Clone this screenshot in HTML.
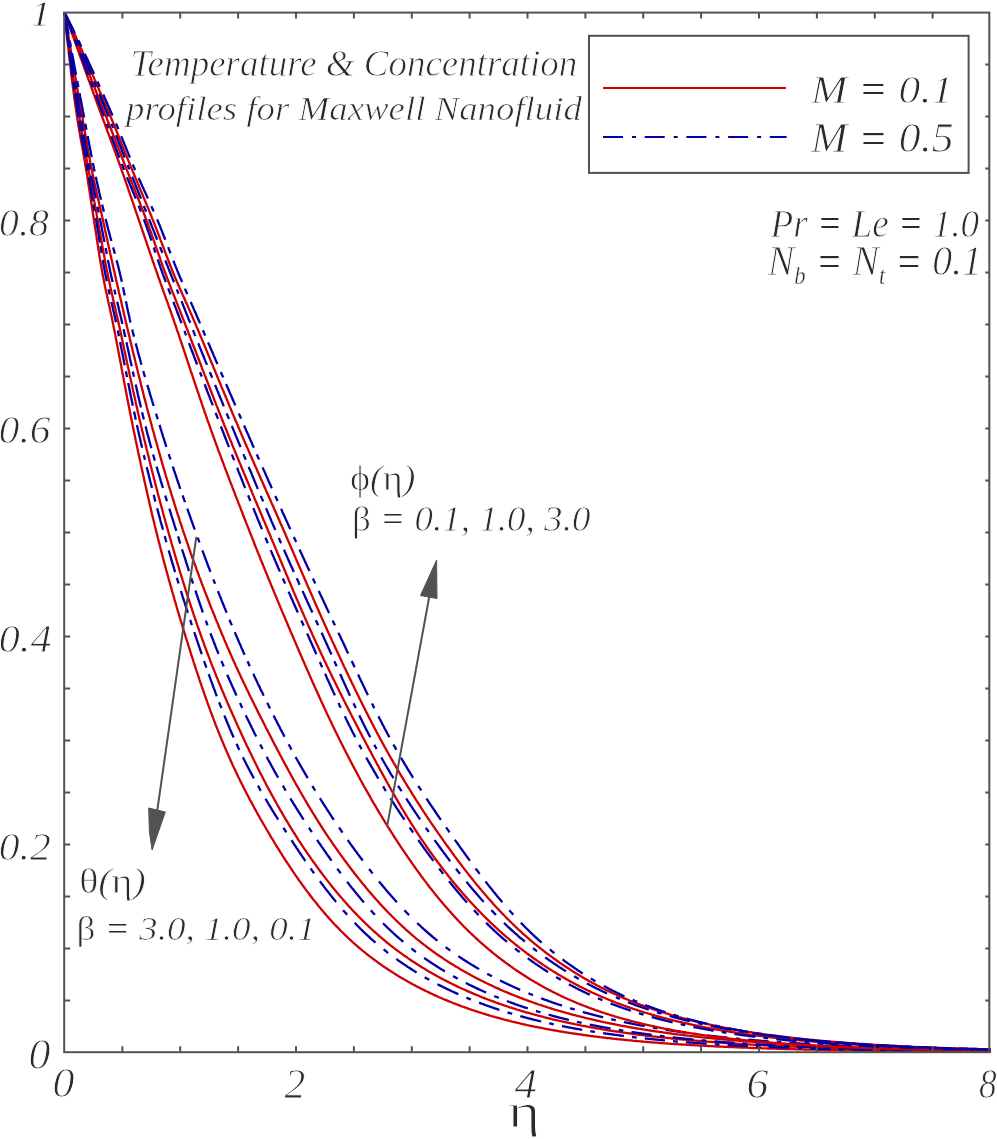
<!DOCTYPE html>
<html><head><meta charset="utf-8"><style>
html,body{margin:0;padding:0;background:#fff;}
body{width:997px;height:1139px;overflow:hidden;position:relative;}
svg{position:absolute;left:0;top:0;}
text{fill:#2a2a2a;stroke:#fff;stroke-width:0.8px;}
</style></head><body>
<svg width="997" height="1139" viewBox="0 0 997 1139">
<rect width="997" height="1139" fill="#fff"/>
<g fill="none" stroke-width="2.3" stroke-linejoin="round">
<path d="M64.5,12.5 L65.1,18.3 L65.7,23.9 L66.2,29.5 L66.8,34.9 L67.4,40.3 L68.0,45.6 L68.6,50.8 L69.1,55.9 L69.7,60.9 L70.3,65.8 L70.9,70.6 L71.4,75.4 L72.0,80.0 L72.6,84.6 L73.2,89.1 L73.8,93.5 L74.3,97.8 L74.9,102.0 L75.5,106.2 L76.1,110.2 L76.7,114.2 L77.2,118.1 L77.8,121.9 L78.4,125.5 L79.0,128.9 L79.6,132.3 L80.1,135.6 L80.7,138.8 L81.3,142.0 L81.9,145.2 L82.5,148.3 L83.0,151.5 L83.6,154.7 L84.2,157.9 L84.8,161.2 L85.3,164.6 L85.9,168.1 L86.5,171.6 L87.1,175.3 L87.7,179.0 L88.2,182.7 L88.8,186.5 L89.4,190.3 L90.0,194.1 L90.6,198.0 L91.1,201.8 L91.7,205.6 L92.3,209.5 L92.9,213.2 L93.5,217.0 L94.0,220.7 L94.6,224.4 L95.2,228.2 L95.8,232.0 L96.4,235.8 L96.9,239.6 L97.5,243.3 L98.1,247.1 L98.7,250.8 L99.2,254.4 L99.8,258.0 L100.4,261.6 L101.0,265.0 L101.6,268.4 L102.1,271.6 L102.7,274.8 L103.3,277.8 L103.9,280.8 L104.5,283.7 L105.0,286.5 L105.6,289.3 L106.2,292.0 L106.8,294.6 L107.4,297.3 L107.9,299.9 L108.5,302.5 L109.1,305.2 L109.7,307.8 L110.2,310.4 L110.8,313.1 L111.4,315.8 L112.0,318.6 L112.6,321.4 L113.1,324.2 L113.7,327.1 L114.3,330.1 L114.9,333.0 L115.5,336.0 L116.0,339.0 L116.6,342.0 L117.2,345.0 L117.8,348.0 L118.4,351.1 L118.9,354.1 L119.5,357.2 L120.1,360.3 L120.7,363.3 L121.3,366.4 L121.8,369.5 L122.4,372.5 L123.0,375.6 L123.6,378.7 L124.1,381.8 L124.7,384.8 L125.3,387.9 L125.9,390.9 L126.5,393.9 L127.0,397.0 L127.6,400.0 L128.2,403.0 L128.8,405.9 L129.4,408.9 L129.9,411.8 L130.5,414.8 L131.1,417.7 L131.7,420.5 L132.3,423.4 L132.8,426.2 L133.4,429.1 L134.0,431.9 L134.6,434.6 L135.2,437.4 L135.7,440.2 L136.3,443.0 L136.9,445.7 L137.5,448.5 L138.0,451.2 L138.6,453.9 L139.2,456.7 L139.8,459.4 L140.4,462.1 L140.9,464.8 L141.5,467.4 L142.1,470.1 L142.7,472.8 L143.3,475.4 L143.8,478.1 L144.4,480.7 L145.0,483.3 L145.6,485.9 L146.2,488.5 L146.7,491.1 L147.3,493.6 L147.9,496.2 L148.5,498.7 L149.1,501.2 L149.6,503.7 L150.2,506.2 L150.8,508.7 L151.4,511.2 L151.9,513.7 L152.5,516.1 L153.1,518.5 L153.7,521.0 L154.3,523.4 L154.8,525.7 L155.4,528.1 L156.0,530.5 L156.6,532.8 L157.2,535.1 L157.7,537.5 L158.3,539.8 L158.9,542.1 L159.5,544.3 L160.1,546.6 L160.6,548.8 L161.2,551.1 L161.8,553.3 L162.4,555.5 L162.9,557.7 L163.5,559.9 L164.1,562.1 L164.7,564.3 L165.3,566.4 L165.8,568.6 L166.4,570.7 L167.0,572.8 L167.6,574.9 L168.2,577.0 L168.7,579.1 L169.3,581.2 L169.9,583.3 L170.5,585.3 L171.1,587.4 L171.6,589.4 L172.2,591.5 L172.8,593.5 L173.4,595.5 L174.0,597.5 L174.5,599.6 L175.1,601.5 L175.7,603.5 L176.3,605.5 L176.8,607.5 L177.4,609.5 L178.0,611.4 L178.6,613.4 L179.2,615.3 L179.7,617.3 L180.3,619.2 L180.9,621.1 L181.5,623.0 L182.1,624.9 L182.6,626.8 L183.2,628.7 L183.8,630.6 L184.4,632.5 L185.0,634.4 L185.5,636.3 L186.1,638.2 L186.7,640.0 L187.3,641.9 L187.9,643.7 L188.4,645.6 L189.0,647.4 L189.6,649.3 L190.2,651.1 L190.7,652.9 L191.3,654.8 L191.9,656.6 L192.5,658.4 L193.1,660.2 L193.6,662.0 L194.2,663.8 L194.8,665.5 L195.4,667.3 L196.0,669.1 L196.5,670.8 L197.1,672.6 L197.7,674.3 L198.3,676.1 L198.9,677.8 L199.4,679.5 L200.0,681.3 L200.6,683.0 L201.2,684.7 L201.7,686.4 L202.3,688.0 L202.9,689.7 L203.5,691.4 L204.1,693.1 L204.6,694.7 L205.2,696.4 L205.8,698.0 L206.4,699.6 L207.0,701.3 L207.5,702.9 L208.1,704.5 L208.7,706.1 L209.3,707.7 L209.9,709.3 L210.4,710.8 L211.0,712.4 L211.6,714.0 L212.2,715.5 L212.8,717.1 L213.3,718.6 L213.9,720.1 L214.5,721.6 L215.1,723.1 L215.6,724.6 L216.2,726.1 L216.8,727.6 L217.4,729.1 L218.0,730.5 L218.5,732.0 L219.1,733.4 L219.7,734.9 L220.3,736.3 L220.9,737.7 L221.4,739.1 L222.0,740.5 L222.6,741.9 L223.2,743.3 L223.8,744.7 L224.3,746.1 L224.9,747.4 L225.5,748.8 L226.1,750.1 L226.7,751.5 L227.2,752.8 L227.8,754.1 L228.4,755.4 L229.0,756.7 L229.5,758.0 L230.1,759.3 L230.7,760.6 L231.3,761.9 L231.9,763.1 L232.4,764.4 L233.0,765.7 L233.6,766.9 L234.2,768.2 L234.8,769.4 L235.3,770.6 L235.9,771.8 L236.5,773.1 L237.1,774.3 L237.7,775.5 L238.2,776.7 L238.8,777.9 L239.4,779.0 L240.0,780.2 L240.6,781.4 L241.1,782.6 L241.7,783.7 L242.3,784.9 L242.9,786.0 L243.4,787.2 L244.0,788.3 L244.6,789.5 L245.2,790.6 L245.8,791.7 L246.3,792.9 L246.9,794.0 L247.5,795.1 L248.1,796.2 L248.7,797.3 L249.2,798.4 L249.8,799.5 L250.4,800.6 L251.0,801.7 L251.6,802.7 L252.1,803.8 L252.7,804.9 L253.3,806.0 L253.9,807.0 L254.4,808.1 L255.0,809.1 L255.6,810.2 L256.2,811.2 L256.8,812.3 L257.3,813.3 L257.9,814.4 L258.5,815.4 L259.1,816.4 L259.7,817.5 L260.2,818.5 L260.8,819.5 L261.4,820.5 L262.0,821.5 L262.6,822.5 L263.1,823.5 L263.7,824.5 L264.3,825.5 L265.5,827.5 L266.6,829.5 L267.8,831.5 L268.9,833.4 L270.1,835.4 L271.2,837.3 L272.4,839.2 L273.6,841.2 L274.7,843.1 L275.9,845.0 L277.0,846.8 L278.2,848.7 L279.4,850.6 L280.5,852.4 L281.7,854.2 L282.8,856.1 L284.0,857.9 L285.1,859.7 L286.3,861.5 L287.5,863.2 L288.6,865.0 L289.8,866.7 L290.9,868.5 L292.1,870.2 L293.2,871.9 L294.4,873.6 L295.6,875.3 L296.7,877.0 L297.9,878.6 L299.0,880.3 L300.2,881.9 L301.4,883.5 L302.5,885.1 L303.7,886.7 L304.8,888.3 L306.0,889.9 L307.1,891.4 L308.3,892.9 L309.5,894.5 L310.6,896.0 L311.8,897.5 L312.9,899.0 L314.1,900.4 L315.3,901.9 L316.4,903.3 L317.6,904.8 L318.7,906.2 L319.9,907.6 L321.0,909.0 L322.2,910.4 L323.4,911.7 L324.5,913.1 L325.7,914.4 L326.8,915.8 L328.0,917.1 L329.2,918.4 L330.3,919.7 L331.5,920.9 L332.6,922.2 L333.8,923.5 L334.9,924.7 L336.1,925.9 L337.3,927.1 L338.4,928.3 L339.6,929.5 L340.7,930.7 L341.9,931.9 L343.1,933.0 L344.2,934.2 L345.4,935.3 L346.5,936.4 L347.7,937.5 L348.8,938.6 L350.0,939.7 L351.2,940.7 L352.3,941.8 L353.5,942.8 L354.6,943.9 L355.8,944.9 L357.0,945.9 L358.1,946.9 L359.3,947.9 L360.4,948.9 L361.6,949.8 L362.7,950.8 L363.9,951.7 L365.1,952.7 L366.2,953.6 L367.4,954.5 L368.5,955.4 L369.7,956.3 L370.9,957.2 L372.0,958.1 L373.2,959.0 L374.3,959.8 L375.5,960.7 L376.6,961.5 L377.8,962.4 L379.0,963.2 L380.1,964.0 L381.3,964.8 L382.4,965.7 L383.6,966.5 L384.7,967.2 L385.9,968.0 L387.1,968.8 L388.2,969.6 L389.4,970.3 L390.5,971.1 L391.7,971.8 L392.9,972.6 L394.0,973.3 L395.2,974.0 L396.3,974.8 L397.5,975.5 L398.6,976.2 L399.8,976.9 L401.0,977.6 L402.1,978.3 L403.3,978.9 L404.4,979.6 L405.6,980.3 L406.8,980.9 L407.9,981.6 L409.1,982.2 L410.2,982.9 L411.4,983.5 L412.5,984.2 L413.7,984.8 L414.9,985.4 L416.0,986.0 L417.2,986.6 L418.3,987.2 L419.5,987.8 L420.7,988.4 L421.8,989.0 L423.0,989.6 L424.1,990.1 L425.3,990.7 L426.4,991.3 L427.6,991.8 L428.8,992.4 L429.9,992.9 L431.1,993.5 L432.2,994.0 L433.4,994.6 L434.6,995.1 L435.7,995.6 L436.9,996.1 L438.0,996.7 L439.2,997.2 L440.3,997.7 L441.5,998.2 L442.7,998.7 L443.8,999.2 L445.0,999.7 L446.1,1000.1 L447.3,1000.6 L448.5,1001.1 L449.6,1001.6 L450.8,1002.0 L451.9,1002.5 L453.1,1003.0 L454.2,1003.4 L455.4,1003.9 L456.6,1004.3 L457.7,1004.8 L458.9,1005.2 L460.0,1005.6 L461.2,1006.1 L462.3,1006.5 L463.5,1006.9 L464.7,1007.3 L465.8,1007.7 L467.0,1008.1 L468.1,1008.6 L469.3,1009.0 L470.5,1009.4 L471.6,1009.8 L472.8,1010.1 L473.9,1010.5 L475.1,1010.9 L476.2,1011.3 L477.4,1011.7 L478.6,1012.1 L479.7,1012.4 L480.9,1012.8 L482.0,1013.2 L483.2,1013.5 L484.4,1013.9 L485.5,1014.2 L486.7,1014.6 L487.8,1014.9 L489.0,1015.3 L490.1,1015.6 L491.3,1016.0 L492.5,1016.3 L493.6,1016.6 L494.8,1017.0 L495.9,1017.3 L497.1,1017.6 L498.3,1017.9 L499.4,1018.2 L500.6,1018.6 L501.7,1018.9 L502.9,1019.2 L504.0,1019.5 L505.2,1019.8 L506.4,1020.1 L507.5,1020.4 L508.7,1020.7 L509.8,1021.0 L511.0,1021.3 L512.2,1021.6 L513.3,1021.8 L514.5,1022.1 L515.6,1022.4 L516.8,1022.7 L517.9,1022.9 L519.1,1023.2 L520.3,1023.5 L521.4,1023.8 L522.6,1024.0 L523.7,1024.3 L524.9,1024.5 L526.1,1024.8 L527.2,1025.1 L528.4,1025.3 L529.5,1025.6 L530.7,1025.8 L531.8,1026.0 L533.0,1026.3 L534.2,1026.5 L535.3,1026.8 L536.5,1027.0 L537.6,1027.2 L538.8,1027.5 L540.0,1027.7 L541.1,1027.9 L542.3,1028.2 L543.4,1028.4 L544.6,1028.6 L545.7,1028.8 L546.9,1029.0 L548.1,1029.3 L549.2,1029.5 L550.4,1029.7 L551.5,1029.9 L552.7,1030.1 L553.8,1030.3 L555.0,1030.5 L556.2,1030.7 L557.3,1030.9 L558.5,1031.1 L559.6,1031.3 L560.8,1031.5 L562.0,1031.7 L563.1,1031.9 L564.3,1032.1 L565.4,1032.3 L566.6,1032.4 L567.7,1032.6 L568.9,1032.8 L570.1,1033.0 L571.2,1033.2 L572.4,1033.3 L573.5,1033.5 L574.7,1033.7 L575.9,1033.9 L577.0,1034.0 L578.2,1034.2 L579.3,1034.4 L580.5,1034.5 L581.6,1034.7 L582.8,1034.9 L584.0,1035.0 L585.1,1035.2 L586.3,1035.4 L587.4,1035.5 L588.6,1035.7 L589.8,1035.8 L590.9,1036.0 L592.1,1036.1 L593.2,1036.3 L594.4,1036.4 L595.5,1036.6 L596.7,1036.7 L597.9,1036.9 L599.0,1037.0 L600.2,1037.2 L601.3,1037.3 L602.5,1037.4 L603.7,1037.6 L604.8,1037.7 L606.0,1037.8 L607.1,1038.0 L608.3,1038.1 L609.4,1038.2 L610.6,1038.4 L611.8,1038.5 L612.9,1038.6 L614.1,1038.8 L615.2,1038.9 L616.4,1039.0 L617.6,1039.1 L618.7,1039.3 L619.9,1039.4 L621.0,1039.5 L622.2,1039.6 L623.3,1039.7 L624.5,1039.9 L625.7,1040.0 L626.8,1040.1 L628.0,1040.2 L629.1,1040.3 L630.3,1040.4 L631.5,1040.5 L632.6,1040.6 L633.8,1040.8 L634.9,1040.9 L636.1,1041.0 L637.2,1041.1 L638.4,1041.2 L639.6,1041.3 L640.7,1041.4 L641.9,1041.5 L643.0,1041.6 L644.2,1041.7 L645.3,1041.8 L646.5,1041.9 L647.7,1042.0 L648.8,1042.1 L650.0,1042.2 L651.1,1042.3 L652.3,1042.4 L653.5,1042.5 L654.6,1042.6 L655.8,1042.6 L656.9,1042.7 L658.1,1042.8 L659.2,1042.9 L660.4,1043.0 L661.6,1043.1 L662.7,1043.2 L663.9,1043.3 L665.0,1043.3 L666.2,1043.4 L667.4,1043.5 L668.5,1043.6 L669.7,1043.7 L670.8,1043.8 L672.0,1043.8 L673.1,1043.9 L674.3,1044.0 L675.5,1044.1 L676.6,1044.2 L677.8,1044.2 L678.9,1044.3 L680.1,1044.4 L681.3,1044.5 L682.4,1044.5 L683.6,1044.6 L684.7,1044.7 L685.9,1044.7 L687.0,1044.8 L688.2,1044.9 L689.4,1045.0 L690.5,1045.0 L691.7,1045.1 L692.8,1045.2 L694.0,1045.2 L695.2,1045.3 L696.3,1045.4 L697.5,1045.4 L698.6,1045.5 L699.8,1045.6 L700.9,1045.6 L702.1,1045.7 L703.3,1045.7 L704.4,1045.8 L705.6,1045.9 L706.7,1045.9 L707.9,1046.0 L709.1,1046.1 L710.2,1046.1 L711.4,1046.2 L712.5,1046.2 L713.7,1046.3 L714.8,1046.3 L716.0,1046.4 L717.2,1046.5 L718.3,1046.5 L719.5,1046.6 L720.6,1046.6 L721.8,1046.7 L723.0,1046.7 L724.1,1046.8 L725.3,1046.8 L726.4,1046.9 L727.6,1046.9 L728.7,1047.0 L729.9,1047.0 L731.1,1047.1 L732.2,1047.1 L733.4,1047.2 L734.5,1047.2 L735.7,1047.3 L736.8,1047.3 L738.0,1047.4 L739.2,1047.4 L740.3,1047.5 L741.5,1047.5 L742.6,1047.6 L743.8,1047.6 L745.0,1047.7 L746.1,1047.7 L747.3,1047.7 L748.4,1047.8 L749.6,1047.8 L750.7,1047.9 L751.9,1047.9 L753.1,1048.0 L754.2,1048.0 L755.4,1048.0 L756.5,1048.1 L757.7,1048.1 L758.9,1048.2 L760.0,1048.2 L761.2,1048.2 L762.3,1048.3 L763.5,1048.3 L764.6,1048.4 L765.8,1048.4 L767.0,1048.4 L768.1,1048.5 L769.3,1048.5 L770.4,1048.5 L771.6,1048.6 L772.8,1048.6 L773.9,1048.7 L775.1,1048.7 L776.2,1048.7 L777.4,1048.8 L778.5,1048.8 L779.7,1048.8 L780.9,1048.9 L782.0,1048.9 L783.2,1048.9 L784.3,1049.0 L785.5,1049.0 L786.7,1049.0 L787.8,1049.1 L789.0,1049.1 L790.1,1049.1 L791.3,1049.2 L792.4,1049.2 L793.6,1049.2 L794.8,1049.2 L795.9,1049.3 L797.1,1049.3 L798.2,1049.3 L799.4,1049.4 L800.6,1049.4 L801.7,1049.4 L802.9,1049.4 L804.0,1049.5 L805.2,1049.5 L806.3,1049.5 L807.5,1049.6 L808.7,1049.6 L809.8,1049.6 L811.0,1049.6 L812.1,1049.7 L813.3,1049.7 L814.4,1049.7 L815.6,1049.7 L816.8,1049.8 L817.9,1049.8 L819.1,1049.8 L820.2,1049.8 L821.4,1049.9 L822.6,1049.9 L823.7,1049.9 L824.9,1049.9 L826.0,1050.0 L827.2,1050.0 L828.3,1050.0 L829.5,1050.0 L830.7,1050.1 L831.8,1050.1 L833.0,1050.1 L834.1,1050.1 L835.3,1050.1 L836.5,1050.2 L837.6,1050.2 L838.8,1050.2 L839.9,1050.2 L841.1,1050.2 L842.2,1050.3 L843.4,1050.3 L844.6,1050.3 L845.7,1050.3 L846.9,1050.3 L848.0,1050.4 L849.2,1050.4 L850.4,1050.4 L851.5,1050.4 L852.7,1050.4 L853.8,1050.5 L855.0,1050.5 L856.1,1050.5 L857.3,1050.5 L858.5,1050.5 L859.6,1050.6 L860.8,1050.6 L861.9,1050.6 L863.1,1050.6 L864.3,1050.6 L865.4,1050.6 L866.6,1050.7 L867.7,1050.7 L868.9,1050.7 L870.0,1050.7 L871.2,1050.7 L872.4,1050.7 L873.5,1050.8 L874.7,1050.8 L875.8,1050.8 L877.0,1050.8 L878.2,1050.8 L879.3,1050.8 L880.5,1050.9 L881.6,1050.9 L882.8,1050.9 L883.9,1050.9 L885.1,1050.9 L886.3,1050.9 L887.4,1050.9 L888.6,1051.0 L889.7,1051.0 L890.9,1051.0 L892.1,1051.0 L893.2,1051.0 L894.4,1051.0 L895.5,1051.0 L896.7,1051.1 L897.8,1051.1 L899.0,1051.1 L900.2,1051.1 L901.3,1051.1 L902.5,1051.1 L903.6,1051.1 L904.8,1051.1 L905.9,1051.2 L907.1,1051.2 L908.3,1051.2 L909.4,1051.2 L910.6,1051.2 L911.7,1051.2 L912.9,1051.2 L914.1,1051.2 L915.2,1051.3 L916.4,1051.3 L917.5,1051.3 L918.7,1051.3 L919.8,1051.3 L921.0,1051.3 L922.2,1051.3 L923.3,1051.3 L924.5,1051.3 L925.6,1051.4 L926.8,1051.4 L928.0,1051.4 L929.1,1051.4 L930.3,1051.4 L931.4,1051.4 L932.6,1051.4 L933.7,1051.4 L934.9,1051.4 L936.1,1051.4 L937.2,1051.5 L938.4,1051.5 L939.5,1051.5 L940.7,1051.5 L941.9,1051.5 L943.0,1051.5 L944.2,1051.5 L945.3,1051.5 L946.5,1051.5 L947.6,1051.5 L948.8,1051.5 L950.0,1051.6 L951.1,1051.6 L952.3,1051.6 L953.4,1051.6 L954.6,1051.6 L955.8,1051.6 L956.9,1051.6 L958.1,1051.6 L959.2,1051.6 L960.4,1051.6 L961.5,1051.6 L962.7,1051.6 L963.9,1051.7 L965.0,1051.7 L966.2,1051.7 L967.3,1051.7 L968.5,1051.7 L969.7,1051.7 L970.8,1051.7 L972.0,1051.7 L973.1,1051.7 L974.3,1051.7 L975.4,1051.7 L976.6,1051.7 L977.8,1051.7 L978.9,1051.7 L980.1,1051.8 L981.2,1051.8 L982.4,1051.8 L983.6,1051.8 L984.7,1051.8 L985.9,1051.8 L987.0,1051.8 L988.2,1051.8 L989.3,1051.8 L990.5,1051.8" stroke="#d00000"/>
<path d="M64.5,12.5 L65.1,17.1 L65.7,21.7 L66.2,26.2 L66.8,30.7 L67.4,35.1 L68.0,39.5 L68.6,43.9 L69.1,48.2 L69.7,52.4 L70.3,56.6 L70.9,60.8 L71.4,64.9 L72.0,69.0 L72.6,73.1 L73.2,77.1 L73.8,81.1 L74.3,85.0 L74.9,88.9 L75.5,92.7 L76.1,96.6 L76.7,100.3 L77.2,104.1 L77.8,107.8 L78.4,111.5 L79.0,115.1 L79.6,118.7 L80.1,122.2 L80.7,125.7 L81.3,129.1 L81.9,132.5 L82.5,135.9 L83.0,139.2 L83.6,142.4 L84.2,145.7 L84.8,148.9 L85.3,152.1 L85.9,155.3 L86.5,158.5 L87.1,161.7 L87.7,165.0 L88.2,168.2 L88.8,171.4 L89.4,174.6 L90.0,177.8 L90.6,181.0 L91.1,184.2 L91.7,187.4 L92.3,190.5 L92.9,193.7 L93.5,196.8 L94.0,200.0 L94.6,203.1 L95.2,206.3 L95.8,209.4 L96.4,212.6 L96.9,215.7 L97.5,218.9 L98.1,222.1 L98.7,225.3 L99.2,228.5 L99.8,231.8 L100.4,235.0 L101.0,238.3 L101.6,241.6 L102.1,244.8 L102.7,248.1 L103.3,251.3 L103.9,254.5 L104.5,257.7 L105.0,260.8 L105.6,263.9 L106.2,266.9 L106.8,269.9 L107.4,272.8 L107.9,275.6 L108.5,278.4 L109.1,281.1 L109.7,283.8 L110.2,286.4 L110.8,289.0 L111.4,291.6 L112.0,294.2 L112.6,296.7 L113.1,299.2 L113.7,301.7 L114.3,304.2 L114.9,306.7 L115.5,309.3 L116.0,311.8 L116.6,314.3 L117.2,316.9 L117.8,319.4 L118.4,322.0 L118.9,324.7 L119.5,327.3 L120.1,330.0 L120.7,332.7 L121.3,335.3 L121.8,338.0 L122.4,340.7 L123.0,343.4 L123.6,346.1 L124.1,348.8 L124.7,351.5 L125.3,354.2 L125.9,357.0 L126.5,359.7 L127.0,362.4 L127.6,365.1 L128.2,367.8 L128.8,370.5 L129.4,373.2 L129.9,375.9 L130.5,378.6 L131.1,381.2 L131.7,383.9 L132.3,386.6 L132.8,389.2 L133.4,391.9 L134.0,394.5 L134.6,397.2 L135.2,399.8 L135.7,402.4 L136.3,405.0 L136.9,407.6 L137.5,410.2 L138.0,412.7 L138.6,415.3 L139.2,417.8 L139.8,420.3 L140.4,422.8 L140.9,425.3 L141.5,427.7 L142.1,430.2 L142.7,432.6 L143.3,435.1 L143.8,437.5 L144.4,439.9 L145.0,442.3 L145.6,444.7 L146.2,447.1 L146.7,449.5 L147.3,451.8 L147.9,454.2 L148.5,456.5 L149.1,458.9 L149.6,461.2 L150.2,463.5 L150.8,465.9 L151.4,468.2 L151.9,470.5 L152.5,472.8 L153.1,475.0 L153.7,477.3 L154.3,479.6 L154.8,481.8 L155.4,484.1 L156.0,486.3 L156.6,488.5 L157.2,490.8 L157.7,493.0 L158.3,495.2 L158.9,497.4 L159.5,499.5 L160.1,501.7 L160.6,503.9 L161.2,506.0 L161.8,508.2 L162.4,510.3 L162.9,512.5 L163.5,514.6 L164.1,516.7 L164.7,518.8 L165.3,520.9 L165.8,523.0 L166.4,525.1 L167.0,527.2 L167.6,529.2 L168.2,531.3 L168.7,533.3 L169.3,535.4 L169.9,537.4 L170.5,539.5 L171.1,541.5 L171.6,543.5 L172.2,545.5 L172.8,547.5 L173.4,549.5 L174.0,551.5 L174.5,553.4 L175.1,555.4 L175.7,557.4 L176.3,559.3 L176.8,561.3 L177.4,563.2 L178.0,565.1 L178.6,567.1 L179.2,569.0 L179.7,570.9 L180.3,572.8 L180.9,574.7 L181.5,576.6 L182.1,578.4 L182.6,580.3 L183.2,582.2 L183.8,584.0 L184.4,585.9 L185.0,587.7 L185.5,589.5 L186.1,591.4 L186.7,593.2 L187.3,595.0 L187.9,596.8 L188.4,598.6 L189.0,600.4 L189.6,602.1 L190.2,603.9 L190.7,605.7 L191.3,607.4 L191.9,609.2 L192.5,610.9 L193.1,612.7 L193.6,614.4 L194.2,616.1 L194.8,617.8 L195.4,619.5 L196.0,621.2 L196.5,622.9 L197.1,624.6 L197.7,626.3 L198.3,627.9 L198.9,629.6 L199.4,631.2 L200.0,632.9 L200.6,634.5 L201.2,636.1 L201.7,637.8 L202.3,639.4 L202.9,641.0 L203.5,642.6 L204.1,644.2 L204.6,645.7 L205.2,647.3 L205.8,648.9 L206.4,650.4 L207.0,652.0 L207.5,653.5 L208.1,655.0 L208.7,656.6 L209.3,658.1 L209.9,659.6 L210.4,661.1 L211.0,662.6 L211.6,664.1 L212.2,665.6 L212.8,667.0 L213.3,668.5 L213.9,670.0 L214.5,671.4 L215.1,672.9 L215.6,674.3 L216.2,675.8 L216.8,677.2 L217.4,678.6 L218.0,680.1 L218.5,681.5 L219.1,682.9 L219.7,684.3 L220.3,685.7 L220.9,687.1 L221.4,688.5 L222.0,689.9 L222.6,691.3 L223.2,692.6 L223.8,694.0 L224.3,695.4 L224.9,696.7 L225.5,698.1 L226.1,699.4 L226.7,700.8 L227.2,702.1 L227.8,703.5 L228.4,704.8 L229.0,706.1 L229.5,707.5 L230.1,708.8 L230.7,710.1 L231.3,711.4 L231.9,712.7 L232.4,714.0 L233.0,715.3 L233.6,716.6 L234.2,717.9 L234.8,719.2 L235.3,720.5 L235.9,721.8 L236.5,723.1 L237.1,724.4 L237.7,725.6 L238.2,726.9 L238.8,728.2 L239.4,729.4 L240.0,730.7 L240.6,732.0 L241.1,733.2 L241.7,734.5 L242.3,735.7 L242.9,737.0 L243.4,738.2 L244.0,739.5 L244.6,740.7 L245.2,742.0 L245.8,743.2 L246.3,744.4 L246.9,745.7 L247.5,746.9 L248.1,748.1 L248.7,749.3 L249.2,750.5 L249.8,751.7 L250.4,752.9 L251.0,754.1 L251.6,755.3 L252.1,756.5 L252.7,757.7 L253.3,758.9 L253.9,760.1 L254.4,761.3 L255.0,762.4 L255.6,763.6 L256.2,764.8 L256.8,765.9 L257.3,767.1 L257.9,768.3 L258.5,769.4 L259.1,770.6 L259.7,771.7 L260.2,772.9 L260.8,774.0 L261.4,775.1 L262.0,776.3 L262.6,777.4 L263.1,778.5 L263.7,779.6 L264.3,780.7 L264.9,781.8 L265.5,783.0 L266.0,784.1 L266.6,785.2 L267.2,786.3 L267.8,787.3 L268.3,788.4 L268.9,789.5 L269.5,790.6 L270.1,791.7 L270.7,792.7 L271.2,793.8 L271.8,794.9 L272.4,795.9 L273.0,797.0 L273.6,798.1 L274.1,799.1 L274.7,800.2 L275.3,801.2 L275.9,802.2 L276.5,803.3 L277.0,804.3 L277.6,805.3 L278.2,806.4 L278.8,807.4 L279.4,808.4 L279.9,809.4 L280.5,810.4 L281.1,811.4 L281.7,812.4 L282.8,814.4 L284.0,816.4 L285.1,818.4 L286.3,820.3 L287.5,822.2 L288.6,824.1 L289.8,826.1 L290.9,827.9 L292.1,829.8 L293.2,831.7 L294.4,833.5 L295.6,835.3 L296.7,837.2 L297.9,839.0 L299.0,840.8 L300.2,842.5 L301.4,844.3 L302.5,846.0 L303.7,847.8 L304.8,849.5 L306.0,851.2 L307.1,852.9 L308.3,854.6 L309.5,856.2 L310.6,857.9 L311.8,859.6 L312.9,861.2 L314.1,862.8 L315.3,864.4 L316.4,866.0 L317.6,867.6 L318.7,869.2 L319.9,870.8 L321.0,872.3 L322.2,873.9 L323.4,875.4 L324.5,876.9 L325.7,878.4 L326.8,879.9 L328.0,881.4 L329.2,882.9 L330.3,884.4 L331.5,885.8 L332.6,887.2 L333.8,888.7 L334.9,890.1 L336.1,891.5 L337.3,892.9 L338.4,894.3 L339.6,895.6 L340.7,897.0 L341.9,898.3 L343.1,899.7 L344.2,901.0 L345.4,902.3 L346.5,903.6 L347.7,904.9 L348.8,906.2 L350.0,907.4 L351.2,908.7 L352.3,910.0 L353.5,911.2 L354.6,912.4 L355.8,913.6 L357.0,914.8 L358.1,916.0 L359.3,917.2 L360.4,918.4 L361.6,919.5 L362.7,920.7 L363.9,921.8 L365.1,923.0 L366.2,924.1 L367.4,925.2 L368.5,926.3 L369.7,927.4 L370.9,928.5 L372.0,929.5 L373.2,930.6 L374.3,931.6 L375.5,932.7 L376.6,933.7 L377.8,934.7 L379.0,935.8 L380.1,936.8 L381.3,937.7 L382.4,938.7 L383.6,939.7 L384.7,940.7 L385.9,941.6 L387.1,942.6 L388.2,943.5 L389.4,944.4 L390.5,945.4 L391.7,946.3 L392.9,947.2 L394.0,948.1 L395.2,948.9 L396.3,949.8 L397.5,950.7 L398.6,951.5 L399.8,952.4 L401.0,953.2 L402.1,954.1 L403.3,954.9 L404.4,955.7 L405.6,956.5 L406.8,957.3 L407.9,958.1 L409.1,958.9 L410.2,959.7 L411.4,960.5 L412.5,961.3 L413.7,962.0 L414.9,962.8 L416.0,963.5 L417.2,964.3 L418.3,965.0 L419.5,965.7 L420.7,966.5 L421.8,967.2 L423.0,967.9 L424.1,968.6 L425.3,969.3 L426.4,970.0 L427.6,970.7 L428.8,971.4 L429.9,972.0 L431.1,972.7 L432.2,973.4 L433.4,974.0 L434.6,974.7 L435.7,975.3 L436.9,976.0 L438.0,976.6 L439.2,977.2 L440.3,977.9 L441.5,978.5 L442.7,979.1 L443.8,979.7 L445.0,980.3 L446.1,980.9 L447.3,981.5 L448.5,982.1 L449.6,982.7 L450.8,983.2 L451.9,983.8 L453.1,984.4 L454.2,985.0 L455.4,985.5 L456.6,986.1 L457.7,986.6 L458.9,987.2 L460.0,987.7 L461.2,988.2 L462.3,988.8 L463.5,989.3 L464.7,989.8 L465.8,990.3 L467.0,990.9 L468.1,991.4 L469.3,991.9 L470.5,992.4 L471.6,992.9 L472.8,993.4 L473.9,993.9 L475.1,994.4 L476.2,994.8 L477.4,995.3 L478.6,995.8 L479.7,996.3 L480.9,996.7 L482.0,997.2 L483.2,997.7 L484.4,998.1 L485.5,998.6 L486.7,999.0 L487.8,999.5 L489.0,999.9 L490.1,1000.3 L491.3,1000.8 L492.5,1001.2 L493.6,1001.6 L494.8,1002.1 L495.9,1002.5 L497.1,1002.9 L498.3,1003.3 L499.4,1003.7 L500.6,1004.1 L501.7,1004.5 L502.9,1004.9 L504.0,1005.3 L505.2,1005.7 L506.4,1006.1 L507.5,1006.5 L508.7,1006.9 L509.8,1007.3 L511.0,1007.6 L512.2,1008.0 L513.3,1008.4 L514.5,1008.7 L515.6,1009.1 L516.8,1009.5 L517.9,1009.8 L519.1,1010.2 L520.3,1010.5 L521.4,1010.9 L522.6,1011.2 L523.7,1011.6 L524.9,1011.9 L526.1,1012.3 L527.2,1012.6 L528.4,1012.9 L529.5,1013.2 L530.7,1013.6 L531.8,1013.9 L533.0,1014.2 L534.2,1014.5 L535.3,1014.9 L536.5,1015.2 L537.6,1015.5 L538.8,1015.8 L540.0,1016.1 L541.1,1016.4 L542.3,1016.7 L543.4,1017.0 L544.6,1017.3 L545.7,1017.6 L546.9,1017.9 L548.1,1018.2 L549.2,1018.5 L550.4,1018.7 L551.5,1019.0 L552.7,1019.3 L553.8,1019.6 L555.0,1019.8 L556.2,1020.1 L557.3,1020.4 L558.5,1020.7 L559.6,1020.9 L560.8,1021.2 L562.0,1021.4 L563.1,1021.7 L564.3,1022.0 L565.4,1022.2 L566.6,1022.5 L567.7,1022.7 L568.9,1023.0 L570.1,1023.2 L571.2,1023.5 L572.4,1023.7 L573.5,1023.9 L574.7,1024.2 L575.9,1024.4 L577.0,1024.6 L578.2,1024.9 L579.3,1025.1 L580.5,1025.3 L581.6,1025.6 L582.8,1025.8 L584.0,1026.0 L585.1,1026.2 L586.3,1026.4 L587.4,1026.7 L588.6,1026.9 L589.8,1027.1 L590.9,1027.3 L592.1,1027.5 L593.2,1027.7 L594.4,1027.9 L595.5,1028.1 L596.7,1028.3 L597.9,1028.5 L599.0,1028.7 L600.2,1028.9 L601.3,1029.1 L602.5,1029.3 L603.7,1029.5 L604.8,1029.7 L606.0,1029.9 L607.1,1030.1 L608.3,1030.3 L609.4,1030.5 L610.6,1030.6 L611.8,1030.8 L612.9,1031.0 L614.1,1031.2 L615.2,1031.4 L616.4,1031.5 L617.6,1031.7 L618.7,1031.9 L619.9,1032.1 L621.0,1032.2 L622.2,1032.4 L623.3,1032.6 L624.5,1032.7 L625.7,1032.9 L626.8,1033.1 L628.0,1033.2 L629.1,1033.4 L630.3,1033.5 L631.5,1033.7 L632.6,1033.9 L633.8,1034.0 L634.9,1034.2 L636.1,1034.3 L637.2,1034.5 L638.4,1034.6 L639.6,1034.8 L640.7,1034.9 L641.9,1035.1 L643.0,1035.2 L644.2,1035.4 L645.3,1035.5 L646.5,1035.6 L647.7,1035.8 L648.8,1035.9 L650.0,1036.1 L651.1,1036.2 L652.3,1036.3 L653.5,1036.5 L654.6,1036.6 L655.8,1036.7 L656.9,1036.9 L658.1,1037.0 L659.2,1037.1 L660.4,1037.2 L661.6,1037.4 L662.7,1037.5 L663.9,1037.6 L665.0,1037.7 L666.2,1037.9 L667.4,1038.0 L668.5,1038.1 L669.7,1038.2 L670.8,1038.4 L672.0,1038.5 L673.1,1038.6 L674.3,1038.7 L675.5,1038.8 L676.6,1038.9 L677.8,1039.0 L678.9,1039.2 L680.1,1039.3 L681.3,1039.4 L682.4,1039.5 L683.6,1039.6 L684.7,1039.7 L685.9,1039.8 L687.0,1039.9 L688.2,1040.0 L689.4,1040.1 L690.5,1040.2 L691.7,1040.3 L692.8,1040.4 L694.0,1040.5 L695.2,1040.6 L696.3,1040.7 L697.5,1040.8 L698.6,1040.9 L699.8,1041.0 L700.9,1041.1 L702.1,1041.2 L703.3,1041.3 L704.4,1041.4 L705.6,1041.5 L706.7,1041.6 L707.9,1041.7 L709.1,1041.8 L710.2,1041.9 L711.4,1041.9 L712.5,1042.0 L713.7,1042.1 L714.8,1042.2 L716.0,1042.3 L717.2,1042.4 L718.3,1042.5 L719.5,1042.5 L720.6,1042.6 L721.8,1042.7 L723.0,1042.8 L724.1,1042.9 L725.3,1043.0 L726.4,1043.0 L727.6,1043.1 L728.7,1043.2 L729.9,1043.3 L731.1,1043.3 L732.2,1043.4 L733.4,1043.5 L734.5,1043.6 L735.7,1043.6 L736.8,1043.7 L738.0,1043.8 L739.2,1043.9 L740.3,1043.9 L741.5,1044.0 L742.6,1044.1 L743.8,1044.1 L745.0,1044.2 L746.1,1044.3 L747.3,1044.4 L748.4,1044.4 L749.6,1044.5 L750.7,1044.6 L751.9,1044.6 L753.1,1044.7 L754.2,1044.8 L755.4,1044.8 L756.5,1044.9 L757.7,1044.9 L758.9,1045.0 L760.0,1045.1 L761.2,1045.1 L762.3,1045.2 L763.5,1045.3 L764.6,1045.3 L765.8,1045.4 L767.0,1045.4 L768.1,1045.5 L769.3,1045.6 L770.4,1045.6 L771.6,1045.7 L772.8,1045.7 L773.9,1045.8 L775.1,1045.8 L776.2,1045.9 L777.4,1045.9 L778.5,1046.0 L779.7,1046.1 L780.9,1046.1 L782.0,1046.2 L783.2,1046.2 L784.3,1046.3 L785.5,1046.3 L786.7,1046.4 L787.8,1046.4 L789.0,1046.5 L790.1,1046.5 L791.3,1046.6 L792.4,1046.6 L793.6,1046.7 L794.8,1046.7 L795.9,1046.8 L797.1,1046.8 L798.2,1046.9 L799.4,1046.9 L800.6,1047.0 L801.7,1047.0 L802.9,1047.0 L804.0,1047.1 L805.2,1047.1 L806.3,1047.2 L807.5,1047.2 L808.7,1047.3 L809.8,1047.3 L811.0,1047.4 L812.1,1047.4 L813.3,1047.4 L814.4,1047.5 L815.6,1047.5 L816.8,1047.6 L817.9,1047.6 L819.1,1047.7 L820.2,1047.7 L821.4,1047.7 L822.6,1047.8 L823.7,1047.8 L824.9,1047.8 L826.0,1047.9 L827.2,1047.9 L828.3,1048.0 L829.5,1048.0 L830.7,1048.0 L831.8,1048.1 L833.0,1048.1 L834.1,1048.2 L835.3,1048.2 L836.5,1048.2 L837.6,1048.3 L838.8,1048.3 L839.9,1048.3 L841.1,1048.4 L842.2,1048.4 L843.4,1048.4 L844.6,1048.5 L845.7,1048.5 L846.9,1048.5 L848.0,1048.6 L849.2,1048.6 L850.4,1048.6 L851.5,1048.7 L852.7,1048.7 L853.8,1048.7 L855.0,1048.8 L856.1,1048.8 L857.3,1048.8 L858.5,1048.9 L859.6,1048.9 L860.8,1048.9 L861.9,1048.9 L863.1,1049.0 L864.3,1049.0 L865.4,1049.0 L866.6,1049.1 L867.7,1049.1 L868.9,1049.1 L870.0,1049.1 L871.2,1049.2 L872.4,1049.2 L873.5,1049.2 L874.7,1049.3 L875.8,1049.3 L877.0,1049.3 L878.2,1049.3 L879.3,1049.4 L880.5,1049.4 L881.6,1049.4 L882.8,1049.4 L883.9,1049.5 L885.1,1049.5 L886.3,1049.5 L887.4,1049.5 L888.6,1049.6 L889.7,1049.6 L890.9,1049.6 L892.1,1049.6 L893.2,1049.7 L894.4,1049.7 L895.5,1049.7 L896.7,1049.7 L897.8,1049.8 L899.0,1049.8 L900.2,1049.8 L901.3,1049.8 L902.5,1049.8 L903.6,1049.9 L904.8,1049.9 L905.9,1049.9 L907.1,1049.9 L908.3,1050.0 L909.4,1050.0 L910.6,1050.0 L911.7,1050.0 L912.9,1050.0 L914.1,1050.1 L915.2,1050.1 L916.4,1050.1 L917.5,1050.1 L918.7,1050.1 L919.8,1050.2 L921.0,1050.2 L922.2,1050.2 L923.3,1050.2 L924.5,1050.2 L925.6,1050.3 L926.8,1050.3 L928.0,1050.3 L929.1,1050.3 L930.3,1050.3 L931.4,1050.3 L932.6,1050.4 L933.7,1050.4 L934.9,1050.4 L936.1,1050.4 L937.2,1050.4 L938.4,1050.5 L939.5,1050.5 L940.7,1050.5 L941.9,1050.5 L943.0,1050.5 L944.2,1050.5 L945.3,1050.6 L946.5,1050.6 L947.6,1050.6 L948.8,1050.6 L950.0,1050.6 L951.1,1050.6 L952.3,1050.6 L953.4,1050.7 L954.6,1050.7 L955.8,1050.7 L956.9,1050.7 L958.1,1050.7 L959.2,1050.7 L960.4,1050.8 L961.5,1050.8 L962.7,1050.8 L963.9,1050.8 L965.0,1050.8 L966.2,1050.8 L967.3,1050.8 L968.5,1050.9 L969.7,1050.9 L970.8,1050.9 L972.0,1050.9 L973.1,1050.9 L974.3,1050.9 L975.4,1050.9 L976.6,1050.9 L977.8,1051.0 L978.9,1051.0 L980.1,1051.0 L981.2,1051.0 L982.4,1051.0 L983.6,1051.0 L984.7,1051.0 L985.9,1051.0 L987.0,1051.1 L988.2,1051.1 L989.3,1051.1 L990.5,1051.1" stroke="#d00000"/>
<path d="M64.5,12.5 L65.1,16.0 L65.7,19.5 L66.2,23.0 L66.8,26.5 L67.4,30.0 L68.0,33.4 L68.6,36.9 L69.1,40.4 L69.7,43.8 L70.3,47.3 L70.9,50.7 L71.4,54.1 L72.0,57.6 L72.6,61.0 L73.2,64.4 L73.8,67.8 L74.3,71.2 L74.9,74.6 L75.5,78.0 L76.1,81.3 L76.7,84.7 L77.2,88.1 L77.8,91.4 L78.4,94.8 L79.0,98.1 L79.6,101.4 L80.1,104.7 L80.7,108.1 L81.3,111.4 L81.9,114.6 L82.5,117.9 L83.0,121.2 L83.6,124.6 L84.2,127.9 L84.8,131.3 L85.3,134.6 L85.9,138.0 L86.5,141.3 L87.1,144.6 L87.7,147.9 L88.2,151.1 L88.8,154.3 L89.4,157.5 L90.0,160.6 L90.6,163.7 L91.1,166.7 L91.7,169.6 L92.3,172.5 L92.9,175.3 L93.5,178.0 L94.0,180.7 L94.6,183.4 L95.2,186.0 L95.8,188.7 L96.4,191.2 L96.9,193.8 L97.5,196.3 L98.1,198.9 L98.7,201.4 L99.2,203.9 L99.8,206.5 L100.4,209.0 L101.0,211.5 L101.6,214.1 L102.1,216.6 L102.7,219.2 L103.3,221.9 L103.9,224.5 L104.5,227.1 L105.0,229.7 L105.6,232.4 L106.2,235.0 L106.8,237.7 L107.4,240.3 L107.9,242.9 L108.5,245.6 L109.1,248.2 L109.7,250.8 L110.2,253.4 L110.8,256.1 L111.4,258.7 L112.0,261.3 L112.6,263.9 L113.1,266.5 L113.7,269.1 L114.3,271.6 L114.9,274.2 L115.5,276.8 L116.0,279.3 L116.6,281.9 L117.2,284.4 L117.8,286.9 L118.4,289.5 L118.9,292.0 L119.5,294.5 L120.1,297.0 L120.7,299.5 L121.3,302.0 L121.8,304.5 L122.4,307.0 L123.0,309.5 L123.6,312.0 L124.1,314.5 L124.7,317.0 L125.3,319.4 L125.9,321.9 L126.5,324.4 L127.0,326.8 L127.6,329.3 L128.2,331.7 L128.8,334.1 L129.4,336.6 L129.9,339.0 L130.5,341.4 L131.1,343.9 L131.7,346.3 L132.3,348.7 L132.8,351.1 L133.4,353.5 L134.0,355.9 L134.6,358.3 L135.2,360.7 L135.7,363.1 L136.3,365.4 L136.9,367.8 L137.5,370.2 L138.0,372.5 L138.6,374.8 L139.2,377.2 L139.8,379.5 L140.4,381.8 L140.9,384.1 L141.5,386.5 L142.1,388.8 L142.7,391.0 L143.3,393.3 L143.8,395.6 L144.4,397.9 L145.0,400.1 L145.6,402.4 L146.2,404.6 L146.7,406.8 L147.3,409.0 L147.9,411.3 L148.5,413.5 L149.1,415.6 L149.6,417.8 L150.2,420.0 L150.8,422.2 L151.4,424.3 L151.9,426.5 L152.5,428.6 L153.1,430.7 L153.7,432.8 L154.3,434.9 L154.8,437.0 L155.4,439.1 L156.0,441.2 L156.6,443.3 L157.2,445.4 L157.7,447.4 L158.3,449.5 L158.9,451.5 L159.5,453.6 L160.1,455.6 L160.6,457.7 L161.2,459.7 L161.8,461.7 L162.4,463.7 L162.9,465.7 L163.5,467.7 L164.1,469.7 L164.7,471.6 L165.3,473.6 L165.8,475.6 L166.4,477.5 L167.0,479.5 L167.6,481.4 L168.2,483.3 L168.7,485.3 L169.3,487.2 L169.9,489.1 L170.5,491.0 L171.1,492.9 L171.6,494.8 L172.2,496.7 L172.8,498.5 L173.4,500.4 L174.0,502.3 L174.5,504.1 L175.1,506.0 L175.7,507.8 L176.3,509.6 L176.8,511.5 L177.4,513.3 L178.0,515.1 L178.6,516.9 L179.2,518.7 L179.7,520.5 L180.3,522.3 L180.9,524.0 L181.5,525.8 L182.1,527.6 L182.6,529.3 L183.2,531.1 L183.8,532.8 L184.4,534.5 L185.0,536.2 L185.5,538.0 L186.1,539.7 L186.7,541.4 L187.3,543.1 L187.9,544.7 L188.4,546.4 L189.0,548.1 L189.6,549.8 L190.2,551.4 L190.7,553.1 L191.3,554.7 L191.9,556.3 L192.5,558.0 L193.1,559.6 L193.6,561.2 L194.2,562.8 L194.8,564.4 L195.4,566.0 L196.0,567.6 L196.5,569.2 L197.1,570.8 L197.7,572.4 L198.3,573.9 L198.9,575.5 L199.4,577.1 L200.0,578.6 L200.6,580.2 L201.2,581.7 L201.7,583.2 L202.3,584.8 L202.9,586.3 L203.5,587.8 L204.1,589.3 L204.6,590.8 L205.2,592.4 L205.8,593.9 L206.4,595.3 L207.0,596.8 L207.5,598.3 L208.1,599.8 L208.7,601.3 L209.3,602.8 L209.9,604.2 L210.4,605.7 L211.0,607.2 L211.6,608.6 L212.2,610.1 L212.8,611.5 L213.3,613.0 L213.9,614.4 L214.5,615.8 L215.1,617.3 L215.6,618.7 L216.2,620.1 L216.8,621.5 L217.4,622.9 L218.0,624.4 L218.5,625.8 L219.1,627.2 L219.7,628.6 L220.3,630.0 L220.9,631.4 L221.4,632.8 L222.0,634.2 L222.6,635.5 L223.2,636.9 L223.8,638.3 L224.3,639.7 L224.9,641.0 L225.5,642.4 L226.1,643.7 L226.7,645.1 L227.2,646.4 L227.8,647.8 L228.4,649.1 L229.0,650.4 L229.5,651.8 L230.1,653.1 L230.7,654.4 L231.3,655.7 L231.9,657.0 L232.4,658.3 L233.0,659.6 L233.6,660.9 L234.2,662.2 L234.8,663.4 L235.3,664.7 L235.9,666.0 L236.5,667.2 L237.1,668.5 L237.7,669.8 L238.2,671.0 L238.8,672.3 L239.4,673.5 L240.0,674.8 L240.6,676.0 L241.1,677.2 L241.7,678.5 L242.3,679.7 L242.9,680.9 L243.4,682.1 L244.0,683.4 L244.6,684.6 L245.2,685.8 L245.8,687.0 L246.3,688.2 L246.9,689.4 L247.5,690.6 L248.1,691.8 L248.7,693.0 L249.2,694.2 L249.8,695.4 L250.4,696.6 L251.0,697.7 L251.6,698.9 L252.1,700.1 L252.7,701.3 L253.3,702.4 L253.9,703.6 L254.4,704.8 L255.0,705.9 L255.6,707.1 L256.2,708.3 L256.8,709.4 L257.3,710.6 L257.9,711.7 L258.5,712.9 L259.1,714.1 L259.7,715.2 L260.2,716.4 L260.8,717.5 L261.4,718.6 L262.0,719.8 L262.6,720.9 L263.1,722.1 L263.7,723.2 L264.3,724.3 L264.9,725.5 L265.5,726.6 L266.0,727.7 L266.6,728.9 L267.2,730.0 L267.8,731.1 L268.3,732.3 L268.9,733.4 L269.5,734.5 L270.1,735.6 L270.7,736.8 L271.2,737.9 L271.8,739.0 L272.4,740.1 L273.0,741.2 L273.6,742.4 L274.1,743.5 L274.7,744.6 L275.3,745.7 L275.9,746.8 L276.5,747.9 L277.0,749.0 L277.6,750.1 L278.2,751.2 L278.8,752.3 L279.4,753.4 L279.9,754.5 L280.5,755.6 L281.1,756.7 L281.7,757.8 L282.2,758.9 L282.8,760.0 L283.4,761.1 L284.0,762.1 L284.6,763.2 L285.1,764.3 L285.7,765.4 L286.3,766.4 L286.9,767.5 L287.5,768.6 L288.0,769.6 L288.6,770.7 L289.2,771.8 L289.8,772.8 L290.4,773.9 L290.9,774.9 L291.5,776.0 L292.1,777.0 L292.7,778.1 L293.2,779.1 L293.8,780.2 L294.4,781.2 L295.0,782.3 L295.6,783.3 L296.1,784.3 L296.7,785.3 L297.3,786.4 L297.9,787.4 L298.5,788.4 L299.0,789.4 L299.6,790.5 L300.2,791.5 L300.8,792.5 L301.4,793.5 L301.9,794.5 L302.5,795.5 L303.7,797.5 L304.8,799.5 L306.0,801.4 L307.1,803.4 L308.3,805.3 L309.5,807.3 L310.6,809.2 L311.8,811.1 L312.9,813.0 L314.1,814.9 L315.3,816.8 L316.4,818.6 L317.6,820.5 L318.7,822.3 L319.9,824.2 L321.0,826.0 L322.2,827.8 L323.4,829.6 L324.5,831.3 L325.7,833.1 L326.8,834.8 L328.0,836.6 L329.2,838.3 L330.3,840.0 L331.5,841.7 L332.6,843.4 L333.8,845.1 L334.9,846.7 L336.1,848.4 L337.3,850.0 L338.4,851.6 L339.6,853.3 L340.7,854.9 L341.9,856.5 L343.1,858.1 L344.2,859.7 L345.4,861.3 L346.5,862.8 L347.7,864.4 L348.8,865.9 L350.0,867.5 L351.2,869.0 L352.3,870.5 L353.5,872.0 L354.6,873.5 L355.8,875.0 L357.0,876.5 L358.1,877.9 L359.3,879.4 L360.4,880.8 L361.6,882.3 L362.7,883.7 L363.9,885.1 L365.1,886.5 L366.2,887.9 L367.4,889.3 L368.5,890.7 L369.7,892.0 L370.9,893.4 L372.0,894.7 L373.2,896.1 L374.3,897.4 L375.5,898.7 L376.6,900.0 L377.8,901.3 L379.0,902.6 L380.1,903.9 L381.3,905.1 L382.4,906.4 L383.6,907.6 L384.7,908.8 L385.9,910.1 L387.1,911.3 L388.2,912.5 L389.4,913.7 L390.5,914.8 L391.7,916.0 L392.9,917.2 L394.0,918.3 L395.2,919.5 L396.3,920.6 L397.5,921.7 L398.6,922.8 L399.8,923.9 L401.0,925.0 L402.1,926.1 L403.3,927.2 L404.4,928.2 L405.6,929.3 L406.8,930.3 L407.9,931.3 L409.1,932.4 L410.2,933.4 L411.4,934.4 L412.5,935.4 L413.7,936.4 L414.9,937.3 L416.0,938.3 L417.2,939.3 L418.3,940.2 L419.5,941.1 L420.7,942.1 L421.8,943.0 L423.0,943.9 L424.1,944.8 L425.3,945.7 L426.4,946.6 L427.6,947.5 L428.8,948.3 L429.9,949.2 L431.1,950.0 L432.2,950.9 L433.4,951.7 L434.6,952.5 L435.7,953.4 L436.9,954.2 L438.0,955.0 L439.2,955.8 L440.3,956.6 L441.5,957.3 L442.7,958.1 L443.8,958.9 L445.0,959.7 L446.1,960.4 L447.3,961.2 L448.5,961.9 L449.6,962.7 L450.8,963.4 L451.9,964.1 L453.1,964.8 L454.2,965.5 L455.4,966.2 L456.6,966.9 L457.7,967.6 L458.9,968.3 L460.0,969.0 L461.2,969.7 L462.3,970.4 L463.5,971.0 L464.7,971.7 L465.8,972.3 L467.0,973.0 L468.1,973.6 L469.3,974.3 L470.5,974.9 L471.6,975.5 L472.8,976.2 L473.9,976.8 L475.1,977.4 L476.2,978.0 L477.4,978.6 L478.6,979.2 L479.7,979.8 L480.9,980.4 L482.0,981.0 L483.2,981.5 L484.4,982.1 L485.5,982.7 L486.7,983.2 L487.8,983.8 L489.0,984.4 L490.1,984.9 L491.3,985.4 L492.5,986.0 L493.6,986.5 L494.8,987.1 L495.9,987.6 L497.1,988.1 L498.3,988.6 L499.4,989.1 L500.6,989.7 L501.7,990.2 L502.9,990.7 L504.0,991.2 L505.2,991.7 L506.4,992.2 L507.5,992.6 L508.7,993.1 L509.8,993.6 L511.0,994.1 L512.2,994.6 L513.3,995.0 L514.5,995.5 L515.6,996.0 L516.8,996.4 L517.9,996.9 L519.1,997.3 L520.3,997.8 L521.4,998.2 L522.6,998.6 L523.7,999.1 L524.9,999.5 L526.1,999.9 L527.2,1000.4 L528.4,1000.8 L529.5,1001.2 L530.7,1001.6 L531.8,1002.0 L533.0,1002.5 L534.2,1002.9 L535.3,1003.3 L536.5,1003.7 L537.6,1004.1 L538.8,1004.5 L540.0,1004.8 L541.1,1005.2 L542.3,1005.6 L543.4,1006.0 L544.6,1006.4 L545.7,1006.7 L546.9,1007.1 L548.1,1007.5 L549.2,1007.8 L550.4,1008.2 L551.5,1008.6 L552.7,1008.9 L553.8,1009.3 L555.0,1009.6 L556.2,1010.0 L557.3,1010.3 L558.5,1010.7 L559.6,1011.0 L560.8,1011.3 L562.0,1011.7 L563.1,1012.0 L564.3,1012.3 L565.4,1012.7 L566.6,1013.0 L567.7,1013.3 L568.9,1013.6 L570.1,1013.9 L571.2,1014.3 L572.4,1014.6 L573.5,1014.9 L574.7,1015.2 L575.9,1015.5 L577.0,1015.8 L578.2,1016.1 L579.3,1016.4 L580.5,1016.7 L581.6,1017.0 L582.8,1017.2 L584.0,1017.5 L585.1,1017.8 L586.3,1018.1 L587.4,1018.4 L588.6,1018.6 L589.8,1018.9 L590.9,1019.2 L592.1,1019.5 L593.2,1019.7 L594.4,1020.0 L595.5,1020.3 L596.7,1020.5 L597.9,1020.8 L599.0,1021.0 L600.2,1021.3 L601.3,1021.6 L602.5,1021.8 L603.7,1022.1 L604.8,1022.3 L606.0,1022.5 L607.1,1022.8 L608.3,1023.0 L609.4,1023.3 L610.6,1023.5 L611.8,1023.7 L612.9,1024.0 L614.1,1024.2 L615.2,1024.4 L616.4,1024.7 L617.6,1024.9 L618.7,1025.1 L619.9,1025.3 L621.0,1025.6 L622.2,1025.8 L623.3,1026.0 L624.5,1026.2 L625.7,1026.4 L626.8,1026.6 L628.0,1026.8 L629.1,1027.0 L630.3,1027.3 L631.5,1027.5 L632.6,1027.7 L633.8,1027.9 L634.9,1028.1 L636.1,1028.3 L637.2,1028.5 L638.4,1028.7 L639.6,1028.8 L640.7,1029.0 L641.9,1029.2 L643.0,1029.4 L644.2,1029.6 L645.3,1029.8 L646.5,1030.0 L647.7,1030.2 L648.8,1030.3 L650.0,1030.5 L651.1,1030.7 L652.3,1030.9 L653.5,1031.0 L654.6,1031.2 L655.8,1031.4 L656.9,1031.6 L658.1,1031.7 L659.2,1031.9 L660.4,1032.1 L661.6,1032.2 L662.7,1032.4 L663.9,1032.6 L665.0,1032.7 L666.2,1032.9 L667.4,1033.0 L668.5,1033.2 L669.7,1033.4 L670.8,1033.5 L672.0,1033.7 L673.1,1033.8 L674.3,1034.0 L675.5,1034.1 L676.6,1034.3 L677.8,1034.4 L678.9,1034.6 L680.1,1034.7 L681.3,1034.9 L682.4,1035.0 L683.6,1035.1 L684.7,1035.3 L685.9,1035.4 L687.0,1035.6 L688.2,1035.7 L689.4,1035.8 L690.5,1036.0 L691.7,1036.1 L692.8,1036.2 L694.0,1036.4 L695.2,1036.5 L696.3,1036.6 L697.5,1036.8 L698.6,1036.9 L699.8,1037.0 L700.9,1037.1 L702.1,1037.3 L703.3,1037.4 L704.4,1037.5 L705.6,1037.6 L706.7,1037.8 L707.9,1037.9 L709.1,1038.0 L710.2,1038.1 L711.4,1038.2 L712.5,1038.3 L713.7,1038.5 L714.8,1038.6 L716.0,1038.7 L717.2,1038.8 L718.3,1038.9 L719.5,1039.0 L720.6,1039.1 L721.8,1039.2 L723.0,1039.3 L724.1,1039.4 L725.3,1039.6 L726.4,1039.7 L727.6,1039.8 L728.7,1039.9 L729.9,1040.0 L731.1,1040.1 L732.2,1040.2 L733.4,1040.3 L734.5,1040.4 L735.7,1040.5 L736.8,1040.6 L738.0,1040.7 L739.2,1040.8 L740.3,1040.9 L741.5,1040.9 L742.6,1041.0 L743.8,1041.1 L745.0,1041.2 L746.1,1041.3 L747.3,1041.4 L748.4,1041.5 L749.6,1041.6 L750.7,1041.7 L751.9,1041.8 L753.1,1041.9 L754.2,1041.9 L755.4,1042.0 L756.5,1042.1 L757.7,1042.2 L758.9,1042.3 L760.0,1042.4 L761.2,1042.4 L762.3,1042.5 L763.5,1042.6 L764.6,1042.7 L765.8,1042.8 L767.0,1042.8 L768.1,1042.9 L769.3,1043.0 L770.4,1043.1 L771.6,1043.2 L772.8,1043.2 L773.9,1043.3 L775.1,1043.4 L776.2,1043.5 L777.4,1043.5 L778.5,1043.6 L779.7,1043.7 L780.9,1043.7 L782.0,1043.8 L783.2,1043.9 L784.3,1044.0 L785.5,1044.0 L786.7,1044.1 L787.8,1044.2 L789.0,1044.2 L790.1,1044.3 L791.3,1044.4 L792.4,1044.4 L793.6,1044.5 L794.8,1044.6 L795.9,1044.6 L797.1,1044.7 L798.2,1044.8 L799.4,1044.8 L800.6,1044.9 L801.7,1044.9 L802.9,1045.0 L804.0,1045.1 L805.2,1045.1 L806.3,1045.2 L807.5,1045.2 L808.7,1045.3 L809.8,1045.4 L811.0,1045.4 L812.1,1045.5 L813.3,1045.5 L814.4,1045.6 L815.6,1045.6 L816.8,1045.7 L817.9,1045.8 L819.1,1045.8 L820.2,1045.9 L821.4,1045.9 L822.6,1046.0 L823.7,1046.0 L824.9,1046.1 L826.0,1046.1 L827.2,1046.2 L828.3,1046.2 L829.5,1046.3 L830.7,1046.3 L831.8,1046.4 L833.0,1046.4 L834.1,1046.5 L835.3,1046.5 L836.5,1046.6 L837.6,1046.6 L838.8,1046.7 L839.9,1046.7 L841.1,1046.8 L842.2,1046.8 L843.4,1046.9 L844.6,1046.9 L845.7,1047.0 L846.9,1047.0 L848.0,1047.0 L849.2,1047.1 L850.4,1047.1 L851.5,1047.2 L852.7,1047.2 L853.8,1047.3 L855.0,1047.3 L856.1,1047.3 L857.3,1047.4 L858.5,1047.4 L859.6,1047.5 L860.8,1047.5 L861.9,1047.5 L863.1,1047.6 L864.3,1047.6 L865.4,1047.7 L866.6,1047.7 L867.7,1047.7 L868.9,1047.8 L870.0,1047.8 L871.2,1047.9 L872.4,1047.9 L873.5,1047.9 L874.7,1048.0 L875.8,1048.0 L877.0,1048.0 L878.2,1048.1 L879.3,1048.1 L880.5,1048.2 L881.6,1048.2 L882.8,1048.2 L883.9,1048.3 L885.1,1048.3 L886.3,1048.3 L887.4,1048.4 L888.6,1048.4 L889.7,1048.4 L890.9,1048.5 L892.1,1048.5 L893.2,1048.5 L894.4,1048.6 L895.5,1048.6 L896.7,1048.6 L897.8,1048.7 L899.0,1048.7 L900.2,1048.7 L901.3,1048.7 L902.5,1048.8 L903.6,1048.8 L904.8,1048.8 L905.9,1048.9 L907.1,1048.9 L908.3,1048.9 L909.4,1049.0 L910.6,1049.0 L911.7,1049.0 L912.9,1049.0 L914.1,1049.1 L915.2,1049.1 L916.4,1049.1 L917.5,1049.2 L918.7,1049.2 L919.8,1049.2 L921.0,1049.2 L922.2,1049.3 L923.3,1049.3 L924.5,1049.3 L925.6,1049.3 L926.8,1049.4 L928.0,1049.4 L929.1,1049.4 L930.3,1049.4 L931.4,1049.5 L932.6,1049.5 L933.7,1049.5 L934.9,1049.5 L936.1,1049.6 L937.2,1049.6 L938.4,1049.6 L939.5,1049.6 L940.7,1049.7 L941.9,1049.7 L943.0,1049.7 L944.2,1049.7 L945.3,1049.7 L946.5,1049.8 L947.6,1049.8 L948.8,1049.8 L950.0,1049.8 L951.1,1049.9 L952.3,1049.9 L953.4,1049.9 L954.6,1049.9 L955.8,1049.9 L956.9,1050.0 L958.1,1050.0 L959.2,1050.0 L960.4,1050.0 L961.5,1050.0 L962.7,1050.1 L963.9,1050.1 L965.0,1050.1 L966.2,1050.1 L967.3,1050.1 L968.5,1050.2 L969.7,1050.2 L970.8,1050.2 L972.0,1050.2 L973.1,1050.2 L974.3,1050.3 L975.4,1050.3 L976.6,1050.3 L977.8,1050.3 L978.9,1050.3 L980.1,1050.3 L981.2,1050.4 L982.4,1050.4 L983.6,1050.4 L984.7,1050.4 L985.9,1050.4 L987.0,1050.4 L988.2,1050.5 L989.3,1050.5 L990.5,1050.5" stroke="#d00000"/>
<path d="M64.5,12.5 L65.1,17.5 L65.7,22.5 L66.2,27.4 L66.8,32.3 L67.4,37.0 M67.4,37.0 L68.0,41.7 L68.6,46.4 M69.1,51.0 L69.7,55.5 L70.3,60.0 L70.9,64.5 L71.4,68.8 L72.0,73.1 L72.6,77.4 M73.2,81.6 L73.8,85.8 L74.3,89.9 M74.9,93.9 L75.5,97.9 L76.1,101.8 L76.7,105.7 L77.2,109.6 L77.8,113.4 L78.4,117.1 M79.0,120.8 L79.6,124.4 L80.1,127.9 L80.7,131.3 M81.3,134.7 L81.9,138.0 L82.5,141.2 L83.0,144.5 L83.6,147.7 L84.2,150.9 L84.8,154.2 L85.3,157.4 M86.5,163.9 L87.1,167.3 L87.7,170.6 M88.8,177.4 L89.4,180.7 L90.0,184.1 L90.6,187.5 L91.1,190.9 L91.7,194.2 L92.3,197.6 L92.9,201.0 M93.5,204.4 L94.0,207.8 L94.6,211.2 M95.8,218.0 L96.4,221.4 L96.9,224.8 L97.5,228.3 L98.1,231.9 L98.7,235.4 L99.2,239.0 L99.8,242.6 M100.4,246.1 L101.0,249.6 L101.6,253.1 M102.7,260.0 L103.3,263.3 L103.9,266.5 L104.5,269.7 L105.0,272.7 L105.6,275.6 L106.2,278.5 L106.8,281.3 M108.5,289.3 L109.1,291.9 L109.7,294.4 M111.4,301.9 L112.0,304.4 L112.6,306.9 L113.1,309.4 L113.7,311.9 L114.3,314.5 L114.9,317.0 L115.5,319.7 L116.0,322.3 M117.8,330.6 L118.4,333.4 L118.9,336.3 M120.1,342.0 L120.7,344.9 L121.3,347.8 L121.8,350.7 L122.4,353.6 L123.0,356.5 L123.6,359.5 L124.1,362.4 L124.7,365.3 M125.9,371.2 L126.5,374.2 L127.0,377.1 M128.2,382.9 L128.8,385.8 L129.4,388.7 L129.9,391.6 L130.5,394.5 L131.1,397.4 L131.7,400.2 L132.3,403.0 L132.8,405.8 M134.0,411.4 L134.6,414.1 L135.2,416.9 L135.7,419.6 M136.9,424.9 L137.5,427.5 L138.0,430.0 L138.6,432.6 L139.2,435.2 L139.8,437.7 L140.4,440.2 L140.9,442.7 L141.5,445.2 L142.1,447.7 M143.8,455.1 L144.4,457.5 L145.0,459.9 M146.7,467.1 L147.3,469.5 L147.9,471.9 L148.5,474.2 L149.1,476.5 L149.6,478.9 L150.2,481.2 L150.8,483.5 L151.4,485.8 L151.9,488.1 M153.7,494.9 L154.3,497.1 L154.8,499.4 L155.4,501.6 M157.2,508.2 L157.7,510.4 L158.3,512.6 L158.9,514.8 L159.5,516.9 L160.1,519.1 L160.6,521.2 L161.2,523.4 L161.8,525.5 L162.4,527.6 L162.9,529.8 M164.7,536.1 L165.3,538.2 L165.8,540.2 L166.4,542.3 M168.7,550.4 L169.3,552.5 L169.9,554.5 L170.5,556.5 L171.1,558.4 L171.6,560.4 L172.2,562.4 L172.8,564.3 L173.4,566.3 L174.0,568.2 L174.5,570.2 L175.1,572.1 M176.8,577.9 L177.4,579.7 L178.0,581.6 L178.6,583.5 M180.9,591.0 L181.5,592.8 L182.1,594.7 L182.6,596.5 L183.2,598.4 L183.8,600.2 L184.4,602.0 L185.0,603.8 L185.5,605.6 L186.1,607.4 L186.7,609.2 L187.3,611.0 L187.9,612.8 M190.2,619.9 L190.7,621.6 L191.3,623.4 L191.9,625.1 M194.2,632.1 L194.8,633.8 L195.4,635.5 L196.0,637.3 L196.5,639.0 L197.1,640.7 L197.7,642.4 L198.3,644.1 L198.9,645.8 L199.4,647.5 L200.0,649.2 L200.6,650.9 L201.2,652.6 L201.7,654.3 M204.1,661.0 L204.6,662.6 L205.2,664.3 L205.8,665.9 L206.4,667.6 M208.7,674.1 L209.3,675.7 L209.9,677.3 L210.4,678.9 L211.0,680.5 L211.6,682.1 L212.2,683.7 L212.8,685.3 L213.3,686.9 L213.9,688.5 L214.5,690.0 L215.1,691.6 L215.6,693.1 L216.2,694.7 L216.8,696.2 M219.1,702.3 L219.7,703.8 L220.3,705.3 L220.9,706.7 L221.4,708.2 M224.3,715.5 L224.9,716.9 L225.5,718.3 L226.1,719.7 L226.7,721.2 L227.2,722.6 L227.8,723.9 L228.4,725.3 L229.0,726.7 L229.5,728.1 L230.1,729.4 L230.7,730.8 L231.3,732.1 L231.9,733.4 L232.4,734.8 L233.0,736.1 L233.6,737.4 M236.5,743.8 L237.1,745.0 L237.7,746.3 L238.2,747.5 L238.8,748.8 L239.4,750.0 M242.9,757.2 L243.4,758.3 L244.0,759.5 L244.6,760.7 L245.2,761.8 L245.8,763.0 L246.3,764.1 L246.9,765.2 L247.5,766.4 L248.1,767.5 L248.7,768.6 L249.2,769.7 L249.8,770.8 L250.4,771.9 L251.0,773.0 L251.6,774.1 L252.1,775.2 L252.7,776.2 L253.3,777.3 L253.9,778.4 M257.9,785.7 L258.5,786.7 L259.1,787.7 L259.7,788.8 L260.2,789.8 L260.8,790.8 M265.5,798.7 L266.0,799.7 L266.6,800.7 L267.2,801.7 L267.8,802.6 L268.3,803.6 L268.9,804.6 L269.5,805.5 L270.1,806.5 L270.7,807.4 L271.2,808.4 L271.8,809.3 L272.4,810.3 L273.0,811.2 L273.6,812.2 L274.1,813.1 L274.7,814.0 L275.3,815.0 L275.9,815.9 L276.5,816.8 L277.0,817.7 L277.6,818.7 L278.2,819.6 M283.4,827.8 L284.0,828.7 L284.6,829.6 L285.1,830.5 L285.7,831.4 L286.3,832.3 M291.5,840.3 L292.1,841.1 L292.7,842.0 L293.2,842.9 L293.8,843.8 L294.4,844.7 L295.0,845.5 L295.6,846.4 L296.1,847.3 L296.7,848.2 L297.3,849.0 L297.9,849.9 L298.5,850.8 L299.0,851.6 L299.6,852.5 L300.2,853.3 L300.8,854.2 L301.4,855.1 L301.9,855.9 L302.5,856.8 L303.1,857.6 L303.7,858.5 L304.3,859.3 L304.8,860.1 L305.4,861.0 M310.6,868.4 L311.2,869.3 L311.8,870.1 L312.4,870.9 L312.9,871.7 L313.5,872.5 L314.1,873.3 M319.9,881.2 L320.5,882.0 L321.0,882.8 L321.6,883.5 L322.2,884.3 L322.8,885.1 L323.4,885.8 L323.9,886.6 L324.5,887.4 L325.1,888.1 L325.7,888.9 L326.3,889.6 L326.8,890.4 L327.4,891.1 L328.0,891.8 L328.6,892.6 L329.2,893.3 L329.7,894.1 L330.3,894.8 L330.9,895.5 L331.5,896.2 L332.0,897.0 L332.6,897.7 L333.2,898.4 L333.8,899.1 L334.4,899.8 L334.9,900.5 L335.5,901.2 L336.1,901.9 M343.1,910.1 L343.6,910.8 L344.2,911.4 L344.8,912.1 L345.4,912.7 L345.9,913.4 L346.5,914.0 L347.1,914.7 M354.6,922.8 L355.2,923.4 L355.8,924.0 L356.4,924.6 L357.0,925.2 L357.5,925.8 L358.1,926.4 L358.7,926.9 L359.3,927.5 L359.8,928.1 L360.4,928.7 L361.0,929.3 L361.6,929.8 L362.2,930.4 L362.7,931.0 L363.3,931.5 L363.9,932.1 L364.5,932.6 L365.1,933.2 L365.6,933.7 L366.2,934.3 L366.8,934.8 L367.4,935.4 L368.0,935.9 L368.5,936.4 L369.1,937.0 L369.7,937.5 L370.3,938.0 L370.9,938.6 L371.4,939.1 L372.0,939.6 L372.6,940.1 L373.2,940.6 L373.7,941.1 L374.3,941.6 L374.9,942.1 L375.5,942.6 M383.6,949.4 L384.2,949.8 L384.7,950.3 L385.3,950.7 L385.9,951.2 L386.5,951.7 L387.1,952.1 L387.6,952.6 L388.2,953.0 M396.3,959.0 L396.9,959.4 L397.5,959.8 L398.1,960.3 L398.6,960.7 L399.2,961.1 L399.8,961.5 L400.4,961.9 L401.0,962.3 L401.5,962.7 L402.1,963.1 L402.7,963.5 L403.3,963.9 L403.9,964.3 L404.4,964.6 L405.0,965.0 L405.6,965.4 L406.2,965.8 L406.8,966.2 L407.3,966.6 L407.9,967.0 L408.5,967.3 L409.1,967.7 L409.7,968.1 L410.2,968.4 L410.8,968.8 L411.4,969.2 L412.0,969.6 L412.5,969.9 L413.1,970.3 L413.7,970.6 L414.3,971.0 L414.9,971.4 L415.4,971.7 L416.0,972.1 L416.6,972.4 M424.7,977.2 L425.3,977.6 L425.9,977.9 L426.4,978.2 L427.0,978.5 L427.6,978.9 L428.2,979.2 L428.8,979.5 L429.3,979.8 M437.4,984.2 L438.0,984.5 L438.6,984.8 L439.2,985.1 L439.8,985.4 L440.3,985.6 L440.9,985.9 L441.5,986.2 L442.1,986.5 L442.7,986.8 L443.2,987.1 L443.8,987.4 L444.4,987.7 L445.0,988.0 L445.6,988.2 L446.1,988.5 L446.7,988.8 L447.3,989.1 L447.9,989.4 L448.5,989.6 L449.0,989.9 L449.6,990.2 L450.2,990.5 L450.8,990.7 L451.3,991.0 L451.9,991.3 L452.5,991.5 L453.1,991.8 L453.7,992.1 L454.2,992.3 L454.8,992.6 L455.4,992.9 L456.0,993.1 L456.6,993.4 L457.1,993.6 L457.7,993.9 L458.3,994.2 M466.4,997.6 L467.0,997.9 L467.6,998.1 L468.1,998.4 L468.7,998.6 L469.3,998.8 L469.9,999.1 L470.5,999.3 L471.0,999.5 M479.1,1002.7 L479.7,1002.9 L480.3,1003.2 L480.9,1003.4 L481.5,1003.6 L482.0,1003.8 L482.6,1004.0 L483.2,1004.2 L483.8,1004.4 L484.4,1004.7 L484.9,1004.9 L485.5,1005.1 L486.1,1005.3 L486.7,1005.5 L487.3,1005.7 L487.8,1005.9 L488.4,1006.1 L489.0,1006.3 L489.6,1006.5 L490.1,1006.7 L490.7,1006.9 L491.3,1007.1 L491.9,1007.3 L492.5,1007.5 L493.0,1007.7 L493.6,1007.9 L494.2,1008.1 L494.8,1008.3 L495.4,1008.5 L495.9,1008.7 L496.5,1008.9 L497.1,1009.1 L497.7,1009.3 L498.3,1009.5 L498.8,1009.7 L499.4,1009.8 M507.5,1012.4 L508.1,1012.6 L508.7,1012.8 L509.3,1012.9 L509.8,1013.1 L510.4,1013.3 L511.0,1013.4 L511.6,1013.6 L512.2,1013.8 M520.3,1016.1 L520.8,1016.3 L521.4,1016.4 L522.0,1016.6 L522.6,1016.7 L523.2,1016.9 L523.7,1017.1 L524.3,1017.2 L524.9,1017.4 L525.5,1017.5 L526.1,1017.7 L526.6,1017.8 L527.2,1018.0 L527.8,1018.1 L528.4,1018.3 L528.9,1018.4 L529.5,1018.6 L530.1,1018.7 L530.7,1018.9 L531.3,1019.0 L531.8,1019.2 L532.4,1019.3 L533.0,1019.5 L533.6,1019.6 L534.2,1019.8 L534.7,1019.9 L535.3,1020.1 L535.9,1020.2 L536.5,1020.3 L537.1,1020.5 L537.6,1020.6 L538.2,1020.8 L538.8,1020.9 L539.4,1021.0 L540.0,1021.2 L540.5,1021.3 L541.1,1021.5 M549.2,1023.3 L549.8,1023.4 L550.4,1023.6 L551.0,1023.7 L551.5,1023.8 L552.1,1024.0 L552.7,1024.1 L553.3,1024.2 L553.8,1024.3 M562.0,1026.0 L562.5,1026.1 L563.1,1026.3 L563.7,1026.4 L564.3,1026.5 L564.9,1026.6 L565.4,1026.7 L566.0,1026.8 L566.6,1026.9 L567.2,1027.1 L567.7,1027.2 L568.3,1027.3 L568.9,1027.4 L569.5,1027.5 L570.1,1027.6 L570.6,1027.7 L571.2,1027.8 L571.8,1027.9 L572.4,1028.0 L573.0,1028.2 L573.5,1028.3 L574.1,1028.4 L574.7,1028.5 L575.3,1028.6 L575.9,1028.7 L576.4,1028.8 L577.0,1028.9 L577.6,1029.0 L578.2,1029.1 L578.8,1029.2 L579.3,1029.3 L579.9,1029.4 L580.5,1029.5 L581.1,1029.6 L581.6,1029.7 L582.2,1029.8 M590.3,1031.2 L590.9,1031.3 L591.5,1031.4 L592.1,1031.5 L592.7,1031.5 L593.2,1031.6 L593.8,1031.7 L594.4,1031.8 L595.0,1031.9 M603.1,1033.1 L603.7,1033.2 L604.2,1033.3 L604.8,1033.4 L605.4,1033.5 L606.0,1033.6 L606.5,1033.7 L607.1,1033.7 L607.7,1033.8 L608.3,1033.9 L608.9,1034.0 L609.4,1034.1 L610.0,1034.1 L610.6,1034.2 L611.2,1034.3 L611.8,1034.4 L612.3,1034.5 L612.9,1034.5 L613.5,1034.6 L614.1,1034.7 L614.7,1034.8 L615.2,1034.9 L615.8,1034.9 L616.4,1035.0 L617.0,1035.1 L617.6,1035.2 L618.1,1035.2 L618.7,1035.3 L619.3,1035.4 L619.9,1035.5 L620.4,1035.5 L621.0,1035.6 L621.6,1035.7 L622.2,1035.8 L622.8,1035.8 L623.3,1035.9 L623.9,1036.0 M632.0,1037.0 L632.6,1037.0 L633.2,1037.1 L633.8,1037.2 L634.3,1037.3 L634.9,1037.3 L635.5,1037.4 L636.1,1037.5 L636.7,1037.5 M644.8,1038.4 L645.3,1038.5 L645.9,1038.5 L646.5,1038.6 L647.1,1038.7 L647.7,1038.7 L648.2,1038.8 L648.8,1038.8 L649.4,1038.9 L650.0,1039.0 L650.6,1039.0 L651.1,1039.1 L651.7,1039.1 L652.3,1039.2 L652.9,1039.3 L653.5,1039.3 L654.0,1039.4 L654.6,1039.4 L655.2,1039.5 L655.8,1039.5 L656.4,1039.6 L656.9,1039.7 L657.5,1039.7 L658.1,1039.8 L658.7,1039.8 L659.2,1039.9 L659.8,1039.9 L660.4,1040.0 L661.0,1040.1 L661.6,1040.1 L662.1,1040.2 L662.7,1040.2 L663.3,1040.3 L663.9,1040.3 L664.5,1040.4 L665.0,1040.4 M673.1,1041.2 L673.7,1041.2 L674.3,1041.3 L674.9,1041.3 L675.5,1041.4 L676.0,1041.4 L676.6,1041.5 L677.2,1041.5 L677.8,1041.5 M685.9,1042.2 L686.5,1042.3 L687.0,1042.3 L687.6,1042.3 L688.2,1042.4 L688.8,1042.4 L689.4,1042.5 L689.9,1042.5 L690.5,1042.6 L691.1,1042.6 L691.7,1042.6 L692.3,1042.7 L692.8,1042.7 L693.4,1042.8 L694.0,1042.8 L694.6,1042.9 L695.2,1042.9 L695.7,1042.9 L696.3,1043.0 L696.9,1043.0 L697.5,1043.1 L698.0,1043.1 L698.6,1043.2 L699.2,1043.2 L699.8,1043.2 L700.4,1043.3 L700.9,1043.3 L701.5,1043.4 L702.1,1043.4 L702.7,1043.4 L703.3,1043.5 L703.8,1043.5 L704.4,1043.6 L705.0,1043.6 L705.6,1043.6 L706.2,1043.7 L706.7,1043.7 M714.8,1044.2 L715.4,1044.3 L716.0,1044.3 L716.6,1044.4 L717.2,1044.4 L717.7,1044.4 L718.3,1044.5 L718.9,1044.5 L719.5,1044.5 M727.6,1045.0 L728.2,1045.0 L728.7,1045.1 L729.3,1045.1 L729.9,1045.1 L730.5,1045.2 L731.1,1045.2 L731.6,1045.2 L732.2,1045.3 L732.8,1045.3 L733.4,1045.3 L734.0,1045.4 L734.5,1045.4 L735.1,1045.4 L735.7,1045.5 L736.3,1045.5 L736.8,1045.5 L737.4,1045.5 L738.0,1045.6 L738.6,1045.6 L739.2,1045.6 L739.7,1045.7 L740.3,1045.7 L740.9,1045.7 L741.5,1045.8 L742.1,1045.8 L742.6,1045.8 L743.2,1045.9 L743.8,1045.9 L744.4,1045.9 L745.0,1045.9 L745.5,1046.0 L746.1,1046.0 L746.7,1046.0 L747.3,1046.1 L747.9,1046.1 M756.0,1046.5 L756.5,1046.5 L757.1,1046.5 L757.7,1046.5 L758.3,1046.6 L758.9,1046.6 L759.4,1046.6 L760.0,1046.6 L760.6,1046.7 M768.7,1047.0 L769.3,1047.0 L769.9,1047.1 L770.4,1047.1 L771.0,1047.1 L771.6,1047.1 L772.2,1047.2 L772.8,1047.2 L773.3,1047.2 L773.9,1047.2 L774.5,1047.3 L775.1,1047.3 L775.6,1047.3 L776.2,1047.3 L776.8,1047.4 L777.4,1047.4 L778.0,1047.4 L778.5,1047.4 L779.1,1047.4 L779.7,1047.5 L780.3,1047.5 L780.9,1047.5 L781.4,1047.5 L782.0,1047.6 L782.6,1047.6 L783.2,1047.6 L783.8,1047.6 L784.3,1047.6 L784.9,1047.7 L785.5,1047.7 L786.1,1047.7 L786.7,1047.7 L787.2,1047.7 L787.8,1047.8 L788.4,1047.8 L789.0,1047.8 L789.5,1047.8 M797.7,1048.1 L798.2,1048.1 L798.8,1048.1 L799.4,1048.2 L800.0,1048.2 L800.6,1048.2 L801.1,1048.2 L801.7,1048.2 L802.3,1048.3 M810.4,1048.5 L811.0,1048.5 L811.6,1048.6 L812.1,1048.6 L812.7,1048.6 L813.3,1048.6 L813.9,1048.6 L814.4,1048.6 L815.0,1048.7 L815.6,1048.7 L816.2,1048.7 L816.8,1048.7 L817.3,1048.7 L817.9,1048.7 L818.5,1048.8 L819.1,1048.8 L819.7,1048.8 L820.2,1048.8 L820.8,1048.8 L821.4,1048.8 L822.0,1048.9 L822.6,1048.9 L823.1,1048.9 L823.7,1048.9 L824.3,1048.9 L824.9,1048.9 L825.5,1048.9 L826.0,1049.0 L826.6,1049.0 L827.2,1049.0 L827.8,1049.0 L828.3,1049.0 L828.9,1049.0 L829.5,1049.1 L830.1,1049.1 L830.7,1049.1 M838.8,1049.3 L839.4,1049.3 L839.9,1049.3 L840.5,1049.3 L841.1,1049.3 L841.7,1049.4 L842.2,1049.4 L842.8,1049.4 L843.4,1049.4 M851.5,1049.6 L852.1,1049.6 L852.7,1049.6 L853.3,1049.6 L853.8,1049.6 L854.4,1049.7 L855.0,1049.7 L855.6,1049.7 L856.1,1049.7 L856.7,1049.7 L857.3,1049.7 L857.9,1049.7 L858.5,1049.7 L859.0,1049.7 L859.6,1049.8 L860.2,1049.8 L860.8,1049.8 L861.4,1049.8 L861.9,1049.8 L862.5,1049.8 L863.1,1049.8 L863.7,1049.8 L864.3,1049.9 L864.8,1049.9 L865.4,1049.9 L866.0,1049.9 L866.6,1049.9 L867.1,1049.9 L867.7,1049.9 L868.3,1049.9 L868.9,1049.9 L869.5,1050.0 L870.0,1050.0 L870.6,1050.0 L871.2,1050.0 L871.8,1050.0 L872.4,1050.0 M880.5,1050.2 L881.0,1050.2 L881.6,1050.2 L882.2,1050.2 L882.8,1050.2 L883.4,1050.2 L883.9,1050.2 L884.5,1050.2 L885.1,1050.2 M893.2,1050.4 L893.8,1050.4 L894.4,1050.4 L894.9,1050.4 L895.5,1050.4 L896.1,1050.4 L896.7,1050.4 L897.3,1050.4 L897.8,1050.5 L898.4,1050.5 L899.0,1050.5 L899.6,1050.5 L900.2,1050.5 L900.7,1050.5 L901.3,1050.5 L901.9,1050.5 L902.5,1050.5 L903.1,1050.5 L903.6,1050.5 L904.2,1050.6 L904.8,1050.6 L905.4,1050.6 L905.9,1050.6 L906.5,1050.6 L907.1,1050.6 L907.7,1050.6 L908.3,1050.6 L908.8,1050.6 L909.4,1050.6 L910.0,1050.6 L910.6,1050.6 L911.2,1050.7 L911.7,1050.7 L912.3,1050.7 L912.9,1050.7 L913.5,1050.7 M921.6,1050.8 L922.2,1050.8 L922.7,1050.8 L923.3,1050.8 L923.9,1050.8 L924.5,1050.8 L925.1,1050.8 L925.6,1050.8 L926.2,1050.9 M934.3,1051.0 L934.9,1051.0 L935.5,1051.0 L936.1,1051.0 L936.6,1051.0 L937.2,1051.0 L937.8,1051.0 L938.4,1051.0 L939.0,1051.0 L939.5,1051.0 L940.1,1051.0 L940.7,1051.0 L941.3,1051.0 L941.9,1051.0 L942.4,1051.0 L943.0,1051.0 L943.6,1051.1 L944.2,1051.1 L944.8,1051.1 L945.3,1051.1 L945.9,1051.1 L946.5,1051.1 L947.1,1051.1 L947.6,1051.1 L948.2,1051.1 L948.8,1051.1 L949.4,1051.1 L950.0,1051.1 L950.5,1051.1 L951.1,1051.1 L951.7,1051.1 L952.3,1051.1 L952.9,1051.2 L953.4,1051.2 L954.0,1051.2 L954.6,1051.2 L955.2,1051.2 M963.3,1051.3 L963.9,1051.3 L964.4,1051.3 L965.0,1051.3 L965.6,1051.3 L966.2,1051.3 L966.8,1051.3 L967.3,1051.3 L967.9,1051.3 M976.0,1051.4 L976.6,1051.4 L977.2,1051.4 L977.8,1051.4 L978.3,1051.4 L978.9,1051.4 L979.5,1051.4 L980.1,1051.4 L980.7,1051.4 L981.2,1051.4 L981.8,1051.4 L982.4,1051.4 L983.0,1051.4 L983.6,1051.4 L984.1,1051.4 L984.7,1051.4 L985.3,1051.4 L985.9,1051.5 L986.4,1051.5 L987.0,1051.5 L987.6,1051.5 L988.2,1051.5 L988.8,1051.5 L989.3,1051.5 L989.9,1051.5 L990.5,1051.5" stroke="#0000a8"/>
<path d="M64.5,12.5 L65.1,16.6 L65.7,20.6 L66.2,24.6 L66.8,28.6 L67.4,32.5 M68.6,40.4 L69.1,44.2 L69.7,48.1 M70.3,51.9 L70.9,55.7 L71.4,59.5 L72.0,63.3 L72.6,67.0 L73.2,70.7 L73.8,74.4 M74.9,81.8 L75.5,85.4 L76.1,89.0 M76.7,92.6 L77.2,96.2 L77.8,99.7 L78.4,103.3 L79.0,106.8 L79.6,110.3 L80.1,113.7 L80.7,117.2 M81.3,120.6 L81.9,124.0 L82.5,127.4 L83.0,130.8 M83.6,134.2 L84.2,137.5 L84.8,140.8 L85.3,144.1 L85.9,147.4 L86.5,150.6 L87.1,153.8 L87.7,157.0 M88.8,163.3 L89.4,166.4 L90.0,169.5 M91.1,175.5 L91.7,178.4 L92.3,181.3 L92.9,184.2 L93.5,187.1 L94.0,189.9 L94.6,192.7 L95.2,195.5 L95.8,198.3 M97.5,206.7 L98.1,209.6 L98.7,212.4 M99.8,218.1 L100.4,221.0 L101.0,224.0 L101.6,226.9 L102.1,229.9 L102.7,232.9 L103.3,235.9 L103.9,239.0 L104.5,242.0 M105.6,248.1 L106.2,251.1 L106.8,254.1 M107.9,260.0 L108.5,262.9 L109.1,265.7 L109.7,268.5 L110.2,271.3 L110.8,274.0 L111.4,276.7 L112.0,279.4 L112.6,281.9 M114.3,289.6 L114.9,292.0 L115.5,294.5 M117.2,301.8 L117.8,304.3 L118.4,306.7 L118.9,309.2 L119.5,311.6 L120.1,314.1 L120.7,316.6 L121.3,319.0 L121.8,321.6 L122.4,324.1 M123.6,329.3 L124.1,331.8 L124.7,334.5 L125.3,337.1 M126.5,342.3 L127.0,345.0 L127.6,347.6 L128.2,350.3 L128.8,352.9 L129.4,355.6 L129.9,358.3 L130.5,360.9 L131.1,363.6 L131.7,366.2 M132.8,371.5 L133.4,374.2 L134.0,376.8 M135.7,384.6 L136.3,387.2 L136.9,389.8 L137.5,392.4 L138.0,394.9 L138.6,397.5 L139.2,400.0 L139.8,402.5 L140.4,405.0 L140.9,407.5 M142.1,412.3 L142.7,414.8 L143.3,417.1 L143.8,419.5 M145.6,426.4 L146.2,428.7 L146.7,431.0 L147.3,433.2 L147.9,435.4 L148.5,437.6 L149.1,439.7 L149.6,441.9 L150.2,444.0 L150.8,446.2 L151.4,448.3 M153.1,454.5 L153.7,456.6 L154.3,458.6 L154.8,460.6 M156.6,466.6 L157.2,468.6 L157.7,470.6 L158.3,472.6 L158.9,474.5 L159.5,476.5 L160.1,478.4 L160.6,480.3 L161.2,482.3 L161.8,484.2 L162.4,486.1 L162.9,488.0 M165.3,495.5 L165.8,497.4 L166.4,499.3 L167.0,501.2 M169.3,508.6 L169.9,510.5 L170.5,512.3 L171.1,514.2 L171.6,516.0 L172.2,517.9 L172.8,519.7 L173.4,521.6 L174.0,523.4 L174.5,525.3 L175.1,527.1 L175.7,528.9 L176.3,530.8 M178.0,536.4 L178.6,538.2 L179.2,540.1 L179.7,541.9 L180.3,543.7 M182.1,549.3 L182.6,551.1 L183.2,552.9 L183.8,554.8 L184.4,556.6 L185.0,558.4 L185.5,560.2 L186.1,562.1 L186.7,563.9 L187.3,565.7 L187.9,567.5 L188.4,569.3 L189.0,571.1 M191.3,578.2 L191.9,580.0 L192.5,581.8 L193.1,583.5 M195.4,590.5 L196.0,592.2 L196.5,594.0 L197.1,595.7 L197.7,597.4 L198.3,599.1 L198.9,600.8 L199.4,602.5 L200.0,604.2 L200.6,605.9 L201.2,607.5 L201.7,609.2 L202.3,610.8 L202.9,612.5 M205.8,620.6 L206.4,622.2 L207.0,623.8 L207.5,625.4 M210.4,633.2 L211.0,634.7 L211.6,636.2 L212.2,637.7 L212.8,639.2 L213.3,640.7 L213.9,642.2 L214.5,643.7 L215.1,645.2 L215.6,646.7 L216.2,648.1 L216.8,649.6 L217.4,651.0 L218.0,652.5 L218.5,653.9 M221.4,661.0 L222.0,662.4 L222.6,663.8 L223.2,665.1 L223.8,666.5 M227.2,674.7 L227.8,676.0 L228.4,677.3 L229.0,678.7 L229.5,680.0 L230.1,681.3 L230.7,682.6 L231.3,683.9 L231.9,685.2 L232.4,686.5 L233.0,687.8 L233.6,689.1 L234.2,690.4 L234.8,691.7 L235.3,693.0 L235.9,694.2 L236.5,695.5 M240.0,703.0 L240.6,704.3 L241.1,705.5 L241.7,706.7 L242.3,708.0 M245.8,715.3 L246.3,716.5 L246.9,717.7 L247.5,718.9 L248.1,720.1 L248.7,721.3 L249.2,722.4 L249.8,723.6 L250.4,724.8 L251.0,726.0 L251.6,727.2 L252.1,728.3 L252.7,729.5 L253.3,730.7 L253.9,731.9 L254.4,733.0 L255.0,734.2 L255.6,735.3 L256.2,736.5 M260.2,744.5 L260.8,745.6 L261.4,746.8 L262.0,747.9 L262.6,749.0 M266.6,756.7 L267.2,757.8 L267.8,758.9 L268.3,760.0 L268.9,761.0 L269.5,762.1 L270.1,763.2 L270.7,764.2 L271.2,765.3 L271.8,766.3 L272.4,767.4 L273.0,768.4 L273.6,769.5 L274.1,770.5 L274.7,771.6 L275.3,772.6 L275.9,773.6 L276.5,774.7 L277.0,775.7 L277.6,776.7 L278.2,777.7 M282.8,785.7 L283.4,786.7 L284.0,787.7 L284.6,788.7 L285.1,789.7 L285.7,790.7 M290.4,798.4 L290.9,799.3 L291.5,800.3 L292.1,801.2 L292.7,802.2 L293.2,803.1 L293.8,804.1 L294.4,805.0 L295.0,805.9 L295.6,806.9 L296.1,807.8 L296.7,808.7 L297.3,809.6 L297.9,810.6 L298.5,811.5 L299.0,812.4 L299.6,813.3 L300.2,814.2 L300.8,815.1 L301.4,816.1 L301.9,817.0 L302.5,817.9 L303.1,818.8 L303.7,819.7 M308.9,827.7 L309.5,828.6 L310.0,829.4 L310.6,830.3 L311.2,831.2 L311.8,832.1 M317.0,839.8 L317.6,840.7 L318.2,841.5 L318.7,842.4 L319.3,843.2 L319.9,844.0 L320.5,844.9 L321.0,845.7 L321.6,846.6 L322.2,847.4 L322.8,848.2 L323.4,849.1 L323.9,849.9 L324.5,850.7 L325.1,851.6 L325.7,852.4 L326.3,853.2 L326.8,854.1 L327.4,854.9 L328.0,855.7 L328.6,856.5 L329.2,857.3 L329.7,858.2 L330.3,859.0 L330.9,859.8 L331.5,860.6 M337.3,868.6 L337.8,869.4 L338.4,870.2 L339.0,871.0 L339.6,871.7 L340.2,872.5 L340.7,873.3 M347.1,881.7 L347.7,882.5 L348.3,883.2 L348.8,883.9 L349.4,884.7 L350.0,885.4 L350.6,886.2 L351.2,886.9 L351.7,887.6 L352.3,888.4 L352.9,889.1 L353.5,889.8 L354.1,890.5 L354.6,891.3 L355.2,892.0 L355.8,892.7 L356.4,893.4 L357.0,894.1 L357.5,894.8 L358.1,895.5 L358.7,896.2 L359.3,896.9 L359.8,897.6 L360.4,898.3 L361.0,899.0 L361.6,899.7 L362.2,900.4 L362.7,901.0 L363.3,901.7 L363.9,902.4 M370.9,910.3 L371.4,910.9 L372.0,911.6 L372.6,912.2 L373.2,912.9 L373.7,913.5 L374.3,914.1 L374.9,914.7 M383.0,923.2 L383.6,923.8 L384.2,924.3 L384.7,924.9 L385.3,925.5 L385.9,926.1 L386.5,926.6 L387.1,927.2 L387.6,927.8 L388.2,928.3 L388.8,928.9 L389.4,929.4 L390.0,930.0 L390.5,930.5 L391.1,931.1 L391.7,931.6 L392.3,932.2 L392.9,932.7 L393.4,933.2 L394.0,933.8 L394.6,934.3 L395.2,934.8 L395.8,935.4 L396.3,935.9 L396.9,936.4 L397.5,936.9 L398.1,937.4 L398.6,937.9 L399.2,938.4 L399.8,938.9 L400.4,939.4 L401.0,939.9 L401.5,940.4 L402.1,940.9 L402.7,941.4 L403.3,941.9 M411.4,948.5 L412.0,948.9 L412.5,949.4 L413.1,949.8 L413.7,950.3 L414.3,950.7 L414.9,951.2 L415.4,951.6 L416.0,952.0 M424.1,957.9 L424.7,958.3 L425.3,958.7 L425.9,959.1 L426.4,959.5 L427.0,959.9 L427.6,960.3 L428.2,960.7 L428.8,961.1 L429.3,961.5 L429.9,961.9 L430.5,962.3 L431.1,962.7 L431.7,963.1 L432.2,963.4 L432.8,963.8 L433.4,964.2 L434.0,964.6 L434.6,964.9 L435.1,965.3 L435.7,965.7 L436.3,966.1 L436.9,966.4 L437.4,966.8 L438.0,967.2 L438.6,967.5 L439.2,967.9 L439.8,968.3 L440.3,968.6 L440.9,969.0 L441.5,969.3 L442.1,969.7 L442.7,970.0 L443.2,970.4 L443.8,970.7 L444.4,971.1 L445.0,971.4 M453.1,976.1 L453.7,976.4 L454.2,976.8 L454.8,977.1 L455.4,977.4 L456.0,977.7 L456.6,978.0 L457.1,978.4 L457.7,978.7 M465.8,982.9 L466.4,983.2 L467.0,983.5 L467.6,983.8 L468.1,984.1 L468.7,984.4 L469.3,984.7 L469.9,985.0 L470.5,985.3 L471.0,985.6 L471.6,985.8 L472.2,986.1 L472.8,986.4 L473.4,986.7 L473.9,987.0 L474.5,987.2 L475.1,987.5 L475.7,987.8 L476.2,988.1 L476.8,988.3 L477.4,988.6 L478.0,988.9 L478.6,989.2 L479.1,989.4 L479.7,989.7 L480.3,990.0 L480.9,990.2 L481.5,990.5 L482.0,990.7 L482.6,991.0 L483.2,991.3 L483.8,991.5 L484.4,991.8 L484.9,992.0 L485.5,992.3 L486.1,992.6 M494.2,996.0 L494.8,996.3 L495.4,996.5 L495.9,996.7 L496.5,997.0 L497.1,997.2 L497.7,997.4 L498.3,997.7 L498.8,997.9 M506.9,1001.1 L507.5,1001.3 L508.1,1001.5 L508.7,1001.7 L509.3,1002.0 L509.8,1002.2 L510.4,1002.4 L511.0,1002.6 L511.6,1002.8 L512.2,1003.0 L512.7,1003.2 L513.3,1003.4 L513.9,1003.6 L514.5,1003.9 L515.0,1004.1 L515.6,1004.3 L516.2,1004.5 L516.8,1004.7 L517.4,1004.9 L517.9,1005.1 L518.5,1005.3 L519.1,1005.5 L519.7,1005.7 L520.3,1005.9 L520.8,1006.1 L521.4,1006.3 L522.0,1006.5 L522.6,1006.7 L523.2,1006.9 L523.7,1007.1 L524.3,1007.3 L524.9,1007.5 L525.5,1007.6 L526.1,1007.8 L526.6,1008.0 L527.2,1008.2 L527.8,1008.4 M535.9,1011.0 L536.5,1011.1 L537.1,1011.3 L537.6,1011.5 L538.2,1011.7 L538.8,1011.8 L539.4,1012.0 L540.0,1012.2 L540.5,1012.4 M548.6,1014.7 L549.2,1014.8 L549.8,1015.0 L550.4,1015.2 L551.0,1015.3 L551.5,1015.5 L552.1,1015.6 L552.7,1015.8 L553.3,1016.0 L553.8,1016.1 L554.4,1016.3 L555.0,1016.4 L555.6,1016.6 L556.2,1016.7 L556.7,1016.9 L557.3,1017.0 L557.9,1017.2 L558.5,1017.3 L559.1,1017.5 L559.6,1017.6 L560.2,1017.8 L560.8,1017.9 L561.4,1018.1 L562.0,1018.2 L562.5,1018.4 L563.1,1018.5 L563.7,1018.7 L564.3,1018.8 L564.9,1018.9 L565.4,1019.1 L566.0,1019.2 L566.6,1019.4 L567.2,1019.5 L567.7,1019.7 L568.3,1019.8 L568.9,1019.9 M577.0,1021.8 L577.6,1022.0 L578.2,1022.1 L578.8,1022.2 L579.3,1022.3 L579.9,1022.5 L580.5,1022.6 L581.1,1022.7 L581.6,1022.9 M589.8,1024.6 L590.3,1024.7 L590.9,1024.8 L591.5,1024.9 L592.1,1025.0 L592.7,1025.2 L593.2,1025.3 L593.8,1025.4 L594.4,1025.5 L595.0,1025.6 L595.5,1025.7 L596.1,1025.9 L596.7,1026.0 L597.3,1026.1 L597.9,1026.2 L598.4,1026.3 L599.0,1026.4 L599.6,1026.5 L600.2,1026.6 L600.8,1026.8 L601.3,1026.9 L601.9,1027.0 L602.5,1027.1 L603.1,1027.2 L603.7,1027.3 L604.2,1027.4 L604.8,1027.5 L605.4,1027.6 L606.0,1027.7 L606.5,1027.8 L607.1,1027.9 L607.7,1028.0 L608.3,1028.1 L608.9,1028.2 L609.4,1028.3 L610.0,1028.5 L610.6,1028.6 M618.7,1029.9 L619.3,1030.0 L619.9,1030.1 L620.4,1030.2 L621.0,1030.3 L621.6,1030.4 L622.2,1030.5 L622.8,1030.6 L623.3,1030.7 M631.5,1032.0 L632.0,1032.1 L632.6,1032.1 L633.2,1032.2 L633.8,1032.3 L634.3,1032.4 L634.9,1032.5 L635.5,1032.6 L636.1,1032.7 L636.7,1032.7 L637.2,1032.8 L637.8,1032.9 L638.4,1033.0 L639.0,1033.1 L639.6,1033.2 L640.1,1033.2 L640.7,1033.3 L641.3,1033.4 L641.9,1033.5 L642.5,1033.6 L643.0,1033.6 L643.6,1033.7 L644.2,1033.8 L644.8,1033.9 L645.3,1034.0 L645.9,1034.0 L646.5,1034.1 L647.1,1034.2 L647.7,1034.3 L648.2,1034.4 L648.8,1034.4 L649.4,1034.5 L650.0,1034.6 L650.6,1034.7 L651.1,1034.7 L651.7,1034.8 M659.8,1035.8 L660.4,1035.9 L661.0,1036.0 L661.6,1036.1 L662.1,1036.1 L662.7,1036.2 L663.3,1036.3 L663.9,1036.3 L664.5,1036.4 M672.6,1037.3 L673.1,1037.4 L673.7,1037.5 L674.3,1037.5 L674.9,1037.6 L675.5,1037.7 L676.0,1037.7 L676.6,1037.8 L677.2,1037.8 L677.8,1037.9 L678.4,1038.0 L678.9,1038.0 L679.5,1038.1 L680.1,1038.2 L680.7,1038.2 L681.3,1038.3 L681.8,1038.3 L682.4,1038.4 L683.0,1038.5 L683.6,1038.5 L684.1,1038.6 L684.7,1038.6 L685.3,1038.7 L685.9,1038.8 L686.5,1038.8 L687.0,1038.9 L687.6,1038.9 L688.2,1039.0 L688.8,1039.0 L689.4,1039.1 L689.9,1039.2 L690.5,1039.2 L691.1,1039.3 L691.7,1039.3 L692.3,1039.4 L692.8,1039.4 L693.4,1039.5 M701.5,1040.3 L702.1,1040.3 L702.7,1040.4 L703.3,1040.4 L703.8,1040.5 L704.4,1040.5 L705.0,1040.6 L705.6,1040.6 L706.2,1040.7 M714.3,1041.3 L714.8,1041.4 L715.4,1041.4 L716.0,1041.5 L716.6,1041.5 L717.2,1041.6 L717.7,1041.6 L718.3,1041.7 L718.9,1041.7 L719.5,1041.8 L720.1,1041.8 L720.6,1041.9 L721.2,1041.9 L721.8,1042.0 L722.4,1042.0 L723.0,1042.0 L723.5,1042.1 L724.1,1042.1 L724.7,1042.2 L725.3,1042.2 L725.8,1042.3 L726.4,1042.3 L727.0,1042.3 L727.6,1042.4 L728.2,1042.4 L728.7,1042.5 L729.3,1042.5 L729.9,1042.6 L730.5,1042.6 L731.1,1042.6 L731.6,1042.7 L732.2,1042.7 L732.8,1042.8 L733.4,1042.8 L734.0,1042.9 L734.5,1042.9 M742.6,1043.5 L743.2,1043.5 L743.8,1043.5 L744.4,1043.6 L745.0,1043.6 L745.5,1043.6 L746.1,1043.7 L746.7,1043.7 L747.3,1043.8 M755.4,1044.3 L756.0,1044.3 L756.5,1044.3 L757.1,1044.4 L757.7,1044.4 L758.3,1044.4 L758.9,1044.5 L759.4,1044.5 L760.0,1044.5 L760.6,1044.6 L761.2,1044.6 L761.8,1044.6 L762.3,1044.7 L762.9,1044.7 L763.5,1044.7 L764.1,1044.8 L764.6,1044.8 L765.2,1044.8 L765.8,1044.9 L766.4,1044.9 L767.0,1044.9 L767.5,1045.0 L768.1,1045.0 L768.7,1045.0 L769.3,1045.1 L769.9,1045.1 L770.4,1045.1 L771.0,1045.2 L771.6,1045.2 L772.2,1045.2 L772.8,1045.3 L773.3,1045.3 L773.9,1045.3 L774.5,1045.3 L775.1,1045.4 L775.6,1045.4 L776.2,1045.4 M784.3,1045.8 L784.9,1045.9 L785.5,1045.9 L786.1,1045.9 L786.7,1046.0 L787.2,1046.0 L787.8,1046.0 L788.4,1046.0 L789.0,1046.1 M797.1,1046.4 L797.7,1046.5 L798.2,1046.5 L798.8,1046.5 L799.4,1046.5 L800.0,1046.6 L800.6,1046.6 L801.1,1046.6 L801.7,1046.6 L802.3,1046.7 L802.9,1046.7 L803.4,1046.7 L804.0,1046.7 L804.6,1046.8 L805.2,1046.8 L805.8,1046.8 L806.3,1046.8 L806.9,1046.9 L807.5,1046.9 L808.1,1046.9 L808.7,1046.9 L809.2,1047.0 L809.8,1047.0 L810.4,1047.0 L811.0,1047.0 L811.6,1047.1 L812.1,1047.1 L812.7,1047.1 L813.3,1047.1 L813.9,1047.1 L814.4,1047.2 L815.0,1047.2 L815.6,1047.2 L816.2,1047.2 L816.8,1047.3 L817.3,1047.3 M825.5,1047.6 L826.0,1047.6 L826.6,1047.6 L827.2,1047.6 L827.8,1047.7 L828.3,1047.7 L828.9,1047.7 L829.5,1047.7 L830.1,1047.8 M838.2,1048.0 L838.8,1048.0 L839.4,1048.1 L839.9,1048.1 L840.5,1048.1 L841.1,1048.1 L841.7,1048.1 L842.2,1048.2 L842.8,1048.2 L843.4,1048.2 L844.0,1048.2 L844.6,1048.2 L845.1,1048.3 L845.7,1048.3 L846.3,1048.3 L846.9,1048.3 L847.5,1048.3 L848.0,1048.3 L848.6,1048.4 L849.2,1048.4 L849.8,1048.4 L850.4,1048.4 L850.9,1048.4 L851.5,1048.4 L852.1,1048.5 L852.7,1048.5 L853.3,1048.5 L853.8,1048.5 L854.4,1048.5 L855.0,1048.5 L855.6,1048.6 L856.1,1048.6 L856.7,1048.6 L857.3,1048.6 L857.9,1048.6 L858.5,1048.6 L859.0,1048.7 M867.1,1048.9 L867.7,1048.9 L868.3,1048.9 L868.9,1048.9 L869.5,1048.9 L870.0,1049.0 L870.6,1049.0 L871.2,1049.0 L871.8,1049.0 M879.9,1049.2 L880.5,1049.2 L881.0,1049.2 L881.6,1049.3 L882.2,1049.3 L882.8,1049.3 L883.4,1049.3 L883.9,1049.3 L884.5,1049.3 L885.1,1049.3 L885.7,1049.3 L886.3,1049.4 L886.8,1049.4 L887.4,1049.4 L888.0,1049.4 L888.6,1049.4 L889.2,1049.4 L889.7,1049.4 L890.3,1049.5 L890.9,1049.5 L891.5,1049.5 L892.1,1049.5 L892.6,1049.5 L893.2,1049.5 L893.8,1049.5 L894.4,1049.5 L894.9,1049.6 L895.5,1049.6 L896.1,1049.6 L896.7,1049.6 L897.3,1049.6 L897.8,1049.6 L898.4,1049.6 L899.0,1049.6 L899.6,1049.7 L900.2,1049.7 M908.3,1049.8 L908.8,1049.8 L909.4,1049.9 L910.0,1049.9 L910.6,1049.9 L911.2,1049.9 L911.7,1049.9 L912.3,1049.9 L912.9,1049.9 M921.0,1050.1 L921.6,1050.1 L922.2,1050.1 L922.7,1050.1 L923.3,1050.1 L923.9,1050.1 L924.5,1050.1 L925.1,1050.1 L925.6,1050.2 L926.2,1050.2 L926.8,1050.2 L927.4,1050.2 L928.0,1050.2 L928.5,1050.2 L929.1,1050.2 L929.7,1050.2 L930.3,1050.2 L930.9,1050.2 L931.4,1050.3 L932.0,1050.3 L932.6,1050.3 L933.2,1050.3 L933.7,1050.3 L934.3,1050.3 L934.9,1050.3 L935.5,1050.3 L936.1,1050.3 L936.6,1050.3 L937.2,1050.3 L937.8,1050.4 L938.4,1050.4 L939.0,1050.4 L939.5,1050.4 L940.1,1050.4 L940.7,1050.4 L941.3,1050.4 L941.9,1050.4 M950.0,1050.5 L950.5,1050.5 L951.1,1050.6 L951.7,1050.6 L952.3,1050.6 L952.9,1050.6 L953.4,1050.6 L954.0,1050.6 L954.6,1050.6 M962.7,1050.7 L963.3,1050.7 L963.9,1050.7 L964.4,1050.7 L965.0,1050.7 L965.6,1050.8 L966.2,1050.8 L966.8,1050.8 L967.3,1050.8 L967.9,1050.8 L968.5,1050.8 L969.1,1050.8 L969.7,1050.8 L970.2,1050.8 L970.8,1050.8 L971.4,1050.8 L972.0,1050.8 L972.5,1050.8 L973.1,1050.8 L973.7,1050.9 L974.3,1050.9 L974.9,1050.9 L975.4,1050.9 L976.0,1050.9 L976.6,1050.9 L977.2,1050.9 L977.8,1050.9 L978.3,1050.9 L978.9,1050.9 L979.5,1050.9 L980.1,1050.9 L980.7,1050.9 L981.2,1050.9 L981.8,1050.9 L982.4,1051.0 L983.0,1051.0" stroke="#0000a8"/>
<path d="M64.5,12.5 L65.1,15.6 L65.7,18.8 L66.2,21.9 L66.8,25.0 L67.4,28.1 L68.0,31.3 L68.6,34.4 M69.7,40.6 L70.3,43.7 L70.9,46.8 M72.0,53.1 L72.6,56.2 L73.2,59.3 L73.8,62.4 L74.3,65.5 L74.9,68.6 L75.5,71.7 L76.1,74.7 M77.2,80.9 L77.8,84.0 L78.4,87.0 M79.6,93.2 L80.1,96.2 L80.7,99.3 L81.3,102.3 L81.9,105.4 L82.5,108.4 L83.0,111.4 L83.6,114.5 L84.2,117.5 M85.3,123.6 L85.9,126.7 L86.5,129.8 M87.7,136.0 L88.2,139.1 L88.8,142.2 L89.4,145.2 L90.0,148.3 L90.6,151.3 L91.1,154.3 L91.7,157.3 M92.9,163.1 L93.5,165.9 L94.0,168.7 L94.6,171.4 M95.8,176.8 L96.4,179.4 L96.9,182.0 L97.5,184.6 L98.1,187.2 L98.7,189.8 L99.2,192.3 L99.8,194.8 L100.4,197.3 L101.0,199.7 M102.1,204.6 L102.7,207.0 L103.3,209.4 L103.9,211.8 M105.6,218.9 L106.2,221.3 L106.8,223.6 L107.4,225.9 L107.9,228.1 L108.5,230.3 L109.1,232.5 L109.7,234.7 L110.2,236.8 L110.8,238.9 L111.4,241.0 M113.1,247.4 L113.7,249.5 L114.3,251.6 L114.9,253.7 M116.6,260.2 L117.2,262.5 L117.8,264.7 L118.4,267.0 L118.9,269.4 L119.5,271.7 L120.1,274.2 L120.7,276.7 L121.3,279.2 L121.8,281.9 M123.0,287.3 L123.6,290.0 L124.1,292.8 L124.7,295.6 M125.9,301.2 L126.5,303.9 L127.0,306.7 L127.6,309.4 L128.2,312.2 L128.8,314.8 L129.4,317.4 L129.9,320.0 L130.5,322.5 M132.3,329.6 L132.8,332.0 L133.4,334.3 L134.0,336.6 M135.7,343.4 L136.3,345.6 L136.9,347.8 L137.5,350.0 L138.0,352.1 L138.6,354.3 L139.2,356.4 L139.8,358.5 L140.4,360.6 L140.9,362.7 L141.5,364.8 M143.3,370.9 L143.8,373.0 L144.4,375.0 L145.0,377.0 M147.3,384.9 L147.9,386.8 L148.5,388.8 L149.1,390.7 L149.6,392.7 L150.2,394.6 L150.8,396.5 L151.4,398.4 L151.9,400.3 L152.5,402.2 L153.1,404.1 L153.7,406.0 M156.0,413.6 L156.6,415.5 L157.2,417.3 L157.7,419.2 M159.5,424.9 L160.1,426.7 L160.6,428.6 L161.2,430.5 L161.8,432.3 L162.4,434.2 L162.9,436.1 L163.5,437.9 L164.1,439.7 L164.7,441.6 L165.3,443.4 L165.8,445.2 L166.4,447.0 M168.7,454.2 L169.3,456.0 L169.9,457.7 L170.5,459.5 M172.8,466.5 L173.4,468.3 L174.0,470.0 L174.5,471.7 L175.1,473.4 L175.7,475.2 L176.3,476.9 L176.8,478.6 L177.4,480.3 L178.0,482.0 L178.6,483.7 L179.2,485.4 L179.7,487.1 L180.3,488.8 M182.6,495.4 L183.2,497.1 L183.8,498.8 L184.4,500.4 L185.0,502.1 M187.3,508.7 L187.9,510.3 L188.4,511.9 L189.0,513.6 L189.6,515.2 L190.2,516.8 L190.7,518.4 L191.3,520.1 L191.9,521.7 L192.5,523.3 L193.1,524.9 L193.6,526.5 L194.2,528.1 L194.8,529.7 M197.7,537.7 L198.3,539.3 L198.9,540.9 L199.4,542.5 M202.3,550.3 L202.9,551.9 L203.5,553.4 L204.1,555.0 L204.6,556.5 L205.2,558.1 L205.8,559.6 L206.4,561.2 L207.0,562.7 L207.5,564.2 L208.1,565.8 L208.7,567.3 L209.3,568.8 L209.9,570.3 L210.4,571.8 M213.3,579.4 L213.9,580.9 L214.5,582.3 L215.1,583.8 M218.0,591.2 L218.5,592.7 L219.1,594.1 L219.7,595.6 L220.3,597.0 L220.9,598.5 L221.4,599.9 L222.0,601.4 L222.6,602.8 L223.2,604.2 L223.8,605.7 L224.3,607.1 L224.9,608.5 L225.5,610.0 L226.1,611.4 L226.7,612.8 M229.5,619.8 L230.1,621.2 L230.7,622.6 L231.3,624.0 L231.9,625.3 M234.8,632.2 L235.3,633.5 L235.9,634.9 L236.5,636.3 L237.1,637.6 L237.7,639.0 L238.2,640.3 L238.8,641.6 L239.4,643.0 L240.0,644.3 L240.6,645.6 L241.1,646.9 L241.7,648.3 L242.3,649.6 L242.9,650.9 L243.4,652.2 L244.0,653.5 L244.6,654.8 M247.5,661.2 L248.1,662.5 L248.7,663.8 L249.2,665.0 L249.8,666.3 M253.3,673.8 L253.9,675.1 L254.4,676.3 L255.0,677.5 L255.6,678.8 L256.2,680.0 L256.8,681.2 L257.3,682.4 L257.9,683.7 L258.5,684.9 L259.1,686.1 L259.7,687.3 L260.2,688.5 L260.8,689.7 L261.4,690.9 L262.0,692.1 L262.6,693.3 L263.1,694.5 L263.7,695.7 M267.2,702.8 L267.8,703.9 L268.3,705.1 L268.9,706.3 L269.5,707.4 L270.1,708.6 M273.6,715.5 L274.1,716.6 L274.7,717.7 L275.3,718.9 L275.9,720.0 L276.5,721.1 L277.0,722.3 L277.6,723.4 L278.2,724.5 L278.8,725.6 L279.4,726.7 L279.9,727.8 L280.5,729.0 L281.1,730.1 L281.7,731.2 L282.2,732.3 L282.8,733.4 L283.4,734.5 L284.0,735.6 L284.6,736.7 M288.6,744.3 L289.2,745.3 L289.8,746.4 L290.4,747.5 L290.9,748.5 L291.5,749.6 M295.6,756.9 L296.1,758.0 L296.7,759.0 L297.3,760.0 L297.9,761.1 L298.5,762.1 L299.0,763.1 L299.6,764.1 L300.2,765.2 L300.8,766.2 L301.4,767.2 L301.9,768.2 L302.5,769.2 L303.1,770.2 L303.7,771.2 L304.3,772.2 L304.8,773.2 L305.4,774.2 L306.0,775.2 L306.6,776.2 L307.1,777.2 L307.7,778.2 M312.4,785.9 L312.9,786.9 L313.5,787.8 L314.1,788.8 L314.7,789.7 L315.3,790.7 M319.9,798.2 L320.5,799.1 L321.0,800.0 L321.6,801.0 L322.2,801.9 L322.8,802.8 L323.4,803.7 L323.9,804.6 L324.5,805.5 L325.1,806.4 L325.7,807.3 L326.3,808.2 L326.8,809.1 L327.4,810.0 L328.0,810.9 L328.6,811.8 L329.2,812.7 L329.7,813.6 L330.3,814.5 L330.9,815.4 L331.5,816.3 L332.0,817.1 L332.6,818.0 L333.2,818.9 L333.8,819.8 M339.0,827.5 L339.6,828.3 L340.2,829.2 L340.7,830.0 L341.3,830.9 L341.9,831.7 L342.5,832.6 M347.7,840.0 L348.3,840.8 L348.8,841.6 L349.4,842.4 L350.0,843.2 L350.6,844.1 L351.2,844.9 L351.7,845.7 L352.3,846.5 L352.9,847.3 L353.5,848.1 L354.1,848.9 L354.6,849.7 L355.2,850.5 L355.8,851.2 L356.4,852.0 L357.0,852.8 L357.5,853.6 L358.1,854.4 L358.7,855.2 L359.3,856.0 L359.8,856.7 L360.4,857.5 L361.0,858.3 L361.6,859.1 L362.2,859.8 L362.7,860.6 M369.1,869.0 L369.7,869.7 L370.3,870.4 L370.9,871.2 L371.4,871.9 L372.0,872.7 L372.6,873.4 M379.0,881.4 L379.5,882.1 L380.1,882.8 L380.7,883.5 L381.3,884.2 L381.9,884.9 L382.4,885.6 L383.0,886.3 L383.6,887.0 L384.2,887.7 L384.7,888.3 L385.3,889.0 L385.9,889.7 L386.5,890.4 L387.1,891.1 L387.6,891.7 L388.2,892.4 L388.8,893.1 L389.4,893.8 L390.0,894.4 L390.5,895.1 L391.1,895.8 L391.7,896.4 L392.3,897.1 L392.9,897.7 L393.4,898.4 L394.0,899.0 L394.6,899.7 L395.2,900.3 L395.8,901.0 L396.3,901.6 L396.9,902.2 M404.4,910.3 L405.0,910.9 L405.6,911.5 L406.2,912.1 L406.8,912.7 L407.3,913.3 L407.9,913.9 L408.5,914.5 L409.1,915.1 M417.2,923.0 L417.8,923.6 L418.3,924.1 L418.9,924.6 L419.5,925.2 L420.1,925.7 L420.7,926.3 L421.2,926.8 L421.8,927.3 L422.4,927.9 L423.0,928.4 L423.5,928.9 L424.1,929.4 L424.7,930.0 L425.3,930.5 L425.9,931.0 L426.4,931.5 L427.0,932.0 L427.6,932.5 L428.2,933.0 L428.8,933.5 L429.3,934.0 L429.9,934.5 L430.5,935.0 L431.1,935.5 L431.7,936.0 L432.2,936.5 L432.8,937.0 L433.4,937.5 L434.0,937.9 L434.6,938.4 L435.1,938.9 L435.7,939.4 L436.3,939.8 L436.9,940.3 L437.4,940.8 M445.6,947.1 L446.1,947.5 L446.7,947.9 L447.3,948.3 L447.9,948.8 L448.5,949.2 L449.0,949.6 L449.6,950.0 L450.2,950.5 M458.3,956.1 L458.9,956.5 L459.5,956.9 L460.0,957.3 L460.6,957.7 L461.2,958.1 L461.8,958.4 L462.3,958.8 L462.9,959.2 L463.5,959.6 L464.1,959.9 L464.7,960.3 L465.2,960.7 L465.8,961.1 L466.4,961.4 L467.0,961.8 L467.6,962.2 L468.1,962.5 L468.7,962.9 L469.3,963.3 L469.9,963.6 L470.5,964.0 L471.0,964.3 L471.6,964.7 L472.2,965.0 L472.8,965.4 L473.4,965.7 L473.9,966.1 L474.5,966.4 L475.1,966.8 L475.7,967.1 L476.2,967.5 L476.8,967.8 L477.4,968.2 L478.0,968.5 L478.6,968.8 L479.1,969.2 M487.3,973.7 L487.8,974.1 L488.4,974.4 L489.0,974.7 L489.6,975.0 L490.1,975.3 L490.7,975.6 L491.3,975.9 L491.9,976.2 M500.0,980.4 L500.6,980.7 L501.2,981.0 L501.7,981.3 L502.3,981.6 L502.9,981.8 L503.5,982.1 L504.0,982.4 L504.6,982.7 L505.2,983.0 L505.8,983.2 L506.4,983.5 L506.9,983.8 L507.5,984.1 L508.1,984.3 L508.7,984.6 L509.3,984.9 L509.8,985.2 L510.4,985.4 L511.0,985.7 L511.6,986.0 L512.2,986.2 L512.7,986.5 L513.3,986.8 L513.9,987.0 L514.5,987.3 L515.0,987.5 L515.6,987.8 L516.2,988.1 L516.8,988.3 L517.4,988.6 L517.9,988.8 L518.5,989.1 L519.1,989.3 L519.7,989.6 L520.3,989.8 M528.4,993.3 L528.9,993.5 L529.5,993.7 L530.1,994.0 L530.7,994.2 L531.3,994.5 L531.8,994.7 L532.4,994.9 L533.0,995.1 M541.1,998.3 L541.7,998.5 L542.3,998.7 L542.8,998.9 L543.4,999.2 L544.0,999.4 L544.6,999.6 L545.2,999.8 L545.7,1000.0 L546.3,1000.2 L546.9,1000.4 L547.5,1000.6 L548.1,1000.9 L548.6,1001.1 L549.2,1001.3 L549.8,1001.5 L550.4,1001.7 L551.0,1001.9 L551.5,1002.1 L552.1,1002.3 L552.7,1002.5 L553.3,1002.7 L553.8,1002.9 L554.4,1003.1 L555.0,1003.3 L555.6,1003.5 L556.2,1003.7 L556.7,1003.9 L557.3,1004.1 L557.9,1004.3 L558.5,1004.5 L559.1,1004.7 L559.6,1004.9 L560.2,1005.0 L560.8,1005.2 L561.4,1005.4 L562.0,1005.6 M570.1,1008.2 L570.6,1008.4 L571.2,1008.5 L571.8,1008.7 L572.4,1008.9 L573.0,1009.1 L573.5,1009.2 L574.1,1009.4 L574.7,1009.6 M582.8,1011.9 L583.4,1012.1 L584.0,1012.3 L584.5,1012.4 L585.1,1012.6 L585.7,1012.8 L586.3,1012.9 L586.9,1013.1 L587.4,1013.2 L588.0,1013.4 L588.6,1013.5 L589.2,1013.7 L589.8,1013.9 L590.3,1014.0 L590.9,1014.2 L591.5,1014.3 L592.1,1014.5 L592.7,1014.6 L593.2,1014.8 L593.8,1014.9 L594.4,1015.1 L595.0,1015.2 L595.5,1015.4 L596.1,1015.5 L596.7,1015.7 L597.3,1015.8 L597.9,1016.0 L598.4,1016.1 L599.0,1016.3 L599.6,1016.4 L600.2,1016.6 L600.8,1016.7 L601.3,1016.9 L601.9,1017.0 L602.5,1017.1 L603.1,1017.3 M611.2,1019.2 L611.8,1019.3 L612.3,1019.5 L612.9,1019.6 L613.5,1019.7 L614.1,1019.9 L614.7,1020.0 L615.2,1020.1 L615.8,1020.3 M623.9,1022.0 L624.5,1022.2 L625.1,1022.3 L625.7,1022.4 L626.2,1022.5 L626.8,1022.6 L627.4,1022.8 L628.0,1022.9 L628.6,1023.0 L629.1,1023.1 L629.7,1023.2 L630.3,1023.4 L630.9,1023.5 L631.5,1023.6 L632.0,1023.7 L632.6,1023.8 L633.2,1023.9 L633.8,1024.1 L634.3,1024.2 L634.9,1024.3 L635.5,1024.4 L636.1,1024.5 L636.7,1024.6 L637.2,1024.7 L637.8,1024.8 L638.4,1025.0 L639.0,1025.1 L639.6,1025.2 L640.1,1025.3 L640.7,1025.4 L641.3,1025.5 L641.9,1025.6 L642.5,1025.7 L643.0,1025.8 L643.6,1025.9 L644.2,1026.0 L644.8,1026.2 M652.9,1027.6 L653.5,1027.7 L654.0,1027.8 L654.6,1027.9 L655.2,1028.0 L655.8,1028.1 L656.4,1028.2 L656.9,1028.3 L657.5,1028.4 M665.6,1029.7 L666.2,1029.8 L666.8,1029.9 L667.4,1030.0 L667.9,1030.1 L668.5,1030.2 L669.1,1030.3 L669.7,1030.3 L670.3,1030.4 L670.8,1030.5 L671.4,1030.6 L672.0,1030.7 L672.6,1030.8 L673.1,1030.9 L673.7,1031.0 L674.3,1031.0 L674.9,1031.1 L675.5,1031.2 L676.0,1031.3 L676.6,1031.4 L677.2,1031.5 L677.8,1031.6 L678.4,1031.6 L678.9,1031.7 L679.5,1031.8 L680.1,1031.9 L680.7,1032.0 L681.3,1032.1 L681.8,1032.1 L682.4,1032.2 L683.0,1032.3 L683.6,1032.4 L684.1,1032.5 L684.7,1032.5 L685.3,1032.6 L685.9,1032.7 M694.0,1033.8 L694.6,1033.9 L695.2,1033.9 L695.7,1034.0 L696.3,1034.1 L696.9,1034.2 L697.5,1034.2 L698.0,1034.3 L698.6,1034.4 M706.7,1035.4 L707.3,1035.5 L707.9,1035.5 L708.5,1035.6 L709.1,1035.7 L709.6,1035.7 L710.2,1035.8 L710.8,1035.9 L711.4,1035.9 L711.9,1036.0 L712.5,1036.1 L713.1,1036.1 L713.7,1036.2 L714.3,1036.3 L714.8,1036.3 L715.4,1036.4 L716.0,1036.5 L716.6,1036.5 L717.2,1036.6 L717.7,1036.6 L718.3,1036.7 L718.9,1036.8 L719.5,1036.8 L720.1,1036.9 L720.6,1037.0 L721.2,1037.0 L721.8,1037.1 L722.4,1037.1 L723.0,1037.2 L723.5,1037.3 L724.1,1037.3 L724.7,1037.4 L725.3,1037.5 L725.8,1037.5 L726.4,1037.6 L727.0,1037.6 L727.6,1037.7 M735.7,1038.5 L736.3,1038.6 L736.8,1038.6 L737.4,1038.7 L738.0,1038.7 L738.6,1038.8 L739.2,1038.8 L739.7,1038.9 L740.3,1039.0 M748.4,1039.7 L749.0,1039.7 L749.6,1039.8 L750.2,1039.8 L750.7,1039.9 L751.3,1040.0 L751.9,1040.0 L752.5,1040.1 L753.1,1040.1 L753.6,1040.2 L754.2,1040.2 L754.8,1040.3 L755.4,1040.3 L756.0,1040.3 L756.5,1040.4 L757.1,1040.4 L757.7,1040.5 L758.3,1040.5 L758.9,1040.6 L759.4,1040.6 L760.0,1040.7 L760.6,1040.7 L761.2,1040.8 L761.8,1040.8 L762.3,1040.9 L762.9,1040.9 L763.5,1041.0 L764.1,1041.0 L764.6,1041.1 L765.2,1041.1 L765.8,1041.2 L766.4,1041.2 L767.0,1041.2 L767.5,1041.3 L768.1,1041.3 L768.7,1041.4 M776.8,1042.0 L777.4,1042.0 L778.0,1042.1 L778.5,1042.1 L779.1,1042.2 L779.7,1042.2 L780.3,1042.2 L780.9,1042.3 L781.4,1042.3 M789.5,1042.9 L790.1,1042.9 L790.7,1043.0 L791.3,1043.0 L791.9,1043.0 L792.4,1043.1 L793.0,1043.1 L793.6,1043.1 L794.2,1043.2 L794.8,1043.2 L795.3,1043.3 L795.9,1043.3 L796.5,1043.3 L797.1,1043.4 L797.7,1043.4 L798.2,1043.4 L798.8,1043.5 L799.4,1043.5 L800.0,1043.6 L800.6,1043.6 L801.1,1043.6 L801.7,1043.7 L802.3,1043.7 L802.9,1043.7 L803.4,1043.8 L804.0,1043.8 L804.6,1043.8 L805.2,1043.9 L805.8,1043.9 L806.3,1043.9 L806.9,1044.0 L807.5,1044.0 L808.1,1044.0 L808.7,1044.1 L809.2,1044.1 L809.8,1044.1 L810.4,1044.2 M818.5,1044.6 L819.1,1044.7 L819.7,1044.7 L820.2,1044.7 L820.8,1044.8 L821.4,1044.8 L822.0,1044.8 L822.6,1044.9 L823.1,1044.9 M831.2,1045.3 L831.8,1045.3 L832.4,1045.4 L833.0,1045.4 L833.6,1045.4 L834.1,1045.4 L834.7,1045.5 L835.3,1045.5 L835.9,1045.5 L836.5,1045.6 L837.0,1045.6 L837.6,1045.6 L838.2,1045.6 L838.8,1045.7 L839.4,1045.7 L839.9,1045.7 L840.5,1045.8 L841.1,1045.8 L841.7,1045.8 L842.2,1045.8 L842.8,1045.9 L843.4,1045.9 L844.0,1045.9 L844.6,1045.9 L845.1,1046.0 L845.7,1046.0 L846.3,1046.0 L846.9,1046.0 L847.5,1046.1 L848.0,1046.1 L848.6,1046.1 L849.2,1046.1 L849.8,1046.2 L850.4,1046.2 L850.9,1046.2 L851.5,1046.3 M859.6,1046.6 L860.2,1046.6 L860.8,1046.6 L861.4,1046.7 L861.9,1046.7 L862.5,1046.7 L863.1,1046.7 L863.7,1046.8 L864.3,1046.8 M872.4,1047.1 L872.9,1047.1 L873.5,1047.1 L874.1,1047.2 L874.7,1047.2 L875.3,1047.2 L875.8,1047.2 L876.4,1047.2 L877.0,1047.3 L877.6,1047.3 L878.2,1047.3 L878.7,1047.3 L879.3,1047.4 L879.9,1047.4 L880.5,1047.4 L881.0,1047.4 L881.6,1047.4 L882.2,1047.5 L882.8,1047.5 L883.4,1047.5 L883.9,1047.5 L884.5,1047.5 L885.1,1047.6 L885.7,1047.6 L886.3,1047.6 L886.8,1047.6 L887.4,1047.6 L888.0,1047.7 L888.6,1047.7 L889.2,1047.7 L889.7,1047.7 L890.3,1047.7 L890.9,1047.7 L891.5,1047.8 L892.1,1047.8 L892.6,1047.8 L893.2,1047.8 M901.3,1048.1 L901.9,1048.1 L902.5,1048.1 L903.1,1048.1 L903.6,1048.2 L904.2,1048.2 L904.8,1048.2 L905.4,1048.2 L905.9,1048.2 M914.1,1048.5 L914.6,1048.5 L915.2,1048.5 L915.8,1048.5 L916.4,1048.5 L917.0,1048.5 L917.5,1048.6 L918.1,1048.6 L918.7,1048.6 L919.3,1048.6 L919.8,1048.6 L920.4,1048.6 L921.0,1048.6 L921.6,1048.7 L922.2,1048.7 L922.7,1048.7 L923.3,1048.7 L923.9,1048.7 L924.5,1048.7 L925.1,1048.8 L925.6,1048.8 L926.2,1048.8 L926.8,1048.8 L927.4,1048.8 L928.0,1048.8 L928.5,1048.8 L929.1,1048.9 L929.7,1048.9 L930.3,1048.9 L930.9,1048.9 L931.4,1048.9 L932.0,1048.9 L932.6,1048.9 L933.2,1049.0 L933.7,1049.0 L934.3,1049.0 M942.4,1049.2 L943.0,1049.2 L943.6,1049.2 L944.2,1049.2 L944.8,1049.2 L945.3,1049.2 L945.9,1049.3 L946.5,1049.3 L947.1,1049.3 M955.2,1049.5 L955.8,1049.5 L956.3,1049.5 L956.9,1049.5 L957.5,1049.5 L958.1,1049.5 L958.6,1049.5 L959.2,1049.5 L959.8,1049.6 L960.4,1049.6 L961.0,1049.6 L961.5,1049.6 L962.1,1049.6 L962.7,1049.6 L963.3,1049.6 L963.9,1049.6 L964.4,1049.7 L965.0,1049.7 L965.6,1049.7 L966.2,1049.7 L966.8,1049.7 L967.3,1049.7 L967.9,1049.7 L968.5,1049.7 L969.1,1049.7 L969.7,1049.8 L970.2,1049.8 L970.8,1049.8 L971.4,1049.8 L972.0,1049.8 L972.5,1049.8 L973.1,1049.8 L973.7,1049.8 L974.3,1049.8 L974.9,1049.9 L975.4,1049.9 L976.0,1049.9 M984.1,1050.0 L984.7,1050.0 L985.3,1050.0 L985.9,1050.0 L986.4,1050.1 L987.0,1050.1 L987.6,1050.1 L988.2,1050.1 L988.8,1050.1" stroke="#0000a8"/>
<path d="M64.5,12.5 L65.1,14.1 L65.7,15.7 L66.2,17.4 L66.8,19.0 L67.4,20.6 L68.0,22.2 L68.6,23.8 L69.1,25.5 L69.7,27.1 L70.3,28.7 L70.9,30.3 L71.4,31.9 L72.0,33.6 L72.6,35.2 L73.2,36.8 L73.8,38.4 L74.3,40.0 L74.9,41.6 L75.5,43.3 L76.1,44.9 L76.7,46.5 L77.2,48.1 L77.8,49.7 L78.4,51.3 L79.0,53.0 L79.6,54.6 L80.1,56.2 L80.7,57.8 L81.3,59.4 L81.9,61.0 L82.5,62.6 L83.0,64.2 L83.6,65.9 L84.2,67.5 L84.8,69.1 L85.3,70.7 L85.9,72.3 L86.5,73.9 L87.1,75.5 L87.7,77.1 L88.2,78.7 L88.8,80.3 L89.4,81.9 L90.0,83.5 L90.6,85.1 L91.1,86.7 L91.7,88.3 L92.3,89.9 L92.9,91.5 L93.5,93.1 L94.0,94.7 L94.6,96.3 L95.2,97.9 L95.8,99.5 L96.4,101.1 L96.9,102.6 L97.5,104.2 L98.1,105.8 L98.7,107.4 L99.2,109.0 L99.8,110.6 L100.4,112.2 L101.0,113.7 L101.6,115.3 L102.1,116.9 L102.7,118.5 L103.3,120.0 L103.9,121.6 L104.5,123.2 L105.0,124.7 L105.6,126.3 L106.2,127.9 L106.8,129.4 L107.4,131.0 L107.9,132.5 L108.5,134.1 L109.1,135.7 L109.7,137.2 L110.2,138.8 L110.8,140.3 L111.4,141.9 L112.0,143.5 L112.6,145.0 L113.1,146.6 L113.7,148.2 L114.3,149.7 L114.9,151.3 L115.5,152.9 L116.0,154.5 L116.6,156.1 L117.2,157.7 L117.8,159.3 L118.4,160.9 L118.9,162.5 L119.5,164.1 L120.1,165.7 L120.7,167.3 L121.3,168.9 L121.8,170.6 L122.4,172.2 L123.0,173.8 L123.6,175.5 L124.1,177.2 L124.7,178.8 L125.3,180.5 L125.9,182.2 L126.5,183.8 L127.0,185.5 L127.6,187.2 L128.2,188.9 L128.8,190.6 L129.4,192.3 L129.9,194.0 L130.5,195.6 L131.1,197.3 L131.7,199.0 L132.3,200.7 L132.8,202.4 L133.4,204.1 L134.0,205.8 L134.6,207.5 L135.2,209.2 L135.7,210.9 L136.3,212.6 L136.9,214.3 L137.5,216.0 L138.0,217.7 L138.6,219.4 L139.2,221.1 L139.8,222.8 L140.4,224.5 L140.9,226.2 L141.5,227.9 L142.1,229.6 L142.7,231.3 L143.3,233.0 L143.8,234.7 L144.4,236.4 L145.0,238.1 L145.6,239.8 L146.2,241.5 L146.7,243.2 L147.3,244.9 L147.9,246.6 L148.5,248.3 L149.1,250.0 L149.6,251.7 L150.2,253.4 L150.8,255.1 L151.4,256.7 L151.9,258.4 L152.5,260.1 L153.1,261.8 L153.7,263.5 L154.3,265.2 L154.8,266.8 L155.4,268.5 L156.0,270.2 L156.6,271.9 L157.2,273.5 L157.7,275.2 L158.3,276.8 L158.9,278.5 L159.5,280.1 L160.1,281.8 L160.6,283.4 L161.2,285.0 L161.8,286.6 L162.4,288.3 L162.9,289.9 L163.5,291.5 L164.1,293.1 L164.7,294.7 L165.3,296.3 L165.8,298.0 L166.4,299.6 L167.0,301.2 L167.6,302.8 L168.2,304.4 L168.7,306.1 L169.3,307.7 L169.9,309.3 L170.5,311.0 L171.1,312.6 L171.6,314.2 L172.2,315.9 L172.8,317.6 L173.4,319.2 L174.0,320.9 L174.5,322.6 L175.1,324.2 L175.7,325.9 L176.3,327.6 L176.8,329.3 L177.4,331.0 L178.0,332.7 L178.6,334.4 L179.2,336.1 L179.7,337.9 L180.3,339.6 L180.9,341.3 L181.5,343.0 L182.1,344.7 L182.6,346.5 L183.2,348.2 L183.8,349.9 L184.4,351.7 L185.0,353.4 L185.5,355.1 L186.1,356.9 L186.7,358.6 L187.3,360.3 L187.9,362.1 L188.4,363.8 L189.0,365.6 L189.6,367.3 L190.2,369.0 L190.7,370.8 L191.3,372.5 L191.9,374.2 L192.5,376.0 L193.1,377.7 L193.6,379.4 L194.2,381.2 L194.8,382.9 L195.4,384.6 L196.0,386.3 L196.5,388.1 L197.1,389.8 L197.7,391.5 L198.3,393.2 L198.9,394.9 L199.4,396.6 L200.0,398.3 L200.6,400.0 L201.2,401.7 L201.7,403.4 L202.3,405.1 L202.9,406.8 L203.5,408.5 L204.1,410.2 L204.6,411.8 L205.2,413.5 L205.8,415.2 L206.4,416.8 L207.0,418.5 L207.5,420.1 L208.1,421.8 L208.7,423.4 L209.3,425.1 L209.9,426.7 L210.4,428.3 L211.0,429.9 L211.6,431.6 L212.2,433.2 L212.8,434.8 L213.3,436.4 L213.9,438.0 L214.5,439.6 L215.1,441.2 L215.6,442.7 L216.2,444.3 L216.8,445.9 L217.4,447.5 L218.0,449.1 L218.5,450.6 L219.1,452.2 L219.7,453.8 L220.3,455.3 L220.9,456.9 L221.4,458.4 L222.0,460.0 L222.6,461.5 L223.2,463.1 L223.8,464.6 L224.3,466.1 L224.9,467.7 L225.5,469.2 L226.1,470.7 L226.7,472.3 L227.2,473.8 L227.8,475.3 L228.4,476.8 L229.0,478.4 L229.5,479.9 L230.1,481.4 L230.7,482.9 L231.3,484.4 L231.9,485.9 L232.4,487.4 L233.0,488.9 L233.6,490.4 L234.2,491.9 L234.8,493.4 L235.3,494.9 L235.9,496.4 L236.5,497.9 L237.1,499.4 L237.7,500.9 L238.2,502.4 L238.8,503.9 L239.4,505.4 L240.0,506.9 L240.6,508.4 L241.1,509.9 L241.7,511.3 L242.3,512.8 L242.9,514.3 L243.4,515.8 L244.0,517.3 L244.6,518.7 L245.2,520.2 L245.8,521.7 L246.3,523.2 L246.9,524.7 L247.5,526.1 L248.1,527.6 L248.7,529.1 L249.2,530.6 L249.8,532.0 L250.4,533.5 L251.0,535.0 L251.6,536.4 L252.1,537.9 L252.7,539.4 L253.3,540.8 L253.9,542.3 L254.4,543.8 L255.0,545.2 L255.6,546.7 L256.2,548.1 L256.8,549.6 L257.3,551.0 L257.9,552.5 L258.5,553.9 L259.1,555.3 L259.7,556.8 L260.2,558.2 L260.8,559.7 L261.4,561.1 L262.0,562.5 L262.6,564.0 L263.1,565.4 L263.7,566.8 L264.3,568.2 L264.9,569.7 L265.5,571.1 L266.0,572.5 L266.6,573.9 L267.2,575.3 L267.8,576.8 L268.3,578.2 L268.9,579.6 L269.5,581.0 L270.1,582.4 L270.7,583.8 L271.2,585.2 L271.8,586.6 L272.4,588.0 L273.0,589.4 L273.6,590.8 L274.1,592.2 L274.7,593.6 L275.3,595.0 L275.9,596.4 L276.5,597.8 L277.0,599.2 L277.6,600.6 L278.2,602.0 L278.8,603.4 L279.4,604.7 L279.9,606.1 L280.5,607.5 L281.1,608.9 L281.7,610.3 L282.2,611.6 L282.8,613.0 L283.4,614.4 L284.0,615.8 L284.6,617.1 L285.1,618.5 L285.7,619.9 L286.3,621.2 L286.9,622.6 L287.5,624.0 L288.0,625.3 L288.6,626.7 L289.2,628.1 L289.8,629.4 L290.4,630.8 L290.9,632.1 L291.5,633.5 L292.1,634.8 L292.7,636.2 L293.2,637.5 L293.8,638.9 L294.4,640.3 L295.0,641.6 L295.6,642.9 L296.1,644.3 L296.7,645.6 L297.3,647.0 L297.9,648.3 L298.5,649.7 L299.0,651.0 L299.6,652.4 L300.2,653.7 L300.8,655.0 L301.4,656.4 L301.9,657.7 L302.5,659.0 L303.1,660.4 L303.7,661.7 L304.3,663.0 L304.8,664.4 L305.4,665.7 L306.0,667.0 L306.6,668.3 L307.1,669.7 L307.7,671.0 L308.3,672.3 L308.9,673.6 L309.5,674.9 L310.0,676.2 L310.6,677.5 L311.2,678.9 L311.8,680.2 L312.4,681.5 L312.9,682.8 L313.5,684.1 L314.1,685.4 L314.7,686.7 L315.3,687.9 L315.8,689.2 L316.4,690.5 L317.0,691.8 L317.6,693.1 L318.2,694.4 L318.7,695.6 L319.3,696.9 L319.9,698.2 L320.5,699.5 L321.0,700.7 L321.6,702.0 L322.2,703.2 L322.8,704.5 L323.4,705.8 L323.9,707.0 L324.5,708.3 L325.1,709.5 L325.7,710.7 L326.3,712.0 L326.8,713.2 L327.4,714.5 L328.0,715.7 L328.6,716.9 L329.2,718.1 L329.7,719.4 L330.3,720.6 L330.9,721.8 L331.5,723.0 L332.0,724.2 L332.6,725.4 L333.2,726.6 L333.8,727.8 L334.4,729.0 L334.9,730.2 L335.5,731.4 L336.1,732.6 L336.7,733.8 L337.3,735.0 L337.8,736.1 L338.4,737.3 L339.0,738.5 L339.6,739.7 L340.2,740.8 L340.7,742.0 L341.3,743.1 L341.9,744.3 L342.5,745.4 L343.1,746.6 L343.6,747.7 L344.2,748.9 L344.8,750.0 L345.4,751.1 L345.9,752.3 L346.5,753.4 L347.1,754.5 L347.7,755.7 L348.3,756.8 L348.8,757.9 L349.4,759.0 L350.0,760.1 L350.6,761.2 L351.2,762.3 L351.7,763.4 L352.3,764.5 L352.9,765.6 L353.5,766.7 L354.1,767.8 L354.6,768.9 L355.2,770.0 L355.8,771.1 L356.4,772.2 L357.0,773.2 L357.5,774.3 L358.1,775.4 L358.7,776.5 L359.3,777.5 L359.8,778.6 L360.4,779.7 L361.0,780.7 L361.6,781.8 L362.2,782.8 L362.7,783.9 L363.3,784.9 L363.9,786.0 L364.5,787.0 L365.1,788.0 L365.6,789.1 L366.2,790.1 L366.8,791.1 L367.4,792.2 L368.0,793.2 L368.5,794.2 L369.1,795.2 L369.7,796.2 L370.3,797.2 L370.9,798.3 L371.4,799.3 L372.0,800.3 L372.6,801.3 L373.7,803.3 L374.9,805.2 L376.1,807.2 L377.2,809.2 L378.4,811.1 L379.5,813.1 L380.7,815.0 L381.9,816.9 L383.0,818.8 L384.2,820.7 L385.3,822.6 L386.5,824.5 L387.6,826.3 L388.8,828.2 L390.0,830.0 L391.1,831.9 L392.3,833.7 L393.4,835.5 L394.6,837.3 L395.8,839.1 L396.9,840.9 L398.1,842.6 L399.2,844.4 L400.4,846.1 L401.5,847.9 L402.7,849.6 L403.9,851.3 L405.0,853.0 L406.2,854.7 L407.3,856.4 L408.5,858.1 L409.7,859.8 L410.8,861.4 L412.0,863.1 L413.1,864.7 L414.3,866.4 L415.4,868.0 L416.6,869.6 L417.8,871.2 L418.9,872.8 L420.1,874.4 L421.2,876.0 L422.4,877.5 L423.5,879.1 L424.7,880.6 L425.9,882.1 L427.0,883.7 L428.2,885.2 L429.3,886.7 L430.5,888.2 L431.7,889.6 L432.8,891.1 L434.0,892.6 L435.1,894.0 L436.3,895.4 L437.4,896.9 L438.6,898.3 L439.8,899.7 L440.9,901.1 L442.1,902.4 L443.2,903.8 L444.4,905.2 L445.6,906.5 L446.7,907.9 L447.9,909.2 L449.0,910.5 L450.2,911.8 L451.3,913.1 L452.5,914.4 L453.7,915.7 L454.8,916.9 L456.0,918.2 L457.1,919.4 L458.3,920.7 L459.5,921.9 L460.6,923.1 L461.8,924.3 L462.9,925.5 L464.1,926.7 L465.2,927.8 L466.4,929.0 L467.6,930.1 L468.7,931.3 L469.9,932.4 L471.0,933.5 L472.2,934.6 L473.4,935.7 L474.5,936.8 L475.7,937.9 L476.8,939.0 L478.0,940.0 L479.1,941.1 L480.3,942.1 L481.5,943.1 L482.6,944.1 L483.8,945.2 L484.9,946.2 L486.1,947.1 L487.3,948.1 L488.4,949.1 L489.6,950.1 L490.7,951.0 L491.9,952.0 L493.0,952.9 L494.2,953.8 L495.4,954.8 L496.5,955.7 L497.7,956.6 L498.8,957.5 L500.0,958.4 L501.2,959.3 L502.3,960.2 L503.5,961.0 L504.6,961.9 L505.8,962.8 L506.9,963.6 L508.1,964.5 L509.3,965.3 L510.4,966.1 L511.6,966.9 L512.7,967.8 L513.9,968.6 L515.0,969.4 L516.2,970.2 L517.4,971.0 L518.5,971.7 L519.7,972.5 L520.8,973.3 L522.0,974.0 L523.2,974.8 L524.3,975.5 L525.5,976.3 L526.6,977.0 L527.8,977.7 L528.9,978.5 L530.1,979.2 L531.3,979.9 L532.4,980.6 L533.6,981.3 L534.7,982.0 L535.9,982.6 L537.1,983.3 L538.2,984.0 L539.4,984.6 L540.5,985.3 L541.7,985.9 L542.8,986.6 L544.0,987.2 L545.2,987.9 L546.3,988.5 L547.5,989.1 L548.6,989.7 L549.8,990.3 L551.0,990.9 L552.1,991.5 L553.3,992.1 L554.4,992.7 L555.6,993.3 L556.7,993.8 L557.9,994.4 L559.1,995.0 L560.2,995.5 L561.4,996.1 L562.5,996.6 L563.7,997.2 L564.9,997.7 L566.0,998.2 L567.2,998.8 L568.3,999.3 L569.5,999.8 L570.6,1000.3 L571.8,1000.8 L573.0,1001.3 L574.1,1001.8 L575.3,1002.3 L576.4,1002.8 L577.6,1003.2 L578.8,1003.7 L579.9,1004.2 L581.1,1004.6 L582.2,1005.1 L583.4,1005.5 L584.5,1006.0 L585.7,1006.4 L586.9,1006.9 L588.0,1007.3 L589.2,1007.8 L590.3,1008.2 L591.5,1008.6 L592.7,1009.0 L593.8,1009.4 L595.0,1009.9 L596.1,1010.3 L597.3,1010.7 L598.4,1011.1 L599.6,1011.5 L600.8,1011.9 L601.9,1012.3 L603.1,1012.6 L604.2,1013.0 L605.4,1013.4 L606.5,1013.8 L607.7,1014.1 L608.9,1014.5 L610.0,1014.9 L611.2,1015.2 L612.3,1015.6 L613.5,1015.9 L614.7,1016.3 L615.8,1016.6 L617.0,1017.0 L618.1,1017.3 L619.3,1017.7 L620.4,1018.0 L621.6,1018.3 L622.8,1018.7 L623.9,1019.0 L625.1,1019.3 L626.2,1019.6 L627.4,1019.9 L628.6,1020.2 L629.7,1020.6 L630.9,1020.9 L632.0,1021.2 L633.2,1021.5 L634.3,1021.8 L635.5,1022.1 L636.7,1022.3 L637.8,1022.6 L639.0,1022.9 L640.1,1023.2 L641.3,1023.5 L642.5,1023.8 L643.6,1024.0 L644.8,1024.3 L645.9,1024.6 L647.1,1024.8 L648.2,1025.1 L649.4,1025.4 L650.6,1025.6 L651.7,1025.9 L652.9,1026.1 L654.0,1026.4 L655.2,1026.7 L656.4,1026.9 L657.5,1027.1 L658.7,1027.4 L659.8,1027.6 L661.0,1027.9 L662.1,1028.1 L663.3,1028.3 L664.5,1028.6 L665.6,1028.8 L666.8,1029.0 L667.9,1029.2 L669.1,1029.5 L670.3,1029.7 L671.4,1029.9 L672.6,1030.1 L673.7,1030.3 L674.9,1030.6 L676.0,1030.8 L677.2,1031.0 L678.4,1031.2 L679.5,1031.4 L680.7,1031.6 L681.8,1031.8 L683.0,1032.0 L684.1,1032.2 L685.3,1032.4 L686.5,1032.6 L687.6,1032.8 L688.8,1032.9 L689.9,1033.1 L691.1,1033.3 L692.3,1033.5 L693.4,1033.7 L694.6,1033.9 L695.7,1034.0 L696.9,1034.2 L698.0,1034.4 L699.2,1034.6 L700.4,1034.7 L701.5,1034.9 L702.7,1035.1 L703.8,1035.2 L705.0,1035.4 L706.2,1035.6 L707.3,1035.7 L708.5,1035.9 L709.6,1036.1 L710.8,1036.2 L711.9,1036.4 L713.1,1036.5 L714.3,1036.7 L715.4,1036.8 L716.6,1037.0 L717.7,1037.1 L718.9,1037.3 L720.1,1037.4 L721.2,1037.6 L722.4,1037.7 L723.5,1037.9 L724.7,1038.0 L725.8,1038.1 L727.0,1038.3 L728.2,1038.4 L729.3,1038.5 L730.5,1038.7 L731.6,1038.8 L732.8,1038.9 L734.0,1039.1 L735.1,1039.2 L736.3,1039.3 L737.4,1039.5 L738.6,1039.6 L739.7,1039.7 L740.9,1039.8 L742.1,1039.9 L743.2,1040.1 L744.4,1040.2 L745.5,1040.3 L746.7,1040.4 L747.9,1040.5 L749.0,1040.6 L750.2,1040.8 L751.3,1040.9 L752.5,1041.0 L753.6,1041.1 L754.8,1041.2 L756.0,1041.3 L757.1,1041.4 L758.3,1041.5 L759.4,1041.6 L760.6,1041.7 L761.8,1041.8 L762.9,1041.9 L764.1,1042.0 L765.2,1042.1 L766.4,1042.2 L767.5,1042.3 L768.7,1042.4 L769.9,1042.5 L771.0,1042.6 L772.2,1042.7 L773.3,1042.8 L774.5,1042.9 L775.6,1043.0 L776.8,1043.1 L778.0,1043.2 L779.1,1043.3 L780.3,1043.4 L781.4,1043.4 L782.6,1043.5 L783.8,1043.6 L784.9,1043.7 L786.1,1043.8 L787.2,1043.9 L788.4,1044.0 L789.5,1044.0 L790.7,1044.1 L791.9,1044.2 L793.0,1044.3 L794.2,1044.4 L795.3,1044.4 L796.5,1044.5 L797.7,1044.6 L798.8,1044.7 L800.0,1044.7 L801.1,1044.8 L802.3,1044.9 L803.4,1045.0 L804.6,1045.0 L805.8,1045.1 L806.9,1045.2 L808.1,1045.2 L809.2,1045.3 L810.4,1045.4 L811.6,1045.5 L812.7,1045.5 L813.9,1045.6 L815.0,1045.7 L816.2,1045.7 L817.3,1045.8 L818.5,1045.8 L819.7,1045.9 L820.8,1046.0 L822.0,1046.0 L823.1,1046.1 L824.3,1046.2 L825.5,1046.2 L826.6,1046.3 L827.8,1046.3 L828.9,1046.4 L830.1,1046.5 L831.2,1046.5 L832.4,1046.6 L833.6,1046.6 L834.7,1046.7 L835.9,1046.7 L837.0,1046.8 L838.2,1046.9 L839.4,1046.9 L840.5,1047.0 L841.7,1047.0 L842.8,1047.1 L844.0,1047.1 L845.1,1047.2 L846.3,1047.2 L847.5,1047.3 L848.6,1047.3 L849.8,1047.4 L850.9,1047.4 L852.1,1047.5 L853.3,1047.5 L854.4,1047.6 L855.6,1047.6 L856.7,1047.7 L857.9,1047.7 L859.0,1047.8 L860.2,1047.8 L861.4,1047.8 L862.5,1047.9 L863.7,1047.9 L864.8,1048.0 L866.0,1048.0 L867.1,1048.1 L868.3,1048.1 L869.5,1048.1 L870.6,1048.2 L871.8,1048.2 L872.9,1048.3 L874.1,1048.3 L875.3,1048.3 L876.4,1048.4 L877.6,1048.4 L878.7,1048.5 L879.9,1048.5 L881.0,1048.5 L882.2,1048.6 L883.4,1048.6 L884.5,1048.7 L885.7,1048.7 L886.8,1048.7 L888.0,1048.8 L889.2,1048.8 L890.3,1048.8 L891.5,1048.9 L892.6,1048.9 L893.8,1048.9 L894.9,1049.0 L896.1,1049.0 L897.3,1049.0 L898.4,1049.1 L899.6,1049.1 L900.7,1049.1 L901.9,1049.2 L903.1,1049.2 L904.2,1049.2 L905.4,1049.3 L906.5,1049.3 L907.7,1049.3 L908.8,1049.4 L910.0,1049.4 L911.2,1049.4 L912.3,1049.4 L913.5,1049.5 L914.6,1049.5 L915.8,1049.5 L917.0,1049.6 L918.1,1049.6 L919.3,1049.6 L920.4,1049.6 L921.6,1049.7 L922.7,1049.7 L923.9,1049.7 L925.1,1049.8 L926.2,1049.8 L927.4,1049.8 L928.5,1049.8 L929.7,1049.9 L930.9,1049.9 L932.0,1049.9 L933.2,1049.9 L934.3,1050.0 L935.5,1050.0 L936.6,1050.0 L937.8,1050.0 L939.0,1050.1 L940.1,1050.1 L941.3,1050.1 L942.4,1050.1 L943.6,1050.1 L944.8,1050.2 L945.9,1050.2 L947.1,1050.2 L948.2,1050.2 L949.4,1050.3 L950.5,1050.3 L951.7,1050.3 L952.9,1050.3 L954.0,1050.3 L955.2,1050.4 L956.3,1050.4 L957.5,1050.4 L958.6,1050.4 L959.8,1050.4 L961.0,1050.5 L962.1,1050.5 L963.3,1050.5 L964.4,1050.5 L965.6,1050.5 L966.8,1050.6 L967.9,1050.6 L969.1,1050.6 L970.2,1050.6 L971.4,1050.6 L972.5,1050.7 L973.7,1050.7 L974.9,1050.7 L976.0,1050.7 L977.2,1050.7 L978.3,1050.7 L979.5,1050.8 L980.7,1050.8 L981.8,1050.8 L983.0,1050.8 L984.1,1050.8 L985.3,1050.8 L986.4,1050.9 L987.6,1050.9 L988.8,1050.9 L989.9,1050.9 L990.5,1050.9" stroke="#d00000"/>
<path d="M64.5,12.5 L65.1,13.9 L65.7,15.3 L66.2,16.8 L66.8,18.2 L67.4,19.6 L68.0,21.0 L68.6,22.5 L69.1,23.9 L69.7,25.3 L70.3,26.8 L70.9,28.2 L71.4,29.6 L72.0,31.1 L72.6,32.5 L73.2,33.9 L73.8,35.4 L74.3,36.8 L74.9,38.3 L75.5,39.7 L76.1,41.2 L76.7,42.6 L77.2,44.1 L77.8,45.5 L78.4,47.0 L79.0,48.4 L79.6,49.9 L80.1,51.3 L80.7,52.8 L81.3,54.2 L81.9,55.7 L82.5,57.1 L83.0,58.6 L83.6,60.0 L84.2,61.5 L84.8,63.0 L85.3,64.4 L85.9,65.9 L86.5,67.3 L87.1,68.8 L87.7,70.2 L88.2,71.7 L88.8,73.2 L89.4,74.6 L90.0,76.1 L90.6,77.6 L91.1,79.0 L91.7,80.5 L92.3,81.9 L92.9,83.4 L93.5,84.9 L94.0,86.3 L94.6,87.8 L95.2,89.3 L95.8,90.7 L96.4,92.2 L96.9,93.6 L97.5,95.1 L98.1,96.6 L98.7,98.0 L99.2,99.5 L99.8,100.9 L100.4,102.4 L101.0,103.9 L101.6,105.3 L102.1,106.8 L102.7,108.2 L103.3,109.7 L103.9,111.2 L104.5,112.6 L105.0,114.1 L105.6,115.5 L106.2,117.0 L106.8,118.5 L107.4,119.9 L107.9,121.4 L108.5,122.8 L109.1,124.3 L109.7,125.8 L110.2,127.3 L110.8,128.7 L111.4,130.2 L112.0,131.7 L112.6,133.2 L113.1,134.7 L113.7,136.1 L114.3,137.6 L114.9,139.1 L115.5,140.6 L116.0,142.1 L116.6,143.6 L117.2,145.1 L117.8,146.6 L118.4,148.1 L118.9,149.6 L119.5,151.0 L120.1,152.5 L120.7,154.0 L121.3,155.5 L121.8,157.0 L122.4,158.5 L123.0,160.0 L123.6,161.5 L124.1,163.0 L124.7,164.5 L125.3,166.0 L125.9,167.4 L126.5,168.9 L127.0,170.4 L127.6,171.9 L128.2,173.4 L128.8,174.8 L129.4,176.3 L129.9,177.8 L130.5,179.2 L131.1,180.7 L131.7,182.1 L132.3,183.6 L132.8,185.1 L133.4,186.5 L134.0,188.0 L134.6,189.4 L135.2,190.9 L135.7,192.4 L136.3,193.8 L136.9,195.3 L137.5,196.8 L138.0,198.2 L138.6,199.7 L139.2,201.2 L139.8,202.7 L140.4,204.2 L140.9,205.7 L141.5,207.1 L142.1,208.6 L142.7,210.2 L143.3,211.7 L143.8,213.2 L144.4,214.7 L145.0,216.2 L145.6,217.8 L146.2,219.3 L146.7,220.9 L147.3,222.4 L147.9,224.0 L148.5,225.6 L149.1,227.2 L149.6,228.8 L150.2,230.4 L150.8,232.0 L151.4,233.7 L151.9,235.3 L152.5,237.0 L153.1,238.6 L153.7,240.3 L154.3,241.9 L154.8,243.6 L155.4,245.3 L156.0,246.9 L156.6,248.6 L157.2,250.2 L157.7,251.9 L158.3,253.6 L158.9,255.2 L159.5,256.9 L160.1,258.5 L160.6,260.1 L161.2,261.8 L161.8,263.4 L162.4,265.0 L162.9,266.6 L163.5,268.2 L164.1,269.8 L164.7,271.4 L165.3,272.9 L165.8,274.5 L166.4,276.0 L167.0,277.6 L167.6,279.1 L168.2,280.6 L168.7,282.1 L169.3,283.6 L169.9,285.1 L170.5,286.6 L171.1,288.1 L171.6,289.6 L172.2,291.1 L172.8,292.6 L173.4,294.1 L174.0,295.5 L174.5,297.0 L175.1,298.5 L175.7,299.9 L176.3,301.4 L176.8,302.9 L177.4,304.3 L178.0,305.8 L178.6,307.3 L179.2,308.7 L179.7,310.2 L180.3,311.7 L180.9,313.2 L181.5,314.6 L182.1,316.1 L182.6,317.6 L183.2,319.1 L183.8,320.6 L184.4,322.1 L185.0,323.6 L185.5,325.1 L186.1,326.6 L186.7,328.1 L187.3,329.6 L187.9,331.2 L188.4,332.7 L189.0,334.2 L189.6,335.7 L190.2,337.2 L190.7,338.7 L191.3,340.2 L191.9,341.7 L192.5,343.2 L193.1,344.7 L193.6,346.3 L194.2,347.8 L194.8,349.3 L195.4,350.8 L196.0,352.3 L196.5,353.8 L197.1,355.3 L197.7,356.8 L198.3,358.3 L198.9,359.8 L199.4,361.3 L200.0,362.8 L200.6,364.3 L201.2,365.8 L201.7,367.3 L202.3,368.9 L202.9,370.4 L203.5,371.9 L204.1,373.4 L204.6,374.9 L205.2,376.3 L205.8,377.8 L206.4,379.3 L207.0,380.8 L207.5,382.3 L208.1,383.8 L208.7,385.3 L209.3,386.8 L209.9,388.3 L210.4,389.8 L211.0,391.3 L211.6,392.8 L212.2,394.2 L212.8,395.7 L213.3,397.2 L213.9,398.7 L214.5,400.2 L215.1,401.6 L215.6,403.1 L216.2,404.6 L216.8,406.1 L217.4,407.5 L218.0,409.0 L218.5,410.5 L219.1,411.9 L219.7,413.4 L220.3,414.9 L220.9,416.3 L221.4,417.8 L222.0,419.3 L222.6,420.7 L223.2,422.2 L223.8,423.6 L224.3,425.1 L224.9,426.5 L225.5,428.0 L226.1,429.4 L226.7,430.9 L227.2,432.3 L227.8,433.8 L228.4,435.2 L229.0,436.6 L229.5,438.1 L230.1,439.5 L230.7,440.9 L231.3,442.3 L231.9,443.8 L232.4,445.2 L233.0,446.6 L233.6,448.0 L234.2,449.4 L234.8,450.8 L235.3,452.3 L235.9,453.7 L236.5,455.1 L237.1,456.5 L237.7,457.9 L238.2,459.3 L238.8,460.7 L239.4,462.1 L240.0,463.5 L240.6,464.9 L241.1,466.3 L241.7,467.7 L242.3,469.1 L242.9,470.5 L243.4,471.8 L244.0,473.2 L244.6,474.6 L245.2,476.0 L245.8,477.4 L246.3,478.8 L246.9,480.2 L247.5,481.6 L248.1,482.9 L248.7,484.3 L249.2,485.7 L249.8,487.1 L250.4,488.5 L251.0,489.8 L251.6,491.2 L252.1,492.6 L252.7,494.0 L253.3,495.4 L253.9,496.7 L254.4,498.1 L255.0,499.5 L255.6,500.9 L256.2,502.3 L256.8,503.6 L257.3,505.0 L257.9,506.4 L258.5,507.8 L259.1,509.1 L259.7,510.5 L260.2,511.9 L260.8,513.3 L261.4,514.6 L262.0,516.0 L262.6,517.4 L263.1,518.8 L263.7,520.2 L264.3,521.5 L264.9,522.9 L265.5,524.3 L266.0,525.7 L266.6,527.0 L267.2,528.4 L267.8,529.8 L268.3,531.2 L268.9,532.6 L269.5,533.9 L270.1,535.3 L270.7,536.7 L271.2,538.1 L271.8,539.5 L272.4,540.9 L273.0,542.3 L273.6,543.6 L274.1,545.0 L274.7,546.4 L275.3,547.8 L275.9,549.2 L276.5,550.6 L277.0,552.0 L277.6,553.4 L278.2,554.8 L278.8,556.1 L279.4,557.5 L279.9,558.9 L280.5,560.3 L281.1,561.7 L281.7,563.1 L282.2,564.5 L282.8,565.9 L283.4,567.2 L284.0,568.6 L284.6,570.0 L285.1,571.4 L285.7,572.8 L286.3,574.2 L286.9,575.5 L287.5,576.9 L288.0,578.3 L288.6,579.7 L289.2,581.1 L289.8,582.4 L290.4,583.8 L290.9,585.2 L291.5,586.5 L292.1,587.9 L292.7,589.3 L293.2,590.6 L293.8,592.0 L294.4,593.4 L295.0,594.7 L295.6,596.1 L296.1,597.4 L296.7,598.8 L297.3,600.1 L297.9,601.5 L298.5,602.8 L299.0,604.2 L299.6,605.5 L300.2,606.9 L300.8,608.2 L301.4,609.6 L301.9,610.9 L302.5,612.2 L303.1,613.5 L303.7,614.9 L304.3,616.2 L304.8,617.5 L305.4,618.8 L306.0,620.2 L306.6,621.5 L307.1,622.8 L307.7,624.1 L308.3,625.4 L308.9,626.7 L309.5,628.0 L310.0,629.3 L310.6,630.6 L311.2,631.9 L311.8,633.1 L312.4,634.4 L312.9,635.7 L313.5,637.0 L314.1,638.3 L314.7,639.5 L315.3,640.8 L315.8,642.1 L316.4,643.3 L317.0,644.6 L317.6,645.8 L318.2,647.1 L318.7,648.3 L319.3,649.6 L319.9,650.8 L320.5,652.1 L321.0,653.3 L321.6,654.5 L322.2,655.8 L322.8,657.0 L323.4,658.2 L323.9,659.4 L324.5,660.7 L325.1,661.9 L325.7,663.1 L326.3,664.3 L326.8,665.5 L327.4,666.7 L328.0,667.9 L328.6,669.2 L329.2,670.4 L329.7,671.6 L330.3,672.8 L330.9,674.0 L331.5,675.1 L332.0,676.3 L332.6,677.5 L333.2,678.7 L333.8,679.9 L334.4,681.1 L334.9,682.3 L335.5,683.4 L336.1,684.6 L336.7,685.8 L337.3,687.0 L337.8,688.1 L338.4,689.3 L339.0,690.5 L339.6,691.7 L340.2,692.8 L340.7,694.0 L341.3,695.1 L341.9,696.3 L342.5,697.5 L343.1,698.6 L343.6,699.8 L344.2,700.9 L344.8,702.1 L345.4,703.2 L345.9,704.4 L346.5,705.5 L347.1,706.6 L347.7,707.8 L348.3,708.9 L348.8,710.1 L349.4,711.2 L350.0,712.3 L350.6,713.5 L351.2,714.6 L351.7,715.7 L352.3,716.9 L352.9,718.0 L353.5,719.1 L354.1,720.2 L354.6,721.4 L355.2,722.5 L355.8,723.6 L356.4,724.7 L357.0,725.9 L357.5,727.0 L358.1,728.1 L358.7,729.2 L359.3,730.3 L359.8,731.4 L360.4,732.5 L361.0,733.6 L361.6,734.8 L362.2,735.9 L362.7,737.0 L363.3,738.1 L363.9,739.2 L364.5,740.3 L365.1,741.4 L365.6,742.5 L366.2,743.6 L366.8,744.7 L367.4,745.8 L368.0,746.9 L368.5,748.0 L369.1,749.1 L369.7,750.2 L370.3,751.2 L370.9,752.3 L371.4,753.4 L372.0,754.5 L372.6,755.6 L373.2,756.7 L373.7,757.8 L374.3,758.9 L374.9,759.9 L375.5,761.0 L376.1,762.1 L376.6,763.2 L377.2,764.3 L377.8,765.3 L378.4,766.4 L379.0,767.5 L379.5,768.6 L380.1,769.6 L380.7,770.7 L381.3,771.8 L381.9,772.8 L382.4,773.9 L383.0,774.9 L383.6,776.0 L384.2,777.1 L384.7,778.1 L385.3,779.2 L385.9,780.2 L386.5,781.3 L387.1,782.3 L387.6,783.3 L388.2,784.4 L388.8,785.4 L389.4,786.5 L390.0,787.5 L390.5,788.5 L391.1,789.5 L391.7,790.6 L392.3,791.6 L392.9,792.6 L393.4,793.6 L394.0,794.6 L394.6,795.7 L395.2,796.7 L395.8,797.7 L396.3,798.7 L396.9,799.7 L398.1,801.7 L399.2,803.6 L400.4,805.6 L401.5,807.6 L402.7,809.5 L403.9,811.4 L405.0,813.4 L406.2,815.3 L407.3,817.2 L408.5,819.0 L409.7,820.9 L410.8,822.8 L412.0,824.6 L413.1,826.4 L414.3,828.2 L415.4,830.0 L416.6,831.8 L417.8,833.6 L418.9,835.4 L420.1,837.1 L421.2,838.8 L422.4,840.5 L423.5,842.2 L424.7,843.9 L425.9,845.6 L427.0,847.3 L428.2,848.9 L429.3,850.6 L430.5,852.2 L431.7,853.8 L432.8,855.4 L434.0,857.0 L435.1,858.6 L436.3,860.2 L437.4,861.7 L438.6,863.3 L439.8,864.8 L440.9,866.3 L442.1,867.9 L443.2,869.4 L444.4,870.9 L445.6,872.4 L446.7,873.8 L447.9,875.3 L449.0,876.8 L450.2,878.2 L451.3,879.6 L452.5,881.1 L453.7,882.5 L454.8,883.9 L456.0,885.3 L457.1,886.7 L458.3,888.1 L459.5,889.4 L460.6,890.8 L461.8,892.1 L462.9,893.5 L464.1,894.8 L465.2,896.1 L466.4,897.4 L467.6,898.7 L468.7,900.0 L469.9,901.3 L471.0,902.5 L472.2,903.8 L473.4,905.0 L474.5,906.3 L475.7,907.5 L476.8,908.7 L478.0,909.9 L479.1,911.1 L480.3,912.3 L481.5,913.5 L482.6,914.7 L483.8,915.9 L484.9,917.0 L486.1,918.2 L487.3,919.3 L488.4,920.4 L489.6,921.6 L490.7,922.7 L491.9,923.8 L493.0,924.9 L494.2,926.0 L495.4,927.0 L496.5,928.1 L497.7,929.2 L498.8,930.2 L500.0,931.3 L501.2,932.3 L502.3,933.3 L503.5,934.3 L504.6,935.4 L505.8,936.4 L506.9,937.4 L508.1,938.3 L509.3,939.3 L510.4,940.3 L511.6,941.3 L512.7,942.2 L513.9,943.2 L515.0,944.1 L516.2,945.0 L517.4,946.0 L518.5,946.9 L519.7,947.8 L520.8,948.7 L522.0,949.6 L523.2,950.5 L524.3,951.4 L525.5,952.2 L526.6,953.1 L527.8,954.0 L528.9,954.8 L530.1,955.7 L531.3,956.5 L532.4,957.4 L533.6,958.2 L534.7,959.0 L535.9,959.8 L537.1,960.6 L538.2,961.4 L539.4,962.2 L540.5,963.0 L541.7,963.8 L542.8,964.6 L544.0,965.4 L545.2,966.2 L546.3,966.9 L547.5,967.7 L548.6,968.4 L549.8,969.2 L551.0,969.9 L552.1,970.6 L553.3,971.4 L554.4,972.1 L555.6,972.8 L556.7,973.5 L557.9,974.2 L559.1,974.9 L560.2,975.6 L561.4,976.3 L562.5,977.0 L563.7,977.6 L564.9,978.3 L566.0,979.0 L567.2,979.6 L568.3,980.3 L569.5,980.9 L570.6,981.6 L571.8,982.2 L573.0,982.8 L574.1,983.5 L575.3,984.1 L576.4,984.7 L577.6,985.3 L578.8,985.9 L579.9,986.5 L581.1,987.1 L582.2,987.7 L583.4,988.2 L584.5,988.8 L585.7,989.4 L586.9,990.0 L588.0,990.5 L589.2,991.1 L590.3,991.6 L591.5,992.2 L592.7,992.7 L593.8,993.2 L595.0,993.8 L596.1,994.3 L597.3,994.8 L598.4,995.3 L599.6,995.8 L600.8,996.4 L601.9,996.9 L603.1,997.3 L604.2,997.8 L605.4,998.3 L606.5,998.8 L607.7,999.3 L608.9,999.8 L610.0,1000.2 L611.2,1000.7 L612.3,1001.2 L613.5,1001.6 L614.7,1002.1 L615.8,1002.5 L617.0,1003.0 L618.1,1003.4 L619.3,1003.8 L620.4,1004.3 L621.6,1004.7 L622.8,1005.1 L623.9,1005.5 L625.1,1005.9 L626.2,1006.4 L627.4,1006.8 L628.6,1007.2 L629.7,1007.6 L630.9,1008.0 L632.0,1008.4 L633.2,1008.8 L634.3,1009.2 L635.5,1009.5 L636.7,1009.9 L637.8,1010.3 L639.0,1010.7 L640.1,1011.0 L641.3,1011.4 L642.5,1011.8 L643.6,1012.1 L644.8,1012.5 L645.9,1012.8 L647.1,1013.2 L648.2,1013.5 L649.4,1013.9 L650.6,1014.2 L651.7,1014.6 L652.9,1014.9 L654.0,1015.2 L655.2,1015.6 L656.4,1015.9 L657.5,1016.2 L658.7,1016.5 L659.8,1016.9 L661.0,1017.2 L662.1,1017.5 L663.3,1017.8 L664.5,1018.1 L665.6,1018.4 L666.8,1018.7 L667.9,1019.0 L669.1,1019.3 L670.3,1019.6 L671.4,1019.9 L672.6,1020.2 L673.7,1020.5 L674.9,1020.8 L676.0,1021.0 L677.2,1021.3 L678.4,1021.6 L679.5,1021.9 L680.7,1022.1 L681.8,1022.4 L683.0,1022.7 L684.1,1022.9 L685.3,1023.2 L686.5,1023.5 L687.6,1023.7 L688.8,1024.0 L689.9,1024.2 L691.1,1024.5 L692.3,1024.7 L693.4,1025.0 L694.6,1025.2 L695.7,1025.5 L696.9,1025.7 L698.0,1025.9 L699.2,1026.2 L700.4,1026.4 L701.5,1026.6 L702.7,1026.9 L703.8,1027.1 L705.0,1027.3 L706.2,1027.6 L707.3,1027.8 L708.5,1028.0 L709.6,1028.2 L710.8,1028.4 L711.9,1028.6 L713.1,1028.9 L714.3,1029.1 L715.4,1029.3 L716.6,1029.5 L717.7,1029.7 L718.9,1029.9 L720.1,1030.1 L721.2,1030.3 L722.4,1030.5 L723.5,1030.7 L724.7,1030.9 L725.8,1031.1 L727.0,1031.2 L728.2,1031.4 L729.3,1031.6 L730.5,1031.8 L731.6,1032.0 L732.8,1032.2 L734.0,1032.4 L735.1,1032.5 L736.3,1032.7 L737.4,1032.9 L738.6,1033.1 L739.7,1033.2 L740.9,1033.4 L742.1,1033.6 L743.2,1033.7 L744.4,1033.9 L745.5,1034.1 L746.7,1034.2 L747.9,1034.4 L749.0,1034.6 L750.2,1034.7 L751.3,1034.9 L752.5,1035.0 L753.6,1035.2 L754.8,1035.3 L756.0,1035.5 L757.1,1035.6 L758.3,1035.8 L759.4,1035.9 L760.6,1036.1 L761.8,1036.2 L762.9,1036.4 L764.1,1036.5 L765.2,1036.7 L766.4,1036.8 L767.5,1036.9 L768.7,1037.1 L769.9,1037.2 L771.0,1037.4 L772.2,1037.5 L773.3,1037.6 L774.5,1037.8 L775.6,1037.9 L776.8,1038.0 L778.0,1038.1 L779.1,1038.3 L780.3,1038.4 L781.4,1038.5 L782.6,1038.6 L783.8,1038.8 L784.9,1038.9 L786.1,1039.0 L787.2,1039.1 L788.4,1039.2 L789.5,1039.4 L790.7,1039.5 L791.9,1039.6 L793.0,1039.7 L794.2,1039.8 L795.3,1039.9 L796.5,1040.0 L797.7,1040.2 L798.8,1040.3 L800.0,1040.4 L801.1,1040.5 L802.3,1040.6 L803.4,1040.7 L804.6,1040.8 L805.8,1040.9 L806.9,1041.0 L808.1,1041.1 L809.2,1041.2 L810.4,1041.3 L811.6,1041.4 L812.7,1041.5 L813.9,1041.6 L815.0,1041.7 L816.2,1041.8 L817.3,1041.9 L818.5,1042.0 L819.7,1042.1 L820.8,1042.2 L822.0,1042.3 L823.1,1042.4 L824.3,1042.4 L825.5,1042.5 L826.6,1042.6 L827.8,1042.7 L828.9,1042.8 L830.1,1042.9 L831.2,1043.0 L832.4,1043.1 L833.6,1043.1 L834.7,1043.2 L835.9,1043.3 L837.0,1043.4 L838.2,1043.5 L839.4,1043.5 L840.5,1043.6 L841.7,1043.7 L842.8,1043.8 L844.0,1043.9 L845.1,1043.9 L846.3,1044.0 L847.5,1044.1 L848.6,1044.2 L849.8,1044.2 L850.9,1044.3 L852.1,1044.4 L853.3,1044.5 L854.4,1044.5 L855.6,1044.6 L856.7,1044.7 L857.9,1044.7 L859.0,1044.8 L860.2,1044.9 L861.4,1044.9 L862.5,1045.0 L863.7,1045.1 L864.8,1045.1 L866.0,1045.2 L867.1,1045.3 L868.3,1045.3 L869.5,1045.4 L870.6,1045.5 L871.8,1045.5 L872.9,1045.6 L874.1,1045.6 L875.3,1045.7 L876.4,1045.8 L877.6,1045.8 L878.7,1045.9 L879.9,1045.9 L881.0,1046.0 L882.2,1046.1 L883.4,1046.1 L884.5,1046.2 L885.7,1046.2 L886.8,1046.3 L888.0,1046.3 L889.2,1046.4 L890.3,1046.5 L891.5,1046.5 L892.6,1046.6 L893.8,1046.6 L894.9,1046.7 L896.1,1046.7 L897.3,1046.8 L898.4,1046.8 L899.6,1046.9 L900.7,1046.9 L901.9,1047.0 L903.1,1047.0 L904.2,1047.1 L905.4,1047.1 L906.5,1047.2 L907.7,1047.2 L908.8,1047.3 L910.0,1047.3 L911.2,1047.3 L912.3,1047.4 L913.5,1047.4 L914.6,1047.5 L915.8,1047.5 L917.0,1047.6 L918.1,1047.6 L919.3,1047.7 L920.4,1047.7 L921.6,1047.7 L922.7,1047.8 L923.9,1047.8 L925.1,1047.9 L926.2,1047.9 L927.4,1048.0 L928.5,1048.0 L929.7,1048.0 L930.9,1048.1 L932.0,1048.1 L933.2,1048.1 L934.3,1048.2 L935.5,1048.2 L936.6,1048.3 L937.8,1048.3 L939.0,1048.3 L940.1,1048.4 L941.3,1048.4 L942.4,1048.4 L943.6,1048.5 L944.8,1048.5 L945.9,1048.6 L947.1,1048.6 L948.2,1048.6 L949.4,1048.7 L950.5,1048.7 L951.7,1048.7 L952.9,1048.8 L954.0,1048.8 L955.2,1048.8 L956.3,1048.9 L957.5,1048.9 L958.6,1048.9 L959.8,1049.0 L961.0,1049.0 L962.1,1049.0 L963.3,1049.0 L964.4,1049.1 L965.6,1049.1 L966.8,1049.1 L967.9,1049.2 L969.1,1049.2 L970.2,1049.2 L971.4,1049.3 L972.5,1049.3 L973.7,1049.3 L974.9,1049.3 L976.0,1049.4 L977.2,1049.4 L978.3,1049.4 L979.5,1049.5 L980.7,1049.5 L981.8,1049.5 L983.0,1049.5 L984.1,1049.6 L985.3,1049.6 L986.4,1049.6 L987.6,1049.6 L988.8,1049.7 L989.9,1049.7 L990.5,1049.7" stroke="#d00000"/>
<path d="M64.5,12.5 L65.1,13.7 L65.7,14.9 L66.2,16.1 L66.8,17.4 L67.4,18.6 L68.0,19.8 L68.6,21.0 L69.1,22.3 L69.7,23.5 L70.3,24.8 L70.9,26.0 L71.4,27.3 L72.0,28.5 L72.6,29.8 L73.2,31.0 L73.8,32.3 L74.3,33.5 L74.9,34.8 L75.5,36.1 L76.1,37.4 L76.7,38.6 L77.2,39.9 L77.8,41.2 L78.4,42.5 L79.0,43.8 L79.6,45.1 L80.1,46.4 L80.7,47.7 L81.3,48.9 L81.9,50.3 L82.5,51.6 L83.0,52.9 L83.6,54.2 L84.2,55.5 L84.8,56.8 L85.3,58.1 L85.9,59.4 L86.5,60.7 L87.1,62.1 L87.7,63.4 L88.2,64.7 L88.8,66.0 L89.4,67.4 L90.0,68.7 L90.6,70.0 L91.1,71.3 L91.7,72.7 L92.3,74.0 L92.9,75.4 L93.5,76.7 L94.0,78.0 L94.6,79.4 L95.2,80.7 L95.8,82.1 L96.4,83.4 L96.9,84.7 L97.5,86.1 L98.1,87.4 L98.7,88.8 L99.2,90.1 L99.8,91.5 L100.4,92.8 L101.0,94.2 L101.6,95.6 L102.1,96.9 L102.7,98.3 L103.3,99.6 L103.9,101.0 L104.5,102.3 L105.0,103.7 L105.6,105.0 L106.2,106.4 L106.8,107.8 L107.4,109.1 L107.9,110.5 L108.5,111.8 L109.1,113.2 L109.7,114.6 L110.2,115.9 L110.8,117.3 L111.4,118.6 L112.0,120.0 L112.6,121.4 L113.1,122.8 L113.7,124.2 L114.3,125.6 L114.9,127.0 L115.5,128.4 L116.0,129.8 L116.6,131.3 L117.2,132.7 L117.8,134.1 L118.4,135.6 L118.9,137.0 L119.5,138.4 L120.1,139.9 L120.7,141.3 L121.3,142.8 L121.8,144.2 L122.4,145.7 L123.0,147.1 L123.6,148.6 L124.1,150.0 L124.7,151.5 L125.3,152.9 L125.9,154.4 L126.5,155.8 L127.0,157.2 L127.6,158.7 L128.2,160.1 L128.8,161.6 L129.4,163.0 L129.9,164.4 L130.5,165.9 L131.1,167.3 L131.7,168.7 L132.3,170.1 L132.8,171.5 L133.4,172.9 L134.0,174.3 L134.6,175.7 L135.2,177.1 L135.7,178.5 L136.3,179.9 L136.9,181.3 L137.5,182.7 L138.0,184.0 L138.6,185.4 L139.2,186.8 L139.8,188.2 L140.4,189.6 L140.9,191.0 L141.5,192.3 L142.1,193.7 L142.7,195.1 L143.3,196.5 L143.8,197.9 L144.4,199.3 L145.0,200.7 L145.6,202.1 L146.2,203.5 L146.7,204.9 L147.3,206.3 L147.9,207.7 L148.5,209.1 L149.1,210.5 L149.6,211.9 L150.2,213.3 L150.8,214.8 L151.4,216.2 L151.9,217.6 L152.5,219.1 L153.1,220.5 L153.7,222.0 L154.3,223.4 L154.8,224.9 L155.4,226.4 L156.0,227.9 L156.6,229.4 L157.2,230.9 L157.7,232.4 L158.3,234.0 L158.9,235.5 L159.5,237.0 L160.1,238.6 L160.6,240.1 L161.2,241.6 L161.8,243.2 L162.4,244.7 L162.9,246.3 L163.5,247.8 L164.1,249.3 L164.7,250.9 L165.3,252.4 L165.8,253.9 L166.4,255.5 L167.0,257.0 L167.6,258.5 L168.2,260.0 L168.7,261.5 L169.3,263.0 L169.9,264.5 L170.5,266.0 L171.1,267.4 L171.6,268.9 L172.2,270.3 L172.8,271.7 L173.4,273.2 L174.0,274.6 L174.5,276.0 L175.1,277.4 L175.7,278.7 L176.3,280.1 L176.8,281.5 L177.4,282.8 L178.0,284.2 L178.6,285.5 L179.2,286.8 L179.7,288.2 L180.3,289.5 L180.9,290.8 L181.5,292.1 L182.1,293.4 L182.6,294.7 L183.2,296.0 L183.8,297.3 L184.4,298.6 L185.0,299.9 L185.5,301.2 L186.1,302.5 L186.7,303.8 L187.3,305.1 L187.9,306.4 L188.4,307.7 L189.0,309.1 L189.6,310.4 L190.2,311.7 L190.7,313.0 L191.3,314.3 L191.9,315.6 L192.5,317.0 L193.1,318.3 L193.6,319.7 L194.2,321.0 L194.8,322.4 L195.4,323.7 L196.0,325.1 L196.5,326.5 L197.1,327.9 L197.7,329.2 L198.3,330.6 L198.9,332.0 L199.4,333.4 L200.0,334.8 L200.6,336.2 L201.2,337.6 L201.7,338.9 L202.3,340.3 L202.9,341.7 L203.5,343.1 L204.1,344.5 L204.6,345.9 L205.2,347.3 L205.8,348.7 L206.4,350.1 L207.0,351.5 L207.5,352.9 L208.1,354.3 L208.7,355.7 L209.3,357.1 L209.9,358.5 L210.4,359.9 L211.0,361.3 L211.6,362.7 L212.2,364.1 L212.8,365.5 L213.3,366.9 L213.9,368.3 L214.5,369.7 L215.1,371.1 L215.6,372.5 L216.2,373.9 L216.8,375.3 L217.4,376.7 L218.0,378.2 L218.5,379.6 L219.1,381.0 L219.7,382.4 L220.3,383.8 L220.9,385.2 L221.4,386.6 L222.0,388.0 L222.6,389.4 L223.2,390.8 L223.8,392.1 L224.3,393.5 L224.9,394.9 L225.5,396.3 L226.1,397.7 L226.7,399.1 L227.2,400.5 L227.8,401.9 L228.4,403.3 L229.0,404.7 L229.5,406.1 L230.1,407.5 L230.7,408.8 L231.3,410.2 L231.9,411.6 L232.4,413.0 L233.0,414.4 L233.6,415.7 L234.2,417.1 L234.8,418.5 L235.3,419.9 L235.9,421.2 L236.5,422.6 L237.1,424.0 L237.7,425.3 L238.2,426.7 L238.8,428.1 L239.4,429.4 L240.0,430.8 L240.6,432.1 L241.1,433.5 L241.7,434.8 L242.3,436.2 L242.9,437.5 L243.4,438.9 L244.0,440.2 L244.6,441.6 L245.2,442.9 L245.8,444.2 L246.3,445.6 L246.9,446.9 L247.5,448.2 L248.1,449.6 L248.7,450.9 L249.2,452.2 L249.8,453.6 L250.4,454.9 L251.0,456.2 L251.6,457.5 L252.1,458.9 L252.7,460.2 L253.3,461.5 L253.9,462.8 L254.4,464.1 L255.0,465.4 L255.6,466.8 L256.2,468.1 L256.8,469.4 L257.3,470.7 L257.9,472.0 L258.5,473.3 L259.1,474.6 L259.7,476.0 L260.2,477.3 L260.8,478.6 L261.4,479.9 L262.0,481.2 L262.6,482.5 L263.1,483.8 L263.7,485.1 L264.3,486.4 L264.9,487.7 L265.5,489.1 L266.0,490.4 L266.6,491.7 L267.2,493.0 L267.8,494.3 L268.3,495.6 L268.9,496.9 L269.5,498.2 L270.1,499.5 L270.7,500.8 L271.2,502.1 L271.8,503.5 L272.4,504.8 L273.0,506.1 L273.6,507.4 L274.1,508.7 L274.7,510.0 L275.3,511.3 L275.9,512.6 L276.5,513.9 L277.0,515.3 L277.6,516.6 L278.2,517.9 L278.8,519.2 L279.4,520.5 L279.9,521.8 L280.5,523.2 L281.1,524.5 L281.7,525.8 L282.2,527.1 L282.8,528.4 L283.4,529.8 L284.0,531.1 L284.6,532.4 L285.1,533.7 L285.7,535.1 L286.3,536.4 L286.9,537.7 L287.5,539.1 L288.0,540.4 L288.6,541.7 L289.2,543.1 L289.8,544.4 L290.4,545.7 L290.9,547.1 L291.5,548.4 L292.1,549.7 L292.7,551.1 L293.2,552.4 L293.8,553.8 L294.4,555.1 L295.0,556.5 L295.6,557.8 L296.1,559.1 L296.7,560.5 L297.3,561.8 L297.9,563.2 L298.5,564.5 L299.0,565.8 L299.6,567.2 L300.2,568.5 L300.8,569.9 L301.4,571.2 L301.9,572.6 L302.5,573.9 L303.1,575.2 L303.7,576.6 L304.3,577.9 L304.8,579.3 L305.4,580.6 L306.0,581.9 L306.6,583.3 L307.1,584.6 L307.7,585.9 L308.3,587.3 L308.9,588.6 L309.5,589.9 L310.0,591.3 L310.6,592.6 L311.2,593.9 L311.8,595.2 L312.4,596.6 L312.9,597.9 L313.5,599.2 L314.1,600.5 L314.7,601.9 L315.3,603.2 L315.8,604.5 L316.4,605.8 L317.0,607.1 L317.6,608.4 L318.2,609.7 L318.7,611.1 L319.3,612.4 L319.9,613.7 L320.5,615.0 L321.0,616.3 L321.6,617.6 L322.2,618.9 L322.8,620.1 L323.4,621.4 L323.9,622.7 L324.5,624.0 L325.1,625.3 L325.7,626.6 L326.3,627.9 L326.8,629.1 L327.4,630.4 L328.0,631.7 L328.6,633.0 L329.2,634.2 L329.7,635.5 L330.3,636.7 L330.9,638.0 L331.5,639.3 L332.0,640.5 L332.6,641.8 L333.2,643.0 L333.8,644.3 L334.4,645.5 L334.9,646.8 L335.5,648.1 L336.1,649.3 L336.7,650.6 L337.3,651.8 L337.8,653.0 L338.4,654.3 L339.0,655.5 L339.6,656.8 L340.2,658.0 L340.7,659.3 L341.3,660.5 L341.9,661.7 L342.5,663.0 L343.1,664.2 L343.6,665.4 L344.2,666.7 L344.8,667.9 L345.4,669.1 L345.9,670.3 L346.5,671.6 L347.1,672.8 L347.7,674.0 L348.3,675.2 L348.8,676.4 L349.4,677.7 L350.0,678.9 L350.6,680.1 L351.2,681.3 L351.7,682.5 L352.3,683.7 L352.9,684.9 L353.5,686.1 L354.1,687.3 L354.6,688.5 L355.2,689.7 L355.8,690.9 L356.4,692.1 L357.0,693.2 L357.5,694.4 L358.1,695.6 L358.7,696.8 L359.3,698.0 L359.8,699.1 L360.4,700.3 L361.0,701.5 L361.6,702.6 L362.2,703.8 L362.7,705.0 L363.3,706.1 L363.9,707.3 L364.5,708.4 L365.1,709.6 L365.6,710.7 L366.2,711.9 L366.8,713.0 L367.4,714.1 L368.0,715.3 L368.5,716.4 L369.1,717.5 L369.7,718.7 L370.3,719.8 L370.9,720.9 L371.4,722.0 L372.0,723.2 L372.6,724.3 L373.2,725.4 L373.7,726.5 L374.3,727.6 L374.9,728.7 L375.5,729.8 L376.1,730.9 L376.6,732.0 L377.2,733.1 L377.8,734.2 L378.4,735.3 L379.0,736.3 L379.5,737.4 L380.1,738.5 L380.7,739.6 L381.3,740.6 L381.9,741.7 L382.4,742.8 L383.0,743.8 L383.6,744.9 L384.2,745.9 L384.7,747.0 L385.3,748.0 L385.9,749.1 L386.5,750.1 L387.1,751.2 L387.6,752.2 L388.2,753.2 L388.8,754.3 L389.4,755.3 L390.0,756.3 L390.5,757.3 L391.1,758.4 L391.7,759.4 L392.3,760.4 L392.9,761.4 L393.4,762.4 L394.0,763.4 L394.6,764.4 L395.2,765.4 L396.3,767.4 L397.5,769.4 L398.6,771.4 L399.8,773.3 L401.0,775.3 L402.1,777.2 L403.3,779.2 L404.4,781.1 L405.6,783.0 L406.8,784.9 L407.9,786.8 L409.1,788.7 L410.2,790.5 L411.4,792.4 L412.5,794.3 L413.7,796.1 L414.9,797.9 L416.0,799.8 L417.2,801.6 L418.3,803.4 L419.5,805.2 L420.7,807.0 L421.8,808.8 L423.0,810.6 L424.1,812.3 L425.3,814.1 L426.4,815.8 L427.6,817.6 L428.8,819.3 L429.9,821.0 L431.1,822.8 L432.2,824.5 L433.4,826.2 L434.6,827.9 L435.7,829.6 L436.9,831.2 L438.0,832.9 L439.2,834.6 L440.3,836.2 L441.5,837.9 L442.7,839.5 L443.8,841.2 L445.0,842.8 L446.1,844.4 L447.3,846.0 L448.5,847.6 L449.6,849.2 L450.8,850.8 L451.9,852.4 L453.1,854.0 L454.2,855.6 L455.4,857.1 L456.6,858.7 L457.7,860.2 L458.9,861.8 L460.0,863.3 L461.2,864.8 L462.3,866.4 L463.5,867.9 L464.7,869.4 L465.8,870.9 L467.0,872.4 L468.1,873.9 L469.3,875.3 L470.5,876.8 L471.6,878.2 L472.8,879.7 L473.9,881.1 L475.1,882.6 L476.2,884.0 L477.4,885.4 L478.6,886.8 L479.7,888.2 L480.9,889.6 L482.0,890.9 L483.2,892.3 L484.4,893.7 L485.5,895.0 L486.7,896.3 L487.8,897.7 L489.0,899.0 L490.1,900.3 L491.3,901.6 L492.5,902.9 L493.6,904.2 L494.8,905.5 L495.9,906.7 L497.1,908.0 L498.3,909.2 L499.4,910.5 L500.6,911.7 L501.7,912.9 L502.9,914.1 L504.0,915.3 L505.2,916.5 L506.4,917.7 L507.5,918.9 L508.7,920.0 L509.8,921.2 L511.0,922.3 L512.2,923.5 L513.3,924.6 L514.5,925.7 L515.6,926.8 L516.8,927.9 L517.9,929.0 L519.1,930.1 L520.3,931.2 L521.4,932.2 L522.6,933.3 L523.7,934.3 L524.9,935.4 L526.1,936.4 L527.2,937.4 L528.4,938.4 L529.5,939.4 L530.7,940.4 L531.8,941.4 L533.0,942.3 L534.2,943.3 L535.3,944.3 L536.5,945.2 L537.6,946.1 L538.8,947.1 L540.0,948.0 L541.1,948.9 L542.3,949.8 L543.4,950.7 L544.6,951.6 L545.7,952.5 L546.9,953.4 L548.1,954.2 L549.2,955.1 L550.4,955.9 L551.5,956.8 L552.7,957.6 L553.8,958.5 L555.0,959.3 L556.2,960.1 L557.3,961.0 L558.5,961.8 L559.6,962.6 L560.8,963.4 L562.0,964.2 L563.1,965.0 L564.3,965.7 L565.4,966.5 L566.6,967.3 L567.7,968.1 L568.9,968.8 L570.1,969.6 L571.2,970.3 L572.4,971.0 L573.5,971.8 L574.7,972.5 L575.9,973.2 L577.0,973.9 L578.2,974.6 L579.3,975.3 L580.5,976.0 L581.6,976.7 L582.8,977.4 L584.0,978.1 L585.1,978.8 L586.3,979.4 L587.4,980.1 L588.6,980.7 L589.8,981.4 L590.9,982.0 L592.1,982.7 L593.2,983.3 L594.4,983.9 L595.5,984.5 L596.7,985.2 L597.9,985.8 L599.0,986.4 L600.2,987.0 L601.3,987.6 L602.5,988.2 L603.7,988.7 L604.8,989.3 L606.0,989.9 L607.1,990.5 L608.3,991.0 L609.4,991.6 L610.6,992.1 L611.8,992.7 L612.9,993.2 L614.1,993.8 L615.2,994.3 L616.4,994.8 L617.6,995.3 L618.7,995.9 L619.9,996.4 L621.0,996.9 L622.2,997.4 L623.3,997.9 L624.5,998.4 L625.7,998.8 L626.8,999.3 L628.0,999.8 L629.1,1000.3 L630.3,1000.8 L631.5,1001.2 L632.6,1001.7 L633.8,1002.1 L634.9,1002.6 L636.1,1003.0 L637.2,1003.5 L638.4,1003.9 L639.6,1004.4 L640.7,1004.8 L641.9,1005.2 L643.0,1005.6 L644.2,1006.1 L645.3,1006.5 L646.5,1006.9 L647.7,1007.3 L648.8,1007.7 L650.0,1008.1 L651.1,1008.5 L652.3,1008.9 L653.5,1009.3 L654.6,1009.7 L655.8,1010.1 L656.9,1010.4 L658.1,1010.8 L659.2,1011.2 L660.4,1011.6 L661.6,1011.9 L662.7,1012.3 L663.9,1012.7 L665.0,1013.0 L666.2,1013.4 L667.4,1013.7 L668.5,1014.1 L669.7,1014.4 L670.8,1014.8 L672.0,1015.1 L673.1,1015.4 L674.3,1015.8 L675.5,1016.1 L676.6,1016.4 L677.8,1016.7 L678.9,1017.1 L680.1,1017.4 L681.3,1017.7 L682.4,1018.0 L683.6,1018.3 L684.7,1018.6 L685.9,1018.9 L687.0,1019.2 L688.2,1019.5 L689.4,1019.8 L690.5,1020.1 L691.7,1020.4 L692.8,1020.7 L694.0,1021.0 L695.2,1021.3 L696.3,1021.5 L697.5,1021.8 L698.6,1022.1 L699.8,1022.4 L700.9,1022.6 L702.1,1022.9 L703.3,1023.2 L704.4,1023.4 L705.6,1023.7 L706.7,1024.0 L707.9,1024.2 L709.1,1024.5 L710.2,1024.7 L711.4,1025.0 L712.5,1025.2 L713.7,1025.5 L714.8,1025.7 L716.0,1025.9 L717.2,1026.2 L718.3,1026.4 L719.5,1026.7 L720.6,1026.9 L721.8,1027.1 L723.0,1027.3 L724.1,1027.6 L725.3,1027.8 L726.4,1028.0 L727.6,1028.2 L728.7,1028.5 L729.9,1028.7 L731.1,1028.9 L732.2,1029.1 L733.4,1029.3 L734.5,1029.5 L735.7,1029.7 L736.8,1029.9 L738.0,1030.1 L739.2,1030.3 L740.3,1030.5 L741.5,1030.7 L742.6,1030.9 L743.8,1031.1 L745.0,1031.3 L746.1,1031.5 L747.3,1031.7 L748.4,1031.9 L749.6,1032.1 L750.7,1032.2 L751.9,1032.4 L753.1,1032.6 L754.2,1032.8 L755.4,1033.0 L756.5,1033.1 L757.7,1033.3 L758.9,1033.5 L760.0,1033.6 L761.2,1033.8 L762.3,1034.0 L763.5,1034.2 L764.6,1034.3 L765.8,1034.5 L767.0,1034.6 L768.1,1034.8 L769.3,1035.0 L770.4,1035.1 L771.6,1035.3 L772.8,1035.4 L773.9,1035.6 L775.1,1035.7 L776.2,1035.9 L777.4,1036.0 L778.5,1036.2 L779.7,1036.3 L780.9,1036.5 L782.0,1036.6 L783.2,1036.8 L784.3,1036.9 L785.5,1037.0 L786.7,1037.2 L787.8,1037.3 L789.0,1037.5 L790.1,1037.6 L791.3,1037.7 L792.4,1037.9 L793.6,1038.0 L794.8,1038.1 L795.9,1038.2 L797.1,1038.4 L798.2,1038.5 L799.4,1038.6 L800.6,1038.7 L801.7,1038.9 L802.9,1039.0 L804.0,1039.1 L805.2,1039.2 L806.3,1039.4 L807.5,1039.5 L808.7,1039.6 L809.8,1039.7 L811.0,1039.8 L812.1,1039.9 L813.3,1040.0 L814.4,1040.2 L815.6,1040.3 L816.8,1040.4 L817.9,1040.5 L819.1,1040.6 L820.2,1040.7 L821.4,1040.8 L822.6,1040.9 L823.7,1041.0 L824.9,1041.1 L826.0,1041.2 L827.2,1041.3 L828.3,1041.4 L829.5,1041.5 L830.7,1041.6 L831.8,1041.7 L833.0,1041.8 L834.1,1041.9 L835.3,1042.0 L836.5,1042.1 L837.6,1042.2 L838.8,1042.3 L839.9,1042.4 L841.1,1042.5 L842.2,1042.6 L843.4,1042.6 L844.6,1042.7 L845.7,1042.8 L846.9,1042.9 L848.0,1043.0 L849.2,1043.1 L850.4,1043.2 L851.5,1043.3 L852.7,1043.3 L853.8,1043.4 L855.0,1043.5 L856.1,1043.6 L857.3,1043.7 L858.5,1043.7 L859.6,1043.8 L860.8,1043.9 L861.9,1044.0 L863.1,1044.0 L864.3,1044.1 L865.4,1044.2 L866.6,1044.3 L867.7,1044.3 L868.9,1044.4 L870.0,1044.5 L871.2,1044.6 L872.4,1044.6 L873.5,1044.7 L874.7,1044.8 L875.8,1044.8 L877.0,1044.9 L878.2,1045.0 L879.3,1045.1 L880.5,1045.1 L881.6,1045.2 L882.8,1045.2 L883.9,1045.3 L885.1,1045.4 L886.3,1045.4 L887.4,1045.5 L888.6,1045.6 L889.7,1045.6 L890.9,1045.7 L892.1,1045.8 L893.2,1045.8 L894.4,1045.9 L895.5,1045.9 L896.7,1046.0 L897.8,1046.1 L899.0,1046.1 L900.2,1046.2 L901.3,1046.2 L902.5,1046.3 L903.6,1046.3 L904.8,1046.4 L905.9,1046.4 L907.1,1046.5 L908.3,1046.6 L909.4,1046.6 L910.6,1046.7 L911.7,1046.7 L912.9,1046.8 L914.1,1046.8 L915.2,1046.9 L916.4,1046.9 L917.5,1047.0 L918.7,1047.0 L919.8,1047.1 L921.0,1047.1 L922.2,1047.2 L923.3,1047.2 L924.5,1047.3 L925.6,1047.3 L926.8,1047.4 L928.0,1047.4 L929.1,1047.4 L930.3,1047.5 L931.4,1047.5 L932.6,1047.6 L933.7,1047.6 L934.9,1047.7 L936.1,1047.7 L937.2,1047.8 L938.4,1047.8 L939.5,1047.8 L940.7,1047.9 L941.9,1047.9 L943.0,1048.0 L944.2,1048.0 L945.3,1048.0 L946.5,1048.1 L947.6,1048.1 L948.8,1048.2 L950.0,1048.2 L951.1,1048.2 L952.3,1048.3 L953.4,1048.3 L954.6,1048.4 L955.8,1048.4 L956.9,1048.4 L958.1,1048.5 L959.2,1048.5 L960.4,1048.5 L961.5,1048.6 L962.7,1048.6 L963.9,1048.6 L965.0,1048.7 L966.2,1048.7 L967.3,1048.7 L968.5,1048.8 L969.7,1048.8 L970.8,1048.8 L972.0,1048.9 L973.1,1048.9 L974.3,1048.9 L975.4,1049.0 L976.6,1049.0 L977.8,1049.0 L978.9,1049.1 L980.1,1049.1 L981.2,1049.1 L982.4,1049.2 L983.6,1049.2 L984.7,1049.2 L985.9,1049.2 L987.0,1049.3 L988.2,1049.3 L989.3,1049.3 L990.5,1049.4" stroke="#d00000"/>
<path d="M64.5,12.5 L65.1,14.0 L65.7,15.5 L66.2,17.0 L66.8,18.5 L67.4,20.0 L68.0,21.6 L68.6,23.1 L69.1,24.6 L69.7,26.1 L70.3,27.6 L70.9,29.1 L71.4,30.7 L72.0,32.2 L72.6,33.7 M74.9,39.8 L75.5,41.3 L76.1,42.8 L76.7,44.4 L77.2,45.9 M80.1,53.5 L80.7,55.1 L81.3,56.6 L81.9,58.1 L82.5,59.7 L83.0,61.2 L83.6,62.7 L84.2,64.3 L84.8,65.8 L85.3,67.3 L85.9,68.8 L86.5,70.4 L87.1,71.9 L87.7,73.4 L88.2,75.0 M90.6,81.1 L91.1,82.6 L91.7,84.2 L92.3,85.7 L92.9,87.2 M95.8,94.9 L96.4,96.4 L96.9,97.9 L97.5,99.4 L98.1,101.0 L98.7,102.5 L99.2,104.0 L99.8,105.5 L100.4,107.1 L101.0,108.6 L101.6,110.1 L102.1,111.6 L102.7,113.1 L103.3,114.7 L103.9,116.2 M106.8,123.8 L107.4,125.4 L107.9,126.9 L108.5,128.4 M111.4,136.2 L112.0,137.7 L112.6,139.3 L113.1,140.8 L113.7,142.4 L114.3,143.9 L114.9,145.5 L115.5,147.0 L116.0,148.6 L116.6,150.1 L117.2,151.7 L117.8,153.2 L118.4,154.8 L118.9,156.3 L119.5,157.8 M121.8,163.9 L122.4,165.4 L123.0,166.9 L123.6,168.4 L124.1,169.9 M127.0,177.2 L127.6,178.7 L128.2,180.1 L128.8,181.5 L129.4,183.0 L129.9,184.4 L130.5,185.8 L131.1,187.2 L131.7,188.6 L132.3,190.1 L132.8,191.5 L133.4,192.9 L134.0,194.3 L134.6,195.7 L135.2,197.2 L135.7,198.6 M138.6,205.8 L139.2,207.2 L139.8,208.7 L140.4,210.2 L140.9,211.7 M143.8,219.3 L144.4,220.8 L145.0,222.4 L145.6,224.0 L146.2,225.6 L146.7,227.2 L147.3,228.8 L147.9,230.5 L148.5,232.2 L149.1,233.8 L149.6,235.5 L150.2,237.2 L150.8,238.9 L151.4,240.6 M153.7,247.5 L154.3,249.2 L154.8,250.9 L155.4,252.6 M157.7,259.5 L158.3,261.2 L158.9,262.8 L159.5,264.5 L160.1,266.2 L160.6,267.8 L161.2,269.5 L161.8,271.1 L162.4,272.7 L162.9,274.3 L163.5,275.9 L164.1,277.5 L164.7,279.0 L165.3,280.6 L165.8,282.1 M168.2,288.3 L168.7,289.8 L169.3,291.3 L169.9,292.9 L170.5,294.4 M173.4,301.9 L174.0,303.4 L174.5,304.9 L175.1,306.4 L175.7,307.9 L176.3,309.4 L176.8,310.9 L177.4,312.5 L178.0,314.0 L178.6,315.5 L179.2,317.0 L179.7,318.5 L180.3,320.1 L180.9,321.6 L181.5,323.1 M184.4,330.8 L185.0,332.4 L185.5,333.9 L186.1,335.4 M189.0,343.1 L189.6,344.7 L190.2,346.2 L190.7,347.7 L191.3,349.3 L191.9,350.8 L192.5,352.3 L193.1,353.9 L193.6,355.4 L194.2,356.9 L194.8,358.4 L195.4,360.0 L196.0,361.5 L196.5,363.0 L197.1,364.5 M200.0,372.2 L200.6,373.7 L201.2,375.2 L201.7,376.7 M204.6,384.3 L205.2,385.8 L205.8,387.3 L206.4,388.8 L207.0,390.3 L207.5,391.9 L208.1,393.4 L208.7,394.9 L209.3,396.4 L209.9,397.9 L210.4,399.4 L211.0,400.9 L211.6,402.4 L212.2,403.9 L212.8,405.4 M215.6,412.9 L216.2,414.4 L216.8,415.9 L217.4,417.4 L218.0,418.9 M220.9,426.3 L221.4,427.8 L222.0,429.3 L222.6,430.8 L223.2,432.3 L223.8,433.8 L224.3,435.3 L224.9,436.7 L225.5,438.2 L226.1,439.7 L226.7,441.2 L227.2,442.7 L227.8,444.1 L228.4,445.6 L229.0,447.1 M231.9,454.5 L232.4,455.9 L233.0,457.4 L233.6,458.9 L234.2,460.3 M237.1,467.7 L237.7,469.1 L238.2,470.6 L238.8,472.1 L239.4,473.5 L240.0,475.0 L240.6,476.4 L241.1,477.9 L241.7,479.3 L242.3,480.8 L242.9,482.2 L243.4,483.7 L244.0,485.1 L244.6,486.6 L245.2,488.0 M248.1,495.2 L248.7,496.7 L249.2,498.1 L249.8,499.5 L250.4,501.0 M253.3,508.1 L253.9,509.5 L254.4,511.0 L255.0,512.4 L255.6,513.8 L256.2,515.2 L256.8,516.6 L257.3,518.0 L257.9,519.5 L258.5,520.9 L259.1,522.3 L259.7,523.7 L260.2,525.1 L260.8,526.5 L261.4,527.9 L262.0,529.3 M265.5,537.7 L266.0,539.1 L266.6,540.4 L267.2,541.8 L267.8,543.2 M270.7,550.1 L271.2,551.4 L271.8,552.8 L272.4,554.2 L273.0,555.5 L273.6,556.9 L274.1,558.2 L274.7,559.6 L275.3,560.9 L275.9,562.3 L276.5,563.6 L277.0,565.0 L277.6,566.3 L278.2,567.7 L278.8,569.0 L279.4,570.4 L279.9,571.7 M282.8,578.4 L283.4,579.7 L284.0,581.0 L284.6,582.4 L285.1,583.7 M288.6,591.6 L289.2,593.0 L289.8,594.3 L290.4,595.6 L290.9,596.9 L291.5,598.2 L292.1,599.5 L292.7,600.9 L293.2,602.2 L293.8,603.5 L294.4,604.8 L295.0,606.1 L295.6,607.4 L296.1,608.7 L296.7,610.0 L297.3,611.3 L297.9,612.6 M301.4,620.5 L301.9,621.8 L302.5,623.1 L303.1,624.4 L303.7,625.7 M307.1,633.5 L307.7,634.8 L308.3,636.1 L308.9,637.4 L309.5,638.7 L310.0,640.0 L310.6,641.3 L311.2,642.6 L311.8,643.9 L312.4,645.2 L312.9,646.5 L313.5,647.8 L314.1,649.1 L314.7,650.4 L315.3,651.7 L315.8,653.0 L316.4,654.3 M319.9,662.1 L320.5,663.4 L321.0,664.7 L321.6,666.0 L322.2,667.3 M325.1,673.8 L325.7,675.1 L326.3,676.4 L326.8,677.7 L327.4,678.9 L328.0,680.2 L328.6,681.5 L329.2,682.8 L329.7,684.1 L330.3,685.3 L330.9,686.6 L331.5,687.9 L332.0,689.1 L332.6,690.4 L333.2,691.7 L333.8,692.9 L334.4,694.2 L334.9,695.4 M338.4,702.9 L339.0,704.1 L339.6,705.4 L340.2,706.6 L340.7,707.8 M344.8,716.3 L345.4,717.5 L345.9,718.6 L346.5,719.8 L347.1,721.0 L347.7,722.2 L348.3,723.4 L348.8,724.5 L349.4,725.7 L350.0,726.8 L350.6,728.0 L351.2,729.2 L351.7,730.3 L352.3,731.4 L352.9,732.6 L353.5,733.7 L354.1,734.8 L354.6,736.0 L355.2,737.1 M359.3,744.8 L359.8,745.9 L360.4,746.9 L361.0,748.0 L361.6,749.1 M366.2,757.5 L366.8,758.6 L367.4,759.6 L368.0,760.6 L368.5,761.7 L369.1,762.7 L369.7,763.7 L370.3,764.7 L370.9,765.7 L371.4,766.7 L372.0,767.7 L372.6,768.7 L373.2,769.7 L373.7,770.7 L374.3,771.7 L374.9,772.7 L375.5,773.7 L376.1,774.7 L376.6,775.7 L377.2,776.7 L377.8,777.6 L378.4,778.6 M383.0,786.3 L383.6,787.2 L384.2,788.2 L384.7,789.1 L385.3,790.1 L385.9,791.0 M390.5,798.4 L391.1,799.3 L391.7,800.2 L392.3,801.2 L392.9,802.1 L393.4,803.0 L394.0,803.9 L394.6,804.8 L395.2,805.7 L395.8,806.6 L396.3,807.5 L396.9,808.4 L397.5,809.2 L398.1,810.1 L398.6,811.0 L399.2,811.9 L399.8,812.8 L400.4,813.7 L401.0,814.5 L401.5,815.4 L402.1,816.3 L402.7,817.2 L403.3,818.0 L403.9,818.9 L404.4,819.8 M409.7,827.5 L410.2,828.3 L410.8,829.2 L411.4,830.0 L412.0,830.9 L412.5,831.7 L413.1,832.5 M418.3,840.0 L418.9,840.8 L419.5,841.7 L420.1,842.5 L420.7,843.3 L421.2,844.1 L421.8,844.9 L422.4,845.8 L423.0,846.6 L423.5,847.4 L424.1,848.2 L424.7,849.0 L425.3,849.8 L425.9,850.6 L426.4,851.4 L427.0,852.2 L427.6,853.0 L428.2,853.8 L428.8,854.6 L429.3,855.4 L429.9,856.2 L430.5,857.0 L431.1,857.8 L431.7,858.5 L432.2,859.3 L432.8,860.1 L433.4,860.9 M439.2,868.6 L439.8,869.3 L440.3,870.1 L440.9,870.8 L441.5,871.6 L442.1,872.4 L442.7,873.1 L443.2,873.8 M449.0,881.2 L449.6,881.9 L450.2,882.6 L450.8,883.3 L451.3,884.1 L451.9,884.8 L452.5,885.5 L453.1,886.2 L453.7,886.9 L454.2,887.6 L454.8,888.3 L455.4,889.0 L456.0,889.7 L456.6,890.4 L457.1,891.1 L457.7,891.8 L458.3,892.5 L458.9,893.2 L459.5,893.8 L460.0,894.5 L460.6,895.2 L461.2,895.9 L461.8,896.5 L462.3,897.2 L462.9,897.9 L463.5,898.6 L464.1,899.2 L464.7,899.9 L465.2,900.5 L465.8,901.2 L466.4,901.9 L467.0,902.5 M473.9,910.2 L474.5,910.8 L475.1,911.4 L475.7,912.0 L476.2,912.6 L476.8,913.3 L477.4,913.9 L478.0,914.5 L478.6,915.1 M486.1,922.7 L486.7,923.3 L487.3,923.9 L487.8,924.5 L488.4,925.0 L489.0,925.6 L489.6,926.1 L490.1,926.7 L490.7,927.3 L491.3,927.8 L491.9,928.4 L492.5,928.9 L493.0,929.5 L493.6,930.0 L494.2,930.5 L494.8,931.1 L495.4,931.6 L495.9,932.2 L496.5,932.7 L497.1,933.2 L497.7,933.8 L498.3,934.3 L498.8,934.8 L499.4,935.3 L500.0,935.8 L500.6,936.4 L501.2,936.9 L501.7,937.4 L502.3,937.9 L502.9,938.4 L503.5,938.9 L504.0,939.4 L504.6,939.9 L505.2,940.4 L505.8,940.9 L506.4,941.4 L506.9,941.9 M515.0,948.5 L515.6,949.0 L516.2,949.5 L516.8,949.9 L517.4,950.4 L517.9,950.8 L518.5,951.3 L519.1,951.7 L519.7,952.2 M527.8,958.2 L528.4,958.7 L528.9,959.1 L529.5,959.5 L530.1,959.9 L530.7,960.3 L531.3,960.7 L531.8,961.2 L532.4,961.6 L533.0,962.0 L533.6,962.4 L534.2,962.8 L534.7,963.2 L535.3,963.6 L535.9,964.0 L536.5,964.4 L537.1,964.8 L537.6,965.2 L538.2,965.6 L538.8,966.0 L539.4,966.4 L540.0,966.8 L540.5,967.1 L541.1,967.5 L541.7,967.9 L542.3,968.3 L542.8,968.7 L543.4,969.1 L544.0,969.4 L544.6,969.8 L545.2,970.2 L545.7,970.6 L546.3,970.9 L546.9,971.3 L547.5,971.7 L548.1,972.0 M556.2,977.0 L556.7,977.4 L557.3,977.7 L557.9,978.1 L558.5,978.4 L559.1,978.7 L559.6,979.1 L560.2,979.4 L560.8,979.7 M568.9,984.3 L569.5,984.6 L570.1,984.9 L570.6,985.2 L571.2,985.5 L571.8,985.8 L572.4,986.1 L573.0,986.4 L573.5,986.7 L574.1,987.0 L574.7,987.3 L575.3,987.6 L575.9,987.9 L576.4,988.2 L577.0,988.5 L577.6,988.8 L578.2,989.1 L578.8,989.4 L579.3,989.7 L579.9,990.0 L580.5,990.3 L581.1,990.5 L581.6,990.8 L582.2,991.1 L582.8,991.4 L583.4,991.7 L584.0,991.9 L584.5,992.2 L585.1,992.5 L585.7,992.8 L586.3,993.1 L586.9,993.3 L587.4,993.6 L588.0,993.9 L588.6,994.1 L589.2,994.4 L589.8,994.7 M597.9,998.3 L598.4,998.5 L599.0,998.8 L599.6,999.0 L600.2,999.2 L600.8,999.5 L601.3,999.7 L601.9,1000.0 L602.5,1000.2 M610.6,1003.4 L611.2,1003.7 L611.8,1003.9 L612.3,1004.1 L612.9,1004.3 L613.5,1004.5 L614.1,1004.8 L614.7,1005.0 L615.2,1005.2 L615.8,1005.4 L616.4,1005.6 L617.0,1005.8 L617.6,1006.0 L618.1,1006.3 L618.7,1006.5 L619.3,1006.7 L619.9,1006.9 L620.4,1007.1 L621.0,1007.3 L621.6,1007.5 L622.2,1007.7 L622.8,1007.9 L623.3,1008.1 L623.9,1008.3 L624.5,1008.5 L625.1,1008.7 L625.7,1008.9 L626.2,1009.1 L626.8,1009.3 L627.4,1009.5 L628.0,1009.7 L628.6,1009.9 L629.1,1010.1 L629.7,1010.3 L630.3,1010.5 L630.9,1010.7 M639.0,1013.2 L639.6,1013.4 L640.1,1013.6 L640.7,1013.8 L641.3,1014.0 L641.9,1014.1 L642.5,1014.3 L643.0,1014.5 L643.6,1014.6 M651.7,1017.0 L652.3,1017.1 L652.9,1017.3 L653.5,1017.5 L654.0,1017.6 L654.6,1017.8 L655.2,1017.9 L655.8,1018.1 L656.4,1018.3 L656.9,1018.4 L657.5,1018.6 L658.1,1018.7 L658.7,1018.9 L659.2,1019.0 L659.8,1019.2 L660.4,1019.3 L661.0,1019.5 L661.6,1019.6 L662.1,1019.8 L662.7,1019.9 L663.3,1020.1 L663.9,1020.2 L664.5,1020.4 L665.0,1020.5 L665.6,1020.7 L666.2,1020.8 L666.8,1020.9 L667.4,1021.1 L667.9,1021.2 L668.5,1021.4 L669.1,1021.5 L669.7,1021.7 L670.3,1021.8 L670.8,1021.9 L671.4,1022.1 L672.0,1022.2 L672.6,1022.3 M680.7,1024.2 L681.3,1024.3 L681.8,1024.5 L682.4,1024.6 L683.0,1024.7 L683.6,1024.8 L684.1,1025.0 L684.7,1025.1 L685.3,1025.2 M693.4,1026.9 L694.0,1027.0 L694.6,1027.1 L695.2,1027.3 L695.7,1027.4 L696.3,1027.5 L696.9,1027.6 L697.5,1027.7 L698.0,1027.8 L698.6,1027.9 L699.2,1028.0 L699.8,1028.2 L700.4,1028.3 L700.9,1028.4 L701.5,1028.5 L702.1,1028.6 L702.7,1028.7 L703.3,1028.8 L703.8,1028.9 L704.4,1029.0 L705.0,1029.1 L705.6,1029.2 L706.2,1029.3 L706.7,1029.4 L707.3,1029.6 L707.9,1029.7 L708.5,1029.8 L709.1,1029.9 L709.6,1030.0 L710.2,1030.1 L710.8,1030.2 L711.4,1030.3 L711.9,1030.4 L712.5,1030.5 L713.1,1030.6 L713.7,1030.7 M721.8,1032.0 L722.4,1032.1 L723.0,1032.2 L723.5,1032.3 L724.1,1032.4 L724.7,1032.5 L725.3,1032.6 L725.8,1032.7 L726.4,1032.8 M734.5,1034.0 L735.1,1034.1 L735.7,1034.1 L736.3,1034.2 L736.8,1034.3 L737.4,1034.4 L738.0,1034.5 L738.6,1034.6 L739.2,1034.6 L739.7,1034.7 L740.3,1034.8 L740.9,1034.9 L741.5,1035.0 L742.1,1035.0 L742.6,1035.1 L743.2,1035.2 L743.8,1035.3 L744.4,1035.4 L745.0,1035.4 L745.5,1035.5 L746.1,1035.6 L746.7,1035.7 L747.3,1035.7 L747.9,1035.8 L748.4,1035.9 L749.0,1036.0 L749.6,1036.0 L750.2,1036.1 L750.7,1036.2 L751.3,1036.3 L751.9,1036.3 L752.5,1036.4 L753.1,1036.5 L753.6,1036.6 L754.2,1036.6 L754.8,1036.7 L755.4,1036.8 M763.5,1037.7 L764.1,1037.8 L764.6,1037.9 L765.2,1037.9 L765.8,1038.0 L766.4,1038.1 L767.0,1038.1 L767.5,1038.2 L768.1,1038.3 M776.2,1039.1 L776.8,1039.2 L777.4,1039.3 L778.0,1039.3 L778.5,1039.4 L779.1,1039.4 L779.7,1039.5 L780.3,1039.6 L780.9,1039.6 L781.4,1039.7 L782.0,1039.7 L782.6,1039.8 L783.2,1039.9 L783.8,1039.9 L784.3,1040.0 L784.9,1040.0 L785.5,1040.1 L786.1,1040.1 L786.7,1040.2 L787.2,1040.3 L787.8,1040.3 L788.4,1040.4 L789.0,1040.4 L789.5,1040.5 L790.1,1040.5 L790.7,1040.6 L791.3,1040.6 L791.9,1040.7 L792.4,1040.7 L793.0,1040.8 L793.6,1040.9 L794.2,1040.9 L794.8,1041.0 L795.3,1041.0 L795.9,1041.1 L796.5,1041.1 M804.6,1041.8 L805.2,1041.9 L805.8,1041.9 L806.3,1042.0 L806.9,1042.0 L807.5,1042.1 L808.1,1042.1 L808.7,1042.2 L809.2,1042.2 M817.3,1042.8 L817.9,1042.9 L818.5,1042.9 L819.1,1043.0 L819.7,1043.0 L820.2,1043.1 L820.8,1043.1 L821.4,1043.1 L822.0,1043.2 L822.6,1043.2 L823.1,1043.3 L823.7,1043.3 L824.3,1043.3 L824.9,1043.4 L825.5,1043.4 L826.0,1043.5 L826.6,1043.5 L827.2,1043.6 L827.8,1043.6 L828.3,1043.6 L828.9,1043.7 L829.5,1043.7 L830.1,1043.8 L830.7,1043.8 L831.2,1043.8 L831.8,1043.9 L832.4,1043.9 L833.0,1044.0 L833.6,1044.0 L834.1,1044.0 L834.7,1044.1 L835.3,1044.1 L835.9,1044.1 L836.5,1044.2 L837.0,1044.2 L837.6,1044.3 L838.2,1044.3 M846.3,1044.8 L846.9,1044.8 L847.5,1044.9 L848.0,1044.9 L848.6,1044.9 L849.2,1045.0 L849.8,1045.0 L850.4,1045.0 L850.9,1045.1 M859.0,1045.5 L859.6,1045.6 L860.2,1045.6 L860.8,1045.6 L861.4,1045.7 L861.9,1045.7 L862.5,1045.7 L863.1,1045.8 L863.7,1045.8 L864.3,1045.8 L864.8,1045.8 L865.4,1045.9 L866.0,1045.9 L866.6,1045.9 L867.1,1046.0 L867.7,1046.0 L868.3,1046.0 L868.9,1046.1 L869.5,1046.1 L870.0,1046.1 L870.6,1046.1 L871.2,1046.2 L871.8,1046.2 L872.4,1046.2 L872.9,1046.3 L873.5,1046.3 L874.1,1046.3 L874.7,1046.3 L875.3,1046.4 L875.8,1046.4 L876.4,1046.4 L877.0,1046.5 L877.6,1046.5 L878.2,1046.5 L878.7,1046.5 L879.3,1046.6 M887.4,1046.9 L888.0,1047.0 L888.6,1047.0 L889.2,1047.0 L889.7,1047.0 L890.3,1047.1 L890.9,1047.1 L891.5,1047.1 L892.1,1047.1 M900.2,1047.5 L900.7,1047.5 L901.3,1047.5 L901.9,1047.5 L902.5,1047.5 L903.1,1047.6 L903.6,1047.6 L904.2,1047.6 L904.8,1047.6 L905.4,1047.7 L905.9,1047.7 L906.5,1047.7 L907.1,1047.7 L907.7,1047.7 L908.3,1047.8 L908.8,1047.8 L909.4,1047.8 L910.0,1047.8 L910.6,1047.9 L911.2,1047.9 L911.7,1047.9 L912.3,1047.9 L912.9,1047.9 L913.5,1048.0 L914.1,1048.0 L914.6,1048.0 L915.2,1048.0 L915.8,1048.0 L916.4,1048.1 L917.0,1048.1 L917.5,1048.1 L918.1,1048.1 L918.7,1048.1 L919.3,1048.2 L919.8,1048.2 L920.4,1048.2 L921.0,1048.2 M929.1,1048.5 L929.7,1048.5 L930.3,1048.5 L930.9,1048.5 L931.4,1048.6 L932.0,1048.6 L932.6,1048.6 L933.2,1048.6 L933.7,1048.6 M941.9,1048.9 L942.4,1048.9 L943.0,1048.9 L943.6,1048.9 L944.2,1048.9 L944.8,1048.9 L945.3,1049.0 L945.9,1049.0 L946.5,1049.0 L947.1,1049.0 L947.6,1049.0 L948.2,1049.0 L948.8,1049.1 L949.4,1049.1 L950.0,1049.1 L950.5,1049.1 L951.1,1049.1 L951.7,1049.1 L952.3,1049.2 L952.9,1049.2 L953.4,1049.2 L954.0,1049.2 L954.6,1049.2 L955.2,1049.2 L955.8,1049.2 L956.3,1049.3 L956.9,1049.3 L957.5,1049.3 L958.1,1049.3 L958.6,1049.3 L959.2,1049.3 L959.8,1049.3 L960.4,1049.4 L961.0,1049.4 L961.5,1049.4 L962.1,1049.4 M970.2,1049.6 L970.8,1049.6 L971.4,1049.6 L972.0,1049.6 L972.5,1049.6 L973.1,1049.7 L973.7,1049.7 L974.3,1049.7 L974.9,1049.7 M983.0,1049.9 L983.6,1049.9 L984.1,1049.9 L984.7,1049.9 L985.3,1049.9 L985.9,1049.9 L986.4,1049.9 L987.0,1050.0 L987.6,1050.0 L988.2,1050.0 L988.8,1050.0 L989.3,1050.0 L989.9,1050.0 L990.5,1050.0" stroke="#0000a8"/>
<path d="M64.5,12.5 L65.1,13.8 L65.7,15.1 L66.2,16.4 L66.8,17.7 L67.4,18.9 L68.0,20.2 L68.6,21.5 L69.1,22.9 L69.7,24.2 L70.3,25.5 L70.9,26.8 L71.4,28.1 L72.0,29.4 L72.6,30.8 L73.2,32.1 L73.8,33.4 M76.7,40.1 L77.2,41.5 L77.8,42.8 L78.4,44.2 L79.0,45.5 M82.5,53.7 L83.0,55.1 L83.6,56.4 L84.2,57.8 L84.8,59.2 L85.3,60.5 L85.9,61.9 L86.5,63.3 L87.1,64.7 L87.7,66.1 L88.2,67.5 L88.8,68.8 L89.4,70.2 L90.0,71.6 L90.6,73.0 L91.1,74.4 M94.0,81.4 L94.6,82.8 L95.2,84.2 L95.8,85.6 L96.4,87.0 M99.2,94.0 L99.8,95.4 L100.4,96.8 L101.0,98.2 L101.6,99.6 L102.1,101.0 L102.7,102.4 L103.3,103.8 L103.9,105.3 L104.5,106.7 L105.0,108.1 L105.6,109.5 L106.2,110.9 L106.8,112.3 L107.4,113.7 L107.9,115.1 L108.5,116.5 M111.4,123.7 L112.0,125.1 L112.6,126.6 L113.1,128.0 M116.0,135.3 L116.6,136.8 L117.2,138.3 L117.8,139.8 L118.4,141.3 L118.9,142.7 L119.5,144.2 L120.1,145.7 L120.7,147.2 L121.3,148.7 L121.8,150.2 L122.4,151.7 L123.0,153.1 L123.6,154.6 L124.1,156.1 L124.7,157.6 M127.6,165.0 L128.2,166.5 L128.8,167.9 L129.4,169.4 M132.3,176.7 L132.8,178.2 L133.4,179.7 L134.0,181.1 L134.6,182.6 L135.2,184.0 L135.7,185.5 L136.3,187.0 L136.9,188.4 L137.5,189.9 L138.0,191.3 L138.6,192.8 L139.2,194.3 L139.8,195.7 L140.4,197.2 L140.9,198.6 M143.8,205.9 L144.4,207.4 L145.0,208.9 L145.6,210.3 L146.2,211.8 M149.1,219.1 L149.6,220.6 L150.2,222.0 L150.8,223.5 L151.4,225.0 L151.9,226.4 L152.5,227.9 L153.1,229.4 L153.7,230.9 L154.3,232.3 L154.8,233.8 L155.4,235.3 L156.0,236.7 L156.6,238.2 L157.2,239.7 M160.1,247.0 L160.6,248.5 L161.2,250.0 L161.8,251.4 L162.4,252.9 M165.3,260.3 L165.8,261.7 L166.4,263.2 L167.0,264.7 L167.6,266.1 L168.2,267.6 L168.7,269.1 L169.3,270.5 L169.9,272.0 L170.5,273.5 L171.1,274.9 L171.6,276.4 L172.2,277.8 L172.8,279.3 L173.4,280.7 L174.0,282.2 M176.8,289.5 L177.4,290.9 L178.0,292.4 L178.6,293.8 M181.5,301.1 L182.1,302.5 L182.6,304.0 L183.2,305.4 L183.8,306.9 L184.4,308.3 L185.0,309.8 L185.5,311.2 L186.1,312.7 L186.7,314.2 L187.3,315.6 L187.9,317.1 L188.4,318.5 L189.0,320.0 L189.6,321.4 L190.2,322.9 M193.1,330.2 L193.6,331.7 L194.2,333.1 L194.8,334.6 L195.4,336.0 M198.3,343.3 L198.9,344.7 L199.4,346.2 L200.0,347.6 L200.6,349.1 L201.2,350.5 L201.7,351.9 L202.3,353.4 L202.9,354.8 L203.5,356.3 L204.1,357.7 L204.6,359.1 L205.2,360.6 L205.8,362.0 L206.4,363.4 L207.0,364.9 M209.9,372.0 L210.4,373.5 L211.0,374.9 L211.6,376.3 L212.2,377.8 M215.1,384.9 L215.6,386.3 L216.2,387.7 L216.8,389.1 L217.4,390.6 L218.0,392.0 L218.5,393.4 L219.1,394.8 L219.7,396.2 L220.3,397.7 L220.9,399.1 L221.4,400.5 L222.0,401.9 L222.6,403.3 L223.2,404.8 L223.8,406.2 M226.7,413.3 L227.2,414.7 L227.8,416.1 L228.4,417.5 L229.0,418.9 M231.9,426.0 L232.4,427.4 L233.0,428.8 L233.6,430.2 L234.2,431.6 L234.8,433.0 L235.3,434.4 L235.9,435.9 L236.5,437.3 L237.1,438.7 L237.7,440.1 L238.2,441.5 L238.8,442.9 L239.4,444.3 L240.0,445.7 L240.6,447.1 M243.4,454.1 L244.0,455.6 L244.6,457.0 L245.2,458.4 L245.8,459.8 M248.7,466.8 L249.2,468.2 L249.8,469.6 L250.4,470.9 L251.0,472.3 L251.6,473.7 L252.1,475.1 L252.7,476.5 L253.3,477.9 L253.9,479.3 L254.4,480.7 L255.0,482.1 L255.6,483.5 L256.2,484.9 L256.8,486.2 L257.3,487.6 L257.9,489.0 M260.8,495.9 L261.4,497.3 L262.0,498.7 L262.6,500.0 L263.1,501.4 M266.0,508.3 L266.6,509.6 L267.2,511.0 L267.8,512.3 L268.3,513.7 L268.9,515.1 L269.5,516.4 L270.1,517.8 L270.7,519.1 L271.2,520.5 L271.8,521.9 L272.4,523.2 L273.0,524.6 L273.6,525.9 L274.1,527.3 L274.7,528.6 L275.3,529.9 M278.8,538.0 L279.4,539.3 L279.9,540.6 L280.5,541.9 L281.1,543.3 M284.0,549.8 L284.6,551.2 L285.1,552.5 L285.7,553.8 L286.3,555.1 L286.9,556.4 L287.5,557.7 L288.0,559.0 L288.6,560.3 L289.2,561.6 L289.8,562.9 L290.4,564.2 L290.9,565.4 L291.5,566.7 L292.1,568.0 L292.7,569.3 L293.2,570.6 L293.8,571.9 M296.7,578.3 L297.3,579.6 L297.9,580.8 L298.5,582.1 L299.0,583.4 L299.6,584.7 M302.5,591.0 L303.1,592.3 L303.7,593.6 L304.3,594.8 L304.8,596.1 L305.4,597.4 L306.0,598.6 L306.6,599.9 L307.1,601.2 L307.7,602.4 L308.3,603.7 L308.9,605.0 L309.5,606.2 L310.0,607.5 L310.6,608.8 L311.2,610.0 L311.8,611.3 L312.4,612.6 M315.8,620.2 L316.4,621.4 L317.0,622.7 L317.6,624.0 L318.2,625.2 M321.6,632.8 L322.2,634.1 L322.8,635.4 L323.4,636.6 L323.9,637.9 L324.5,639.2 L325.1,640.5 L325.7,641.7 L326.3,643.0 L326.8,644.3 L327.4,645.6 L328.0,646.9 L328.6,648.2 L329.2,649.4 L329.7,650.7 L330.3,652.0 L330.9,653.3 L331.5,654.6 M334.4,661.1 L334.9,662.4 L335.5,663.7 L336.1,665.0 L336.7,666.3 M340.2,674.0 L340.7,675.3 L341.3,676.6 L341.9,677.9 L342.5,679.2 L343.1,680.4 L343.6,681.7 L344.2,683.0 L344.8,684.3 L345.4,685.6 L345.9,686.8 L346.5,688.1 L347.1,689.4 L347.7,690.6 L348.3,691.9 L348.8,693.2 L349.4,694.4 L350.0,695.7 M353.5,703.2 L354.1,704.4 L354.6,705.6 L355.2,706.8 L355.8,708.1 M359.3,715.3 L359.8,716.5 L360.4,717.7 L361.0,718.9 L361.6,720.1 L362.2,721.3 L362.7,722.4 L363.3,723.6 L363.9,724.8 L364.5,725.9 L365.1,727.1 L365.6,728.2 L366.2,729.4 L366.8,730.5 L367.4,731.6 L368.0,732.8 L368.5,733.9 L369.1,735.0 L369.7,736.1 L370.3,737.2 M374.3,744.8 L374.9,745.9 L375.5,747.0 L376.1,748.0 L376.6,749.1 M381.3,757.4 L381.9,758.4 L382.4,759.4 L383.0,760.5 L383.6,761.5 L384.2,762.5 L384.7,763.5 L385.3,764.5 L385.9,765.5 L386.5,766.5 L387.1,767.5 L387.6,768.4 L388.2,769.4 L388.8,770.4 L389.4,771.4 L390.0,772.4 L390.5,773.3 L391.1,774.3 L391.7,775.3 L392.3,776.2 L392.9,777.2 L393.4,778.1 M398.1,785.7 L398.6,786.6 L399.2,787.5 L399.8,788.5 L400.4,789.4 L401.0,790.3 L401.5,791.2 M406.2,798.5 L406.8,799.4 L407.3,800.3 L407.9,801.1 L408.5,802.0 L409.1,802.9 L409.7,803.8 L410.2,804.7 L410.8,805.6 L411.4,806.4 L412.0,807.3 L412.5,808.2 L413.1,809.1 L413.7,809.9 L414.3,810.8 L414.9,811.7 L415.4,812.5 L416.0,813.4 L416.6,814.2 L417.2,815.1 L417.8,816.0 L418.3,816.8 L418.9,817.7 L419.5,818.5 L420.1,819.4 M425.9,827.7 L426.4,828.6 L427.0,829.4 L427.6,830.2 L428.2,831.0 L428.8,831.9 M434.6,840.0 L435.1,840.8 L435.7,841.6 L436.3,842.4 L436.9,843.2 L437.4,844.0 L438.0,844.8 L438.6,845.6 L439.2,846.4 L439.8,847.2 L440.3,848.0 L440.9,848.8 L441.5,849.6 L442.1,850.4 L442.7,851.1 L443.2,851.9 L443.8,852.7 L444.4,853.5 L445.0,854.3 L445.6,855.0 L446.1,855.8 L446.7,856.6 L447.3,857.4 L447.9,858.1 L448.5,858.9 L449.0,859.7 L449.6,860.4 L450.2,861.2 M456.0,868.7 L456.6,869.5 L457.1,870.2 L457.7,870.9 L458.3,871.7 L458.9,872.4 L459.5,873.1 L460.0,873.9 M466.4,881.8 L467.0,882.5 L467.6,883.2 L468.1,883.9 L468.7,884.6 L469.3,885.3 L469.9,886.0 L470.5,886.6 L471.0,887.3 L471.6,888.0 L472.2,888.7 L472.8,889.4 L473.4,890.1 L473.9,890.7 L474.5,891.4 L475.1,892.1 L475.7,892.8 L476.2,893.4 L476.8,894.1 L477.4,894.8 L478.0,895.4 L478.6,896.1 L479.1,896.8 L479.7,897.4 L480.3,898.1 L480.9,898.7 L481.5,899.4 L482.0,900.0 L482.6,900.7 L483.2,901.3 L483.8,901.9 M491.3,910.1 L491.9,910.7 L492.5,911.3 L493.0,911.9 L493.6,912.5 L494.2,913.1 L494.8,913.7 L495.4,914.3 L495.9,914.9 M504.0,922.9 L504.6,923.5 L505.2,924.1 L505.8,924.6 L506.4,925.2 L506.9,925.7 L507.5,926.3 L508.1,926.8 L508.7,927.4 L509.3,927.9 L509.8,928.4 L510.4,929.0 L511.0,929.5 L511.6,930.0 L512.2,930.6 L512.7,931.1 L513.3,931.6 L513.9,932.1 L514.5,932.7 L515.0,933.2 L515.6,933.7 L516.2,934.2 L516.8,934.7 L517.4,935.2 L517.9,935.7 L518.5,936.3 L519.1,936.8 L519.7,937.3 L520.3,937.8 L520.8,938.3 L521.4,938.7 L522.0,939.2 L522.6,939.7 L523.2,940.2 L523.7,940.7 L524.3,941.2 L524.9,941.7 M533.0,948.2 L533.6,948.6 L534.2,949.1 L534.7,949.5 L535.3,950.0 L535.9,950.4 L536.5,950.9 L537.1,951.3 M545.2,957.3 L545.7,957.7 L546.3,958.1 L546.9,958.5 L547.5,959.0 L548.1,959.4 L548.6,959.8 L549.2,960.2 L549.8,960.6 L550.4,961.0 L551.0,961.4 L551.5,961.8 L552.1,962.2 L552.7,962.6 L553.3,963.0 L553.8,963.4 L554.4,963.8 L555.0,964.2 L555.6,964.6 L556.2,964.9 L556.7,965.3 L557.3,965.7 L557.9,966.1 L558.5,966.5 L559.1,966.9 L559.6,967.2 L560.2,967.6 L560.8,968.0 L561.4,968.4 L562.0,968.7 L562.5,969.1 L563.1,969.5 L563.7,969.8 L564.3,970.2 L564.9,970.6 L565.4,970.9 L566.0,971.3 M574.1,976.2 L574.7,976.6 L575.3,976.9 L575.9,977.2 L576.4,977.6 L577.0,977.9 L577.6,978.3 L578.2,978.6 L578.8,978.9 M586.9,983.4 L587.4,983.7 L588.0,984.0 L588.6,984.3 L589.2,984.6 L589.8,984.9 L590.3,985.2 L590.9,985.5 L591.5,985.8 L592.1,986.1 L592.7,986.4 L593.2,986.7 L593.8,987.0 L594.4,987.3 L595.0,987.6 L595.5,987.9 L596.1,988.2 L596.7,988.5 L597.3,988.8 L597.9,989.0 L598.4,989.3 L599.0,989.6 L599.6,989.9 L600.2,990.2 L600.8,990.5 L601.3,990.7 L601.9,991.0 L602.5,991.3 L603.1,991.6 L603.7,991.8 L604.2,992.1 L604.8,992.4 L605.4,992.6 L606.0,992.9 L606.5,993.2 L607.1,993.4 M615.8,997.3 L616.4,997.5 L617.0,997.8 L617.6,998.0 L618.1,998.3 L618.7,998.5 L619.3,998.7 L619.9,999.0 M628.0,1002.2 L628.6,1002.4 L629.1,1002.7 L629.7,1002.9 L630.3,1003.1 L630.9,1003.3 L631.5,1003.5 L632.0,1003.8 L632.6,1004.0 L633.2,1004.2 L633.8,1004.4 L634.3,1004.6 L634.9,1004.8 L635.5,1005.1 L636.1,1005.3 L636.7,1005.5 L637.2,1005.7 L637.8,1005.9 L638.4,1006.1 L639.0,1006.3 L639.6,1006.5 L640.1,1006.7 L640.7,1006.9 L641.3,1007.1 L641.9,1007.3 L642.5,1007.5 L643.0,1007.7 L643.6,1007.9 L644.2,1008.1 L644.8,1008.3 L645.3,1008.5 L645.9,1008.7 L646.5,1008.9 L647.1,1009.1 L647.7,1009.3 L648.2,1009.5 L648.8,1009.7 M656.9,1012.3 L657.5,1012.4 L658.1,1012.6 L658.7,1012.8 L659.2,1013.0 L659.8,1013.1 L660.4,1013.3 L661.0,1013.5 L661.6,1013.7 M669.7,1016.0 L670.3,1016.2 L670.8,1016.3 L671.4,1016.5 L672.0,1016.7 L672.6,1016.8 L673.1,1017.0 L673.7,1017.1 L674.3,1017.3 L674.9,1017.4 L675.5,1017.6 L676.0,1017.8 L676.6,1017.9 L677.2,1018.1 L677.8,1018.2 L678.4,1018.4 L678.9,1018.5 L679.5,1018.7 L680.1,1018.8 L680.7,1019.0 L681.3,1019.1 L681.8,1019.3 L682.4,1019.4 L683.0,1019.6 L683.6,1019.7 L684.1,1019.9 L684.7,1020.0 L685.3,1020.1 L685.9,1020.3 L686.5,1020.4 L687.0,1020.6 L687.6,1020.7 L688.2,1020.9 L688.8,1021.0 L689.4,1021.1 L689.9,1021.3 M698.0,1023.2 L698.6,1023.3 L699.2,1023.4 L699.8,1023.5 L700.4,1023.7 L700.9,1023.8 L701.5,1023.9 L702.1,1024.1 L702.7,1024.2 M710.8,1025.9 L711.4,1026.0 L711.9,1026.1 L712.5,1026.2 L713.1,1026.4 L713.7,1026.5 L714.3,1026.6 L714.8,1026.7 L715.4,1026.8 L716.0,1026.9 L716.6,1027.1 L717.2,1027.2 L717.7,1027.3 L718.3,1027.4 L718.9,1027.5 L719.5,1027.6 L720.1,1027.7 L720.6,1027.8 L721.2,1027.9 L721.8,1028.1 L722.4,1028.2 L723.0,1028.3 L723.5,1028.4 L724.1,1028.5 L724.7,1028.6 L725.3,1028.7 L725.8,1028.8 L726.4,1028.9 L727.0,1029.0 L727.6,1029.1 L728.2,1029.2 L728.7,1029.3 L729.3,1029.4 L729.9,1029.5 L730.5,1029.6 L731.1,1029.7 L731.6,1029.8 M739.7,1031.2 L740.3,1031.3 L740.9,1031.4 L741.5,1031.5 L742.1,1031.6 L742.6,1031.7 L743.2,1031.8 L743.8,1031.9 L744.4,1031.9 M752.5,1033.2 L753.1,1033.3 L753.6,1033.4 L754.2,1033.4 L754.8,1033.5 L755.4,1033.6 L756.0,1033.7 L756.5,1033.8 L757.1,1033.9 L757.7,1033.9 L758.3,1034.0 L758.9,1034.1 L759.4,1034.2 L760.0,1034.3 L760.6,1034.4 L761.2,1034.4 L761.8,1034.5 L762.3,1034.6 L762.9,1034.7 L763.5,1034.8 L764.1,1034.8 L764.6,1034.9 L765.2,1035.0 L765.8,1035.1 L766.4,1035.1 L767.0,1035.2 L767.5,1035.3 L768.1,1035.4 L768.7,1035.5 L769.3,1035.5 L769.9,1035.6 L770.4,1035.7 L771.0,1035.8 L771.6,1035.8 L772.2,1035.9 L772.8,1036.0 M780.9,1037.0 L781.4,1037.0 L782.0,1037.1 L782.6,1037.2 L783.2,1037.2 L783.8,1037.3 L784.3,1037.4 L784.9,1037.5 L785.5,1037.5 M793.6,1038.4 L794.2,1038.5 L794.8,1038.5 L795.3,1038.6 L795.9,1038.7 L796.5,1038.7 L797.1,1038.8 L797.7,1038.9 L798.2,1038.9 L798.8,1039.0 L799.4,1039.0 L800.0,1039.1 L800.6,1039.2 L801.1,1039.2 L801.7,1039.3 L802.3,1039.3 L802.9,1039.4 L803.4,1039.4 L804.0,1039.5 L804.6,1039.6 L805.2,1039.6 L805.8,1039.7 L806.3,1039.7 L806.9,1039.8 L807.5,1039.8 L808.1,1039.9 L808.7,1040.0 L809.2,1040.0 L809.8,1040.1 L810.4,1040.1 L811.0,1040.2 L811.6,1040.2 L812.1,1040.3 L812.7,1040.3 L813.3,1040.4 L813.9,1040.5 L814.4,1040.5 M822.6,1041.2 L823.1,1041.3 L823.7,1041.3 L824.3,1041.4 L824.9,1041.4 L825.5,1041.5 L826.0,1041.5 L826.6,1041.6 L827.2,1041.6 M835.3,1042.3 L835.9,1042.3 L836.5,1042.4 L837.0,1042.4 L837.6,1042.5 L838.2,1042.5 L838.8,1042.6 L839.4,1042.6 L839.9,1042.6 L840.5,1042.7 L841.1,1042.7 L841.7,1042.8 L842.2,1042.8 L842.8,1042.9 L843.4,1042.9 L844.0,1042.9 L844.6,1043.0 L845.1,1043.0 L845.7,1043.1 L846.3,1043.1 L846.9,1043.2 L847.5,1043.2 L848.0,1043.2 L848.6,1043.3 L849.2,1043.3 L849.8,1043.4 L850.4,1043.4 L850.9,1043.4 L851.5,1043.5 L852.1,1043.5 L852.7,1043.6 L853.3,1043.6 L853.8,1043.6 L854.4,1043.7 L855.0,1043.7 L855.6,1043.8 M863.7,1044.3 L864.3,1044.3 L864.8,1044.4 L865.4,1044.4 L866.0,1044.4 L866.6,1044.5 L867.1,1044.5 L867.7,1044.5 L868.3,1044.6 M876.4,1045.1 L877.0,1045.1 L877.6,1045.1 L878.2,1045.1 L878.7,1045.2 L879.3,1045.2 L879.9,1045.2 L880.5,1045.3 L881.0,1045.3 L881.6,1045.3 L882.2,1045.4 L882.8,1045.4 L883.4,1045.4 L883.9,1045.5 L884.5,1045.5 L885.1,1045.5 L885.7,1045.6 L886.3,1045.6 L886.8,1045.6 L887.4,1045.7 L888.0,1045.7 L888.6,1045.7 L889.2,1045.7 L889.7,1045.8 L890.3,1045.8 L890.9,1045.8 L891.5,1045.9 L892.1,1045.9 L892.6,1045.9 L893.2,1046.0 L893.8,1046.0 L894.4,1046.0 L894.9,1046.0 L895.5,1046.1 L896.1,1046.1 L896.7,1046.1 L897.3,1046.2 M905.4,1046.5 L905.9,1046.6 L906.5,1046.6 L907.1,1046.6 L907.7,1046.6 L908.3,1046.7 L908.8,1046.7 L909.4,1046.7 L910.0,1046.7 M918.1,1047.1 L918.7,1047.1 L919.3,1047.1 L919.8,1047.2 L920.4,1047.2 L921.0,1047.2 L921.6,1047.2 L922.2,1047.3 L922.7,1047.3 L923.3,1047.3 L923.9,1047.3 L924.5,1047.4 L925.1,1047.4 L925.6,1047.4 L926.2,1047.4 L926.8,1047.4 L927.4,1047.5 L928.0,1047.5 L928.5,1047.5 L929.1,1047.5 L929.7,1047.6 L930.3,1047.6 L930.9,1047.6 L931.4,1047.6 L932.0,1047.6 L932.6,1047.7 L933.2,1047.7 L933.7,1047.7 L934.3,1047.7 L934.9,1047.7 L935.5,1047.8 L936.1,1047.8 L936.6,1047.8 L937.2,1047.8 L937.8,1047.9 L938.4,1047.9 M946.5,1048.2 L947.1,1048.2 L947.6,1048.2 L948.2,1048.2 L948.8,1048.2 L949.4,1048.2 L950.0,1048.3 L950.5,1048.3 L951.1,1048.3 M959.2,1048.6 L959.8,1048.6 L960.4,1048.6 L961.0,1048.6 L961.5,1048.6 L962.1,1048.6 L962.7,1048.7 L963.3,1048.7 L963.9,1048.7 L964.4,1048.7 L965.0,1048.7 L965.6,1048.7 L966.2,1048.8 L966.8,1048.8 L967.3,1048.8 L967.9,1048.8 L968.5,1048.8 L969.1,1048.8 L969.7,1048.9 L970.2,1048.9 L970.8,1048.9 L971.4,1048.9 L972.0,1048.9 L972.5,1048.9 L973.1,1049.0 L973.7,1049.0 L974.3,1049.0 L974.9,1049.0 L975.4,1049.0 L976.0,1049.0 L976.6,1049.1 L977.2,1049.1 L977.8,1049.1 L978.3,1049.1 L978.9,1049.1 L979.5,1049.1 L980.1,1049.1 M988.2,1049.3 L988.8,1049.4 L989.3,1049.4 L989.9,1049.4 L990.5,1049.4" stroke="#0000a8"/>
<path d="M64.5,12.5 L65.1,13.6 L65.7,14.7 L66.2,15.8 L66.8,17.0 L67.4,18.1 L68.0,19.2 L68.6,20.4 L69.1,21.5 L69.7,22.6 L70.3,23.8 L70.9,24.9 L71.4,26.1 L72.0,27.3 L72.6,28.4 L73.2,29.6 L73.8,30.8 L74.3,32.0 L74.9,33.1 M78.4,40.3 L79.0,41.5 L79.6,42.7 L80.1,43.9 L80.7,45.2 L81.3,46.4 M84.8,53.8 L85.3,55.0 L85.9,56.3 L86.5,57.5 L87.1,58.7 L87.7,60.0 L88.2,61.3 L88.8,62.5 L89.4,63.8 L90.0,65.0 L90.6,66.3 L91.1,67.6 L91.7,68.8 L92.3,70.1 L92.9,71.4 L93.5,72.7 L94.0,73.9 M97.5,81.6 L98.1,82.9 L98.7,84.2 L99.2,85.5 L99.8,86.8 M103.3,94.6 L103.9,95.9 L104.5,97.2 L105.0,98.5 L105.6,99.8 L106.2,101.1 L106.8,102.4 L107.4,103.7 L107.9,105.0 L108.5,106.3 L109.1,107.6 L109.7,109.0 L110.2,110.3 L110.8,111.6 L111.4,112.9 L112.0,114.2 L112.6,115.5 M116.0,123.6 L116.6,124.9 L117.2,126.3 L117.8,127.7 L118.4,129.1 M121.3,136.2 L121.8,137.6 L122.4,139.0 L123.0,140.5 L123.6,141.9 L124.1,143.3 L124.7,144.8 L125.3,146.2 L125.9,147.6 L126.5,149.1 L127.0,150.5 L127.6,151.9 L128.2,153.3 L128.8,154.8 L129.4,156.2 L129.9,157.6 M132.8,164.6 L133.4,165.9 L134.0,167.3 L134.6,168.7 L135.2,170.0 M138.6,177.9 L139.2,179.2 L139.8,180.5 L140.4,181.8 L140.9,183.1 L141.5,184.4 L142.1,185.7 L142.7,186.9 L143.3,188.2 L143.8,189.5 L144.4,190.8 L145.0,192.0 L145.6,193.3 L146.2,194.6 L146.7,195.8 L147.3,197.1 L147.9,198.4 M151.4,206.1 L151.9,207.4 L152.5,208.7 L153.1,210.0 L153.7,211.4 M157.2,219.4 L157.7,220.8 L158.3,222.2 L158.9,223.6 L159.5,225.0 L160.1,226.5 L160.6,227.9 L161.2,229.4 L161.8,230.8 L162.4,232.3 L162.9,233.8 L163.5,235.2 L164.1,236.7 L164.7,238.2 L165.3,239.7 M168.2,247.2 L168.7,248.7 L169.3,250.2 L169.9,251.7 L170.5,253.2 M173.4,260.7 L174.0,262.2 L174.5,263.6 L175.1,265.1 L175.7,266.6 L176.3,268.0 L176.8,269.4 L177.4,270.9 L178.0,272.3 L178.6,273.7 L179.2,275.1 L179.7,276.5 L180.3,277.8 L180.9,279.2 L181.5,280.6 L182.1,282.0 M185.0,288.7 L185.5,290.1 L186.1,291.4 L186.7,292.7 L187.3,294.1 M190.7,302.0 L191.3,303.3 L191.9,304.7 L192.5,306.0 L193.1,307.3 L193.6,308.6 L194.2,310.0 L194.8,311.3 L195.4,312.6 L196.0,313.9 L196.5,315.3 L197.1,316.6 L197.7,318.0 L198.3,319.3 L198.9,320.7 L199.4,322.0 L200.0,323.4 M202.9,330.2 L203.5,331.5 L204.1,332.9 L204.6,334.2 L205.2,335.6 M208.1,342.4 L208.7,343.7 L209.3,345.1 L209.9,346.4 L210.4,347.8 L211.0,349.1 L211.6,350.5 L212.2,351.8 L212.8,353.2 L213.3,354.5 L213.9,355.9 L214.5,357.2 L215.1,358.6 L215.6,359.9 L216.2,361.3 L216.8,362.6 L217.4,363.9 M220.9,372.0 L221.4,373.4 L222.0,374.7 L222.6,376.0 L223.2,377.4 M226.1,384.1 L226.7,385.4 L227.2,386.8 L227.8,388.1 L228.4,389.4 L229.0,390.8 L229.5,392.1 L230.1,393.4 L230.7,394.8 L231.3,396.1 L231.9,397.4 L232.4,398.8 L233.0,400.1 L233.6,401.4 L234.2,402.8 L234.8,404.1 L235.3,405.4 M238.8,413.4 L239.4,414.7 L240.0,416.1 L240.6,417.4 L241.1,418.7 M244.0,425.4 L244.6,426.7 L245.2,428.0 L245.8,429.3 L246.3,430.7 L246.9,432.0 L247.5,433.3 L248.1,434.6 L248.7,435.9 L249.2,437.3 L249.8,438.6 L250.4,439.9 L251.0,441.2 L251.6,442.5 L252.1,443.8 L252.7,445.2 L253.3,446.5 L253.9,447.8 M256.8,454.3 L257.3,455.6 L257.9,456.9 L258.5,458.3 L259.1,459.6 M262.6,467.4 L263.1,468.7 L263.7,470.0 L264.3,471.3 L264.9,472.6 L265.5,473.9 L266.0,475.2 L266.6,476.5 L267.2,477.8 L267.8,479.1 L268.3,480.4 L268.9,481.7 L269.5,483.0 L270.1,484.3 L270.7,485.6 L271.2,486.9 L271.8,488.2 M275.3,495.9 L275.9,497.2 L276.5,498.5 L277.0,499.8 L277.6,501.1 M281.1,508.8 L281.7,510.1 L282.2,511.4 L282.8,512.7 L283.4,513.9 L284.0,515.2 L284.6,516.5 L285.1,517.8 L285.7,519.1 L286.3,520.4 L286.9,521.6 L287.5,522.9 L288.0,524.2 L288.6,525.5 L289.2,526.8 L289.8,528.0 L290.4,529.3 M293.8,537.0 L294.4,538.2 L295.0,539.5 L295.6,540.8 L296.1,542.0 M299.6,549.6 L300.2,550.9 L300.8,552.2 L301.4,553.4 L301.9,554.7 L302.5,556.0 L303.1,557.2 L303.7,558.5 L304.3,559.7 L304.8,561.0 L305.4,562.2 L306.0,563.5 L306.6,564.7 L307.1,566.0 L307.7,567.2 L308.3,568.5 L308.9,569.8 L309.5,571.0 M312.9,578.5 L313.5,579.7 L314.1,581.0 L314.7,582.2 L315.3,583.5 M318.7,590.9 L319.3,592.1 L319.9,593.4 L320.5,594.6 L321.0,595.9 L321.6,597.1 L322.2,598.3 L322.8,599.6 L323.4,600.8 L323.9,602.0 L324.5,603.3 L325.1,604.5 L325.7,605.7 L326.3,607.0 L326.8,608.2 L327.4,609.4 L328.0,610.7 L328.6,611.9 L329.2,613.1 M332.6,620.5 L333.2,621.7 L333.8,622.9 L334.4,624.2 L334.9,625.4 M338.4,632.7 L339.0,634.0 L339.6,635.2 L340.2,636.4 L340.7,637.6 L341.3,638.9 L341.9,640.1 L342.5,641.3 L343.1,642.5 L343.6,643.8 L344.2,645.0 L344.8,646.2 L345.4,647.5 L345.9,648.7 L346.5,649.9 L347.1,651.2 L347.7,652.4 L348.3,653.6 M351.7,661.0 L352.3,662.3 L352.9,663.5 L353.5,664.7 L354.1,666.0 L354.6,667.2 M358.1,674.6 L358.7,675.8 L359.3,677.0 L359.8,678.2 L360.4,679.4 L361.0,680.7 L361.6,681.9 L362.2,683.1 L362.7,684.3 L363.3,685.5 L363.9,686.7 L364.5,687.9 L365.1,689.2 L365.6,690.4 L366.2,691.6 L366.8,692.8 L367.4,694.0 L368.0,695.1 M372.0,703.4 L372.6,704.6 L373.2,705.8 L373.7,707.0 L374.3,708.1 M378.4,716.2 L379.0,717.3 L379.5,718.5 L380.1,719.6 L380.7,720.7 L381.3,721.8 L381.9,723.0 L382.4,724.1 L383.0,725.2 L383.6,726.3 L384.2,727.4 L384.7,728.5 L385.3,729.6 L385.9,730.7 L386.5,731.8 L387.1,732.9 L387.6,734.0 L388.2,735.0 L388.8,736.1 L389.4,737.2 M393.4,744.5 L394.0,745.6 L394.6,746.6 L395.2,747.6 L395.8,748.7 L396.3,749.7 M401.0,757.7 L401.5,758.7 L402.1,759.7 L402.7,760.6 L403.3,761.6 L403.9,762.6 L404.4,763.6 L405.0,764.5 L405.6,765.5 L406.2,766.5 L406.8,767.4 L407.3,768.4 L407.9,769.3 L408.5,770.3 L409.1,771.2 L409.7,772.2 L410.2,773.1 L410.8,774.0 L411.4,775.0 L412.0,775.9 L412.5,776.8 L413.1,777.8 M418.3,786.0 L418.9,786.9 L419.5,787.8 L420.1,788.7 L420.7,789.6 L421.2,790.5 M426.4,798.5 L427.0,799.4 L427.6,800.2 L428.2,801.1 L428.8,802.0 L429.3,802.9 L429.9,803.7 L430.5,804.6 L431.1,805.4 L431.7,806.3 L432.2,807.2 L432.8,808.0 L433.4,808.9 L434.0,809.7 L434.6,810.6 L435.1,811.5 L435.7,812.3 L436.3,813.2 L436.9,814.0 L437.4,814.9 L438.0,815.7 L438.6,816.5 L439.2,817.4 L439.8,818.2 L440.3,819.1 L440.9,819.9 M446.1,827.4 L446.7,828.3 L447.3,829.1 L447.9,829.9 L448.5,830.7 L449.0,831.6 L449.6,832.4 M454.8,839.8 L455.4,840.6 L456.0,841.4 L456.6,842.2 L457.1,843.0 L457.7,843.8 L458.3,844.6 L458.9,845.4 L459.5,846.3 L460.0,847.1 L460.6,847.9 L461.2,848.7 L461.8,849.5 L462.3,850.3 L462.9,851.1 L463.5,851.9 L464.1,852.7 L464.7,853.5 L465.2,854.3 L465.8,855.1 L466.4,855.9 L467.0,856.7 L467.6,857.5 L468.1,858.3 L468.7,859.1 L469.3,859.9 L469.9,860.7 M475.7,868.5 L476.2,869.3 L476.8,870.1 L477.4,870.8 L478.0,871.6 L478.6,872.4 L479.1,873.1 L479.7,873.9 M485.5,881.5 L486.1,882.2 L486.7,882.9 L487.3,883.7 L487.8,884.4 L488.4,885.2 L489.0,885.9 L489.6,886.6 L490.1,887.4 L490.7,888.1 L491.3,888.8 L491.9,889.5 L492.5,890.3 L493.0,891.0 L493.6,891.7 L494.2,892.4 L494.8,893.1 L495.4,893.8 L495.9,894.5 L496.5,895.3 L497.1,896.0 L497.7,896.7 L498.3,897.4 L498.8,898.1 L499.4,898.8 L500.0,899.4 L500.6,900.1 L501.2,900.8 L501.7,901.5 L502.3,902.2 M509.3,910.2 L509.8,910.8 L510.4,911.5 L511.0,912.1 L511.6,912.8 L512.2,913.4 L512.7,914.1 L513.3,914.7 M520.8,922.7 L521.4,923.3 L522.0,923.9 L522.6,924.5 L523.2,925.1 L523.7,925.7 L524.3,926.3 L524.9,926.9 L525.5,927.4 L526.1,928.0 L526.6,928.6 L527.2,929.2 L527.8,929.7 L528.4,930.3 L528.9,930.9 L529.5,931.4 L530.1,932.0 L530.7,932.6 L531.3,933.1 L531.8,933.7 L532.4,934.2 L533.0,934.8 L533.6,935.3 L534.2,935.8 L534.7,936.4 L535.3,936.9 L535.9,937.5 L536.5,938.0 L537.1,938.5 L537.6,939.0 L538.2,939.6 L538.8,940.1 L539.4,940.6 L540.0,941.1 L540.5,941.6 L541.1,942.1 L541.7,942.6 M549.8,949.5 L550.4,949.9 L551.0,950.4 L551.5,950.9 L552.1,951.3 L552.7,951.8 L553.3,952.3 L553.8,952.7 L554.4,953.2 M562.5,959.4 L563.1,959.8 L563.7,960.3 L564.3,960.7 L564.9,961.1 L565.4,961.6 L566.0,962.0 L566.6,962.4 L567.2,962.8 L567.7,963.2 L568.3,963.6 L568.9,964.1 L569.5,964.5 L570.1,964.9 L570.6,965.3 L571.2,965.7 L571.8,966.1 L572.4,966.5 L573.0,966.9 L573.5,967.3 L574.1,967.7 L574.7,968.1 L575.3,968.5 L575.9,968.9 L576.4,969.3 L577.0,969.7 L577.6,970.1 L578.2,970.5 L578.8,970.8 L579.3,971.2 L579.9,971.6 L580.5,972.0 L581.1,972.4 L581.6,972.7 L582.2,973.1 L582.8,973.5 M590.9,978.5 L591.5,978.9 L592.1,979.2 L592.7,979.6 L593.2,979.9 L593.8,980.3 L594.4,980.6 L595.0,981.0 L595.5,981.3 M603.7,985.9 L604.2,986.2 L604.8,986.5 L605.4,986.8 L606.0,987.1 L606.5,987.4 L607.1,987.7 L607.7,988.1 L608.3,988.4 L608.9,988.7 L609.4,989.0 L610.0,989.3 L610.6,989.6 L611.2,989.9 L611.8,990.2 L612.3,990.5 L612.9,990.8 L613.5,991.0 L614.1,991.3 L614.7,991.6 L615.2,991.9 L615.8,992.2 L616.4,992.5 L617.0,992.8 L617.6,993.1 L618.1,993.3 L618.7,993.6 L619.3,993.9 L619.9,994.2 L620.4,994.5 L621.0,994.7 L621.6,995.0 L622.2,995.3 L622.8,995.5 L623.3,995.8 L623.9,996.1 L624.5,996.3 M632.6,999.9 L633.2,1000.2 L633.8,1000.4 L634.3,1000.7 L634.9,1000.9 L635.5,1001.2 L636.1,1001.4 L636.7,1001.7 L637.2,1001.9 M645.3,1005.1 L645.9,1005.3 L646.5,1005.6 L647.1,1005.8 L647.7,1006.0 L648.2,1006.2 L648.8,1006.4 L649.4,1006.7 L650.0,1006.9 L650.6,1007.1 L651.1,1007.3 L651.7,1007.5 L652.3,1007.7 L652.9,1007.9 L653.5,1008.1 L654.0,1008.4 L654.6,1008.6 L655.2,1008.8 L655.8,1009.0 L656.4,1009.2 L656.9,1009.4 L657.5,1009.6 L658.1,1009.8 L658.7,1010.0 L659.2,1010.2 L659.8,1010.4 L660.4,1010.6 L661.0,1010.8 L661.6,1011.0 L662.1,1011.2 L662.7,1011.4 L663.3,1011.6 L663.9,1011.8 L664.5,1011.9 L665.0,1012.1 L665.6,1012.3 M673.7,1014.9 L674.3,1015.1 L674.9,1015.2 L675.5,1015.4 L676.0,1015.6 L676.6,1015.8 L677.2,1015.9 L677.8,1016.1 L678.4,1016.3 M686.5,1018.6 L687.0,1018.7 L687.6,1018.9 L688.2,1019.1 L688.8,1019.2 L689.4,1019.4 L689.9,1019.5 L690.5,1019.7 L691.1,1019.8 L691.7,1020.0 L692.3,1020.1 L692.8,1020.3 L693.4,1020.4 L694.0,1020.6 L694.6,1020.7 L695.2,1020.9 L695.7,1021.0 L696.3,1021.2 L696.9,1021.3 L697.5,1021.5 L698.0,1021.6 L698.6,1021.8 L699.2,1021.9 L699.8,1022.1 L700.4,1022.2 L700.9,1022.3 L701.5,1022.5 L702.1,1022.6 L702.7,1022.8 L703.3,1022.9 L703.8,1023.1 L704.4,1023.2 L705.0,1023.3 L705.6,1023.5 L706.2,1023.6 L706.7,1023.7 L707.3,1023.9 M715.4,1025.7 L716.0,1025.8 L716.6,1025.9 L717.2,1026.1 L717.7,1026.2 L718.3,1026.3 L718.9,1026.4 L719.5,1026.6 L720.1,1026.7 M728.2,1028.3 L728.7,1028.4 L729.3,1028.6 L729.9,1028.7 L730.5,1028.8 L731.1,1028.9 L731.6,1029.0 L732.2,1029.1 L732.8,1029.2 L733.4,1029.3 L734.0,1029.4 L734.5,1029.6 L735.1,1029.7 L735.7,1029.8 L736.3,1029.9 L736.8,1030.0 L737.4,1030.1 L738.0,1030.2 L738.6,1030.3 L739.2,1030.4 L739.7,1030.5 L740.3,1030.6 L740.9,1030.7 L741.5,1030.8 L742.1,1030.9 L742.6,1031.0 L743.2,1031.1 L743.8,1031.2 L744.4,1031.3 L745.0,1031.4 L745.5,1031.5 L746.1,1031.6 L746.7,1031.7 L747.3,1031.8 L747.9,1031.9 L748.4,1032.0 M756.5,1033.3 L757.1,1033.4 L757.7,1033.5 L758.3,1033.6 L758.9,1033.7 L759.4,1033.8 L760.0,1033.8 L760.6,1033.9 L761.2,1034.0 M769.3,1035.2 L769.9,1035.3 L770.4,1035.4 L771.0,1035.4 L771.6,1035.5 L772.2,1035.6 L772.8,1035.7 L773.3,1035.8 L773.9,1035.8 L774.5,1035.9 L775.1,1036.0 L775.6,1036.1 L776.2,1036.1 L776.8,1036.2 L777.4,1036.3 L778.0,1036.4 L778.5,1036.5 L779.1,1036.5 L779.7,1036.6 L780.3,1036.7 L780.9,1036.8 L781.4,1036.8 L782.0,1036.9 L782.6,1037.0 L783.2,1037.0 L783.8,1037.1 L784.3,1037.2 L784.9,1037.3 L785.5,1037.3 L786.1,1037.4 L786.7,1037.5 L787.2,1037.5 L787.8,1037.6 L788.4,1037.7 L789.0,1037.8 L789.5,1037.8 L790.1,1037.9 M798.2,1038.8 L798.8,1038.9 L799.4,1039.0 L800.0,1039.0 L800.6,1039.1 L801.1,1039.1 L801.7,1039.2 L802.3,1039.3 L802.9,1039.3 M811.0,1040.2 L811.6,1040.2 L812.1,1040.3 L812.7,1040.3 L813.3,1040.4 L813.9,1040.5 L814.4,1040.5 L815.0,1040.6 L815.6,1040.6 L816.2,1040.7 L816.8,1040.7 L817.3,1040.8 L817.9,1040.8 L818.5,1040.9 L819.1,1041.0 L819.7,1041.0 L820.2,1041.1 L820.8,1041.1 L821.4,1041.2 L822.0,1041.2 L822.6,1041.3 L823.1,1041.3 L823.7,1041.4 L824.3,1041.4 L824.9,1041.5 L825.5,1041.5 L826.0,1041.6 L826.6,1041.6 L827.2,1041.7 L827.8,1041.7 L828.3,1041.8 L828.9,1041.8 L829.5,1041.9 L830.1,1041.9 L830.7,1042.0 L831.2,1042.0 M839.4,1042.7 L839.9,1042.8 L840.5,1042.8 L841.1,1042.8 L841.7,1042.9 L842.2,1042.9 L842.8,1043.0 L843.4,1043.0 L844.0,1043.1 M852.1,1043.7 L852.7,1043.7 L853.3,1043.8 L853.8,1043.8 L854.4,1043.8 L855.0,1043.9 L855.6,1043.9 L856.1,1044.0 L856.7,1044.0 L857.3,1044.0 L857.9,1044.1 L858.5,1044.1 L859.0,1044.2 L859.6,1044.2 L860.2,1044.2 L860.8,1044.3 L861.4,1044.3 L861.9,1044.4 L862.5,1044.4 L863.1,1044.4 L863.7,1044.5 L864.3,1044.5 L864.8,1044.5 L865.4,1044.6 L866.0,1044.6 L866.6,1044.7 L867.1,1044.7 L867.7,1044.7 L868.3,1044.8 L868.9,1044.8 L869.5,1044.8 L870.0,1044.9 L870.6,1044.9 L871.2,1044.9 L871.8,1045.0 L872.4,1045.0 L872.9,1045.0 M881.0,1045.5 L881.6,1045.6 L882.2,1045.6 L882.8,1045.6 L883.4,1045.7 L883.9,1045.7 L884.5,1045.7 L885.1,1045.8 L885.7,1045.8 M893.8,1046.2 L894.4,1046.2 L894.9,1046.3 L895.5,1046.3 L896.1,1046.3 L896.7,1046.4 L897.3,1046.4 L897.8,1046.4 L898.4,1046.4 L899.0,1046.5 L899.6,1046.5 L900.2,1046.5 L900.7,1046.6 L901.3,1046.6 L901.9,1046.6 L902.5,1046.6 L903.1,1046.7 L903.6,1046.7 L904.2,1046.7 L904.8,1046.7 L905.4,1046.8 L905.9,1046.8 L906.5,1046.8 L907.1,1046.9 L907.7,1046.9 L908.3,1046.9 L908.8,1046.9 L909.4,1047.0 L910.0,1047.0 L910.6,1047.0 L911.2,1047.0 L911.7,1047.1 L912.3,1047.1 L912.9,1047.1 L913.5,1047.1 L914.1,1047.2 M922.2,1047.5 L922.7,1047.5 L923.3,1047.6 L923.9,1047.6 L924.5,1047.6 L925.1,1047.6 L925.6,1047.6 L926.2,1047.7 L926.8,1047.7 M934.9,1048.0 L935.5,1048.0 L936.1,1048.0 L936.6,1048.1 L937.2,1048.1 L937.8,1048.1 L938.4,1048.1 L939.0,1048.1 L939.5,1048.2 L940.1,1048.2 L940.7,1048.2 L941.3,1048.2 L941.9,1048.2 L942.4,1048.3 L943.0,1048.3 L943.6,1048.3 L944.2,1048.3 L944.8,1048.3 L945.3,1048.4 L945.9,1048.4 L946.5,1048.4 L947.1,1048.4 L947.6,1048.4 L948.2,1048.5 L948.8,1048.5 L949.4,1048.5 L950.0,1048.5 L950.5,1048.5 L951.1,1048.6 L951.7,1048.6 L952.3,1048.6 L952.9,1048.6 L953.4,1048.6 L954.0,1048.6 L954.6,1048.7 L955.2,1048.7 L955.8,1048.7 M963.9,1048.9 L964.4,1049.0 L965.0,1049.0 L965.6,1049.0 L966.2,1049.0 L966.8,1049.0 L967.3,1049.0 L967.9,1049.1 L968.5,1049.1 M976.6,1049.3 L977.2,1049.3 L977.8,1049.3 L978.3,1049.3 L978.9,1049.4 L979.5,1049.4 L980.1,1049.4 L980.7,1049.4 L981.2,1049.4 L981.8,1049.4 L982.4,1049.4 L983.0,1049.5 L983.6,1049.5 L984.1,1049.5 L984.7,1049.5 L985.3,1049.5 L985.9,1049.5 L986.4,1049.5 L987.0,1049.6 L987.6,1049.6 L988.2,1049.6 L988.8,1049.6 L989.3,1049.6 L989.9,1049.6 L990.5,1049.6" stroke="#0000a8"/>
</g>

<g stroke="#525252" stroke-width="2" fill="none">
<path d="M387.1,826.4 L429.4,596"/>
<path d="M196.3,536.8 L157.2,811"/>
</g>
<g fill="#525252" stroke="#525252" stroke-width="1" stroke-linejoin="round">
<path d="M436.6,560 L420.5,595.5 L437,598.5 Z"/>
<path d="M148.7,808 L165.3,812 L152.1,850 L149.4,832 Z"/>
</g>
<rect x="64.2" y="12.6" width="925.0999999999999" height="1039.6000000000001" fill="none" stroke="#525252" stroke-width="2"/>
<path d="M122.4,1052.2 V1046.2 M122.4,12.6 V18.6 M180.2,1052.2 V1046.2 M180.2,12.6 V18.6 M238.1,1052.2 V1046.2 M238.1,12.6 V18.6 M296.0,1052.2 V1046.2 M296.0,12.6 V18.6 M353.9,1052.2 V1046.2 M353.9,12.6 V18.6 M411.8,1052.2 V1046.2 M411.8,12.6 V18.6 M469.6,1052.2 V1046.2 M469.6,12.6 V18.6 M527.5,1052.2 V1046.2 M527.5,12.6 V18.6 M585.4,1052.2 V1046.2 M585.4,12.6 V18.6 M643.2,1052.2 V1046.2 M643.2,12.6 V18.6 M701.1,1052.2 V1046.2 M701.1,12.6 V18.6 M759.0,1052.2 V1046.2 M759.0,12.6 V18.6 M816.9,1052.2 V1046.2 M816.9,12.6 V18.6 M874.8,1052.2 V1046.2 M874.8,12.6 V18.6 M932.6,1052.2 V1046.2 M932.6,12.6 V18.6 M64.2,1000.5 H70.2 M989.3,1000.5 H985.3 M64.2,948.5 H70.2 M989.3,948.5 H985.3 M64.2,896.5 H70.2 M989.3,896.5 H985.3 M64.2,844.5 H70.2 M989.3,844.5 H985.3 M64.2,792.5 H70.2 M989.3,792.5 H985.3 M64.2,740.5 H70.2 M989.3,740.5 H985.3 M64.2,688.5 H70.2 M989.3,688.5 H985.3 M64.2,636.5 H70.2 M989.3,636.5 H985.3 M64.2,584.5 H70.2 M989.3,584.5 H985.3 M64.2,532.5 H70.2 M989.3,532.5 H985.3 M64.2,480.5 H70.2 M989.3,480.5 H985.3 M64.2,428.5 H70.2 M989.3,428.5 H985.3 M64.2,376.5 H70.2 M989.3,376.5 H985.3 M64.2,324.5 H70.2 M989.3,324.5 H985.3 M64.2,272.5 H70.2 M989.3,272.5 H985.3 M64.2,220.5 H70.2 M989.3,220.5 H985.3 M64.2,168.5 H70.2 M989.3,168.5 H985.3 M64.2,116.5 H70.2 M989.3,116.5 H985.3 M64.2,64.5 H70.2 M989.3,64.5 H985.3" stroke="#525252" stroke-width="2" fill="none"/>

<rect x="589" y="35.8" width="379.6" height="137.1" fill="#fff" stroke="#525252" stroke-width="2"/>
<path d="M603,88 H786" stroke="#d00000" stroke-width="2"/>
<path d="M603,137 H623 M632,137 H636 M644.7,137 H664.7 M673.7,137 H677.7 M686.4,137 H706.4 M715.4,137 H719.4 M728.1,137 H748.1 M757.1,137 H761.1 M769.8,137 H786.6" stroke="#0000a8" stroke-width="2"/>

<g opacity="0.999">
<text transform="translate(130.40,75.77) scale(0.9991,1.0323)" style="font-family:'Liberation Serif',serif;font-style:italic;font-size:37px">Temperature &amp; Concentration</text>
<text transform="translate(126.00,119.62) scale(0.9956,0.9118)" style="font-family:'Liberation Serif',serif;font-style:italic;font-size:37px">profiles for Maxwell Nanofluid</text>
<text transform="translate(810.96,102.50) scale(1.1795,1.0957)" style="font-family:'Liberation Serif',serif;font-style:italic;font-size:37px">M <tspan style="stroke-width:0.2px">=</tspan> 0.1</text>
<text transform="translate(810.95,151.51) scale(1.1828,1.1130)" style="font-family:'Liberation Serif',serif;font-style:italic;font-size:37px">M <tspan style="stroke-width:0.2px">=</tspan> 0.5</text>
<text transform="translate(770.48,236.88) scale(1.0074,1.0783)" style="font-family:'Liberation Serif',serif;font-style:italic;font-size:37px">Pr <tspan style="stroke-width:0.2px">=</tspan> Le <tspan style="stroke-width:0.2px">=</tspan> 1.0</text>
<text transform="translate(767.77,274.75) scale(1.0770,1.1562)" style="font-family:'Liberation Serif',serif;font-style:italic;font-size:37px">N<tspan font-size="21" dy="8" style="stroke-width:0.3px">b</tspan><tspan dy="-8"> <tspan style="stroke-width:0.2px">=</tspan> N</tspan><tspan font-size="21" dy="8" style="stroke-width:0.3px">t</tspan><tspan dy="-8"> <tspan style="stroke-width:0.2px">=</tspan> 0.1</tspan></text>
<text transform="translate(349.93,489.74) scale(1.0333,0.9515)" style="font-family:'Liberation Serif',serif;font-style:italic;font-size:37px"><tspan font-style="normal">ϕ</tspan>(<tspan font-style="normal">η</tspan>)</text>
<text transform="translate(351.99,531.06) scale(1.0021,0.9485)" style="font-family:'Liberation Serif',serif;font-style:italic;font-size:37px"><tspan font-style="normal">β</tspan> <tspan style="stroke-width:0.2px">=</tspan> 0.1, 1.0, 3.0</text>
<text transform="translate(79.14,893.38) scale(1.0810,0.9455)" style="font-family:'Liberation Serif',serif;font-style:italic;font-size:37px"><tspan font-style="normal">θ</tspan>(<tspan font-style="normal">η</tspan>)</text>
<text transform="translate(76.48,940.12) scale(1.0052,0.9121)" style="font-family:'Liberation Serif',serif;font-style:italic;font-size:37px"><tspan font-style="normal">β</tspan> <tspan style="stroke-width:0.2px">=</tspan> 3.0, 1.0, 0.1</text>
<text transform="translate(30.05,26.02) scale(1.1500,0.9800)" style="font-family:'Liberation Serif',serif;font-style:italic;font-size:37px">1</text>
<text transform="translate(-0.90,236.09) scale(1.0756,1.0870)" style="font-family:'Liberation Serif',serif;font-style:italic;font-size:37px">0.8</text>
<text transform="translate(-1.24,443.28) scale(1.1182,1.0826)" style="font-family:'Liberation Serif',serif;font-style:italic;font-size:37px">0.6</text>
<text transform="translate(-1.29,652.48) scale(1.1442,1.0826)" style="font-family:'Liberation Serif',serif;font-style:italic;font-size:37px">0.4</text>
<text transform="translate(-1.26,860.09) scale(1.1279,1.0870)" style="font-family:'Liberation Serif',serif;font-style:italic;font-size:37px">0.2</text>
<text transform="translate(28.62,1069.17) scale(1.1875,1.1739)" style="font-family:'Liberation Serif',serif;font-style:italic;font-size:37px">0</text>
<text transform="translate(52.62,1097.13) scale(1.1875,1.1304)" style="font-family:'Liberation Serif',serif;font-style:italic;font-size:37px">0</text>
<text transform="translate(284.48,1097.84) scale(1.1250,1.1391)" style="font-family:'Liberation Serif',serif;font-style:italic;font-size:37px">2</text>
<text transform="translate(514.58,1097.84) scale(1.2188,1.1391)" style="font-family:'Liberation Serif',serif;font-style:italic;font-size:37px">4</text>
<text transform="translate(746.62,1097.84) scale(1.1875,1.1391)" style="font-family:'Liberation Serif',serif;font-style:italic;font-size:37px">6</text>
<text transform="translate(979.04,1097.52) scale(0.9588,1.1217)" style="font-family:'Liberation Serif',serif;font-style:italic;font-size:37px">8</text>
<text transform="translate(507.76,1127.45) scale(1.6786,1.3208)" style="font-family:'Liberation Serif',serif;font-style:normal;font-size:37px">η</text>
</g>
</svg>
</body></html>
